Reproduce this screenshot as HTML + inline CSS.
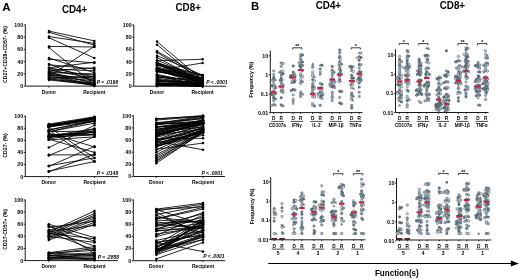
<!DOCTYPE html>
<html><head><meta charset="utf-8"><style>
html,body{margin:0;padding:0;background:#fff;}
body{width:520px;height:279px;overflow:hidden;}
svg{display:block;filter:blur(0.35px);}
</style></head><body>
<svg width="520" height="279" viewBox="0 0 520 279" font-family="'Liberation Sans', sans-serif" fill="#000">
<rect width="520" height="279" fill="#fff"/>
<text x="2.30" y="10.60" font-size="11.5" font-weight="bold" text-anchor="start" >A</text>
<text x="250.90" y="9.50" font-size="11.3" font-weight="bold" text-anchor="start" >B</text>
<text x="61.90" y="13.30" font-size="10.7" font-weight="bold" text-anchor="start" textLength="25.4" lengthAdjust="spacingAndGlyphs">CD4+</text>
<text x="175.50" y="10.90" font-size="10.7" font-weight="bold" text-anchor="start" textLength="25.4" lengthAdjust="spacingAndGlyphs">CD8+</text>
<text x="315.70" y="9.20" font-size="10.7" font-weight="bold" text-anchor="start" textLength="25.4" lengthAdjust="spacingAndGlyphs">CD4+</text>
<text x="439.70" y="8.90" font-size="10.7" font-weight="bold" text-anchor="start" textLength="25.4" lengthAdjust="spacingAndGlyphs">CD8+</text>
<line x1="25.30" y1="24.50" x2="25.30" y2="86.10" stroke="#000" stroke-width="0.9"/>
<line x1="25.30" y1="86.10" x2="118.00" y2="86.10" stroke="#000" stroke-width="0.9"/>
<line x1="23.70" y1="86.10" x2="25.30" y2="86.10" stroke="#000" stroke-width="0.8"/>
<text x="23.20" y="88.00" font-size="5.3" font-weight="bold" text-anchor="end" >0</text>
<line x1="23.70" y1="73.88" x2="25.30" y2="73.88" stroke="#000" stroke-width="0.8"/>
<text x="23.20" y="75.78" font-size="5.3" font-weight="bold" text-anchor="end" >20</text>
<line x1="23.70" y1="61.66" x2="25.30" y2="61.66" stroke="#000" stroke-width="0.8"/>
<text x="23.20" y="63.56" font-size="5.3" font-weight="bold" text-anchor="end" >40</text>
<line x1="23.70" y1="49.44" x2="25.30" y2="49.44" stroke="#000" stroke-width="0.8"/>
<text x="23.20" y="51.34" font-size="5.3" font-weight="bold" text-anchor="end" >60</text>
<line x1="23.70" y1="37.22" x2="25.30" y2="37.22" stroke="#000" stroke-width="0.8"/>
<text x="23.20" y="39.12" font-size="5.3" font-weight="bold" text-anchor="end" >80</text>
<line x1="23.70" y1="25.00" x2="25.30" y2="25.00" stroke="#000" stroke-width="0.8"/>
<text x="23.20" y="26.90" font-size="5.3" font-weight="bold" text-anchor="end" >100</text>
<line x1="49.00" y1="86.10" x2="49.00" y2="87.60" stroke="#000" stroke-width="0.8"/>
<line x1="94.30" y1="86.10" x2="94.30" y2="87.60" stroke="#000" stroke-width="0.8"/>
<text x="49.00" y="93.50" font-size="4.95" font-weight="bold" text-anchor="middle" >Donor</text>
<text x="94.30" y="93.50" font-size="4.95" font-weight="bold" text-anchor="middle" >Recipient</text>
<text x="0" y="0" font-size="5.2" font-weight="bold" text-anchor="middle" transform="translate(6.6,54.55) rotate(-90)">CD27+CD28+CD57- (%)</text>
<text x="118.20" y="84.00" font-size="5.0" font-weight="bold" font-style="italic" text-anchor="end">P = .0198</text>
<line x1="49.00" y1="31.11" x2="94.30" y2="40.89" stroke="#000" stroke-width="0.85"/>
<line x1="49.00" y1="32.33" x2="94.30" y2="45.16" stroke="#000" stroke-width="0.85"/>
<line x1="49.00" y1="36.61" x2="94.30" y2="43.33" stroke="#000" stroke-width="0.85"/>
<line x1="49.00" y1="37.83" x2="94.30" y2="57.99" stroke="#000" stroke-width="0.85"/>
<line x1="49.00" y1="46.38" x2="94.30" y2="47.00" stroke="#000" stroke-width="0.85"/>
<line x1="49.00" y1="47.61" x2="94.30" y2="84.27" stroke="#000" stroke-width="0.85"/>
<line x1="49.00" y1="57.99" x2="94.30" y2="72.66" stroke="#000" stroke-width="0.85"/>
<line x1="49.00" y1="59.22" x2="94.30" y2="62.88" stroke="#000" stroke-width="0.85"/>
<line x1="49.00" y1="64.10" x2="94.30" y2="81.21" stroke="#000" stroke-width="0.85"/>
<line x1="49.00" y1="64.72" x2="94.30" y2="68.99" stroke="#000" stroke-width="0.85"/>
<line x1="49.00" y1="67.77" x2="94.30" y2="62.27" stroke="#000" stroke-width="0.85"/>
<line x1="49.00" y1="67.77" x2="94.30" y2="76.94" stroke="#000" stroke-width="0.85"/>
<line x1="49.00" y1="68.99" x2="94.30" y2="70.82" stroke="#000" stroke-width="0.85"/>
<line x1="49.00" y1="69.60" x2="94.30" y2="78.77" stroke="#000" stroke-width="0.85"/>
<line x1="49.00" y1="70.82" x2="94.30" y2="67.77" stroke="#000" stroke-width="0.85"/>
<line x1="49.00" y1="71.44" x2="94.30" y2="75.10" stroke="#000" stroke-width="0.85"/>
<line x1="49.00" y1="72.05" x2="94.30" y2="83.66" stroke="#000" stroke-width="0.85"/>
<line x1="49.00" y1="72.66" x2="94.30" y2="73.88" stroke="#000" stroke-width="0.85"/>
<line x1="49.00" y1="73.27" x2="94.30" y2="79.99" stroke="#000" stroke-width="0.85"/>
<line x1="49.00" y1="73.88" x2="94.30" y2="82.43" stroke="#000" stroke-width="0.85"/>
<line x1="49.00" y1="74.49" x2="94.30" y2="84.88" stroke="#000" stroke-width="0.85"/>
<line x1="49.00" y1="75.10" x2="94.30" y2="78.16" stroke="#000" stroke-width="0.85"/>
<line x1="49.00" y1="75.71" x2="94.30" y2="85.49" stroke="#000" stroke-width="0.85"/>
<line x1="49.00" y1="76.32" x2="94.30" y2="46.38" stroke="#000" stroke-width="0.85"/>
<line x1="49.00" y1="76.94" x2="94.30" y2="80.60" stroke="#000" stroke-width="0.85"/>
<line x1="49.00" y1="77.55" x2="94.30" y2="84.27" stroke="#000" stroke-width="0.85"/>
<line x1="49.00" y1="78.16" x2="94.30" y2="76.32" stroke="#000" stroke-width="0.85"/>
<line x1="49.00" y1="78.77" x2="94.30" y2="85.49" stroke="#000" stroke-width="0.85"/>
<line x1="49.00" y1="79.38" x2="94.30" y2="83.04" stroke="#000" stroke-width="0.85"/>
<line x1="49.00" y1="79.99" x2="94.30" y2="84.88" stroke="#000" stroke-width="0.85"/>
<circle cx="49.0" cy="31.11" r="1.25" fill="#000"/>
<circle cx="94.3" cy="40.89" r="1.25" fill="#000"/>
<circle cx="49.0" cy="32.33" r="1.25" fill="#000"/>
<circle cx="94.3" cy="45.16" r="1.25" fill="#000"/>
<circle cx="49.0" cy="36.61" r="1.25" fill="#000"/>
<circle cx="94.3" cy="43.33" r="1.25" fill="#000"/>
<circle cx="49.0" cy="37.83" r="1.25" fill="#000"/>
<circle cx="94.3" cy="57.99" r="1.25" fill="#000"/>
<circle cx="49.0" cy="46.38" r="1.25" fill="#000"/>
<circle cx="94.3" cy="47.00" r="1.25" fill="#000"/>
<circle cx="49.0" cy="47.61" r="1.25" fill="#000"/>
<circle cx="94.3" cy="84.27" r="1.25" fill="#000"/>
<circle cx="49.0" cy="57.99" r="1.25" fill="#000"/>
<circle cx="94.3" cy="72.66" r="1.25" fill="#000"/>
<circle cx="49.0" cy="59.22" r="1.25" fill="#000"/>
<circle cx="94.3" cy="62.88" r="1.25" fill="#000"/>
<circle cx="49.0" cy="64.10" r="1.25" fill="#000"/>
<circle cx="94.3" cy="81.21" r="1.25" fill="#000"/>
<circle cx="49.0" cy="64.72" r="1.25" fill="#000"/>
<circle cx="94.3" cy="68.99" r="1.25" fill="#000"/>
<circle cx="49.0" cy="67.77" r="1.25" fill="#000"/>
<circle cx="94.3" cy="62.27" r="1.25" fill="#000"/>
<circle cx="49.0" cy="67.77" r="1.25" fill="#000"/>
<circle cx="94.3" cy="76.94" r="1.25" fill="#000"/>
<circle cx="49.0" cy="68.99" r="1.25" fill="#000"/>
<circle cx="94.3" cy="70.82" r="1.25" fill="#000"/>
<circle cx="49.0" cy="69.60" r="1.25" fill="#000"/>
<circle cx="94.3" cy="78.77" r="1.25" fill="#000"/>
<circle cx="49.0" cy="70.82" r="1.25" fill="#000"/>
<circle cx="94.3" cy="67.77" r="1.25" fill="#000"/>
<circle cx="49.0" cy="71.44" r="1.25" fill="#000"/>
<circle cx="94.3" cy="75.10" r="1.25" fill="#000"/>
<circle cx="49.0" cy="72.05" r="1.25" fill="#000"/>
<circle cx="94.3" cy="83.66" r="1.25" fill="#000"/>
<circle cx="49.0" cy="72.66" r="1.25" fill="#000"/>
<circle cx="94.3" cy="73.88" r="1.25" fill="#000"/>
<circle cx="49.0" cy="73.27" r="1.25" fill="#000"/>
<circle cx="94.3" cy="79.99" r="1.25" fill="#000"/>
<circle cx="49.0" cy="73.88" r="1.25" fill="#000"/>
<circle cx="94.3" cy="82.43" r="1.25" fill="#000"/>
<circle cx="49.0" cy="74.49" r="1.25" fill="#000"/>
<circle cx="94.3" cy="84.88" r="1.25" fill="#000"/>
<circle cx="49.0" cy="75.10" r="1.25" fill="#000"/>
<circle cx="94.3" cy="78.16" r="1.25" fill="#000"/>
<circle cx="49.0" cy="75.71" r="1.25" fill="#000"/>
<circle cx="94.3" cy="85.49" r="1.25" fill="#000"/>
<circle cx="49.0" cy="76.32" r="1.25" fill="#000"/>
<circle cx="94.3" cy="46.38" r="1.25" fill="#000"/>
<circle cx="49.0" cy="76.94" r="1.25" fill="#000"/>
<circle cx="94.3" cy="80.60" r="1.25" fill="#000"/>
<circle cx="49.0" cy="77.55" r="1.25" fill="#000"/>
<circle cx="94.3" cy="84.27" r="1.25" fill="#000"/>
<circle cx="49.0" cy="78.16" r="1.25" fill="#000"/>
<circle cx="94.3" cy="76.32" r="1.25" fill="#000"/>
<circle cx="49.0" cy="78.77" r="1.25" fill="#000"/>
<circle cx="94.3" cy="85.49" r="1.25" fill="#000"/>
<circle cx="49.0" cy="79.38" r="1.25" fill="#000"/>
<circle cx="94.3" cy="83.04" r="1.25" fill="#000"/>
<circle cx="49.0" cy="79.99" r="1.25" fill="#000"/>
<circle cx="94.3" cy="84.88" r="1.25" fill="#000"/>
<line x1="133.80" y1="24.60" x2="133.80" y2="86.20" stroke="#000" stroke-width="0.9"/>
<line x1="133.80" y1="86.20" x2="226.00" y2="86.20" stroke="#000" stroke-width="0.9"/>
<line x1="132.20" y1="86.20" x2="133.80" y2="86.20" stroke="#000" stroke-width="0.8"/>
<text x="131.70" y="88.10" font-size="5.3" font-weight="bold" text-anchor="end" >0</text>
<line x1="132.20" y1="73.98" x2="133.80" y2="73.98" stroke="#000" stroke-width="0.8"/>
<text x="131.70" y="75.88" font-size="5.3" font-weight="bold" text-anchor="end" >20</text>
<line x1="132.20" y1="61.76" x2="133.80" y2="61.76" stroke="#000" stroke-width="0.8"/>
<text x="131.70" y="63.66" font-size="5.3" font-weight="bold" text-anchor="end" >40</text>
<line x1="132.20" y1="49.54" x2="133.80" y2="49.54" stroke="#000" stroke-width="0.8"/>
<text x="131.70" y="51.44" font-size="5.3" font-weight="bold" text-anchor="end" >60</text>
<line x1="132.20" y1="37.32" x2="133.80" y2="37.32" stroke="#000" stroke-width="0.8"/>
<text x="131.70" y="39.22" font-size="5.3" font-weight="bold" text-anchor="end" >80</text>
<line x1="132.20" y1="25.10" x2="133.80" y2="25.10" stroke="#000" stroke-width="0.8"/>
<text x="131.70" y="27.00" font-size="5.3" font-weight="bold" text-anchor="end" >100</text>
<line x1="157.00" y1="86.20" x2="157.00" y2="87.70" stroke="#000" stroke-width="0.8"/>
<line x1="202.60" y1="86.20" x2="202.60" y2="87.70" stroke="#000" stroke-width="0.8"/>
<text x="157.00" y="93.50" font-size="4.95" font-weight="bold" text-anchor="middle" >Donor</text>
<text x="202.60" y="93.50" font-size="4.95" font-weight="bold" text-anchor="middle" >Recipient</text>
<text x="0" y="0" font-size="5.2" font-weight="bold" text-anchor="middle" transform="translate(6.6,54.65) rotate(-90)"></text>
<text x="227.60" y="83.80" font-size="5.0" font-weight="bold" font-style="italic" text-anchor="end">P &lt; .0001</text>
<line x1="157.00" y1="41.60" x2="202.60" y2="80.09" stroke="#000" stroke-width="0.85"/>
<line x1="157.00" y1="44.65" x2="202.60" y2="83.15" stroke="#000" stroke-width="0.85"/>
<line x1="157.00" y1="51.37" x2="202.60" y2="76.42" stroke="#000" stroke-width="0.85"/>
<line x1="157.00" y1="52.60" x2="202.60" y2="78.87" stroke="#000" stroke-width="0.85"/>
<line x1="157.00" y1="55.65" x2="202.60" y2="75.20" stroke="#000" stroke-width="0.85"/>
<line x1="157.00" y1="57.48" x2="202.60" y2="81.31" stroke="#000" stroke-width="0.85"/>
<line x1="157.00" y1="60.54" x2="202.60" y2="59.32" stroke="#000" stroke-width="0.85"/>
<line x1="157.00" y1="70.31" x2="202.60" y2="62.98" stroke="#000" stroke-width="0.85"/>
<line x1="157.00" y1="78.25" x2="202.60" y2="84.10" stroke="#000" stroke-width="0.85"/>
<line x1="157.00" y1="84.67" x2="202.60" y2="85.64" stroke="#000" stroke-width="0.85"/>
<line x1="157.00" y1="85.00" x2="202.60" y2="86.02" stroke="#000" stroke-width="0.85"/>
<line x1="157.00" y1="75.23" x2="202.60" y2="86.02" stroke="#000" stroke-width="0.85"/>
<line x1="157.00" y1="75.49" x2="202.60" y2="82.45" stroke="#000" stroke-width="0.85"/>
<line x1="157.00" y1="80.92" x2="202.60" y2="82.19" stroke="#000" stroke-width="0.85"/>
<line x1="157.00" y1="71.18" x2="202.60" y2="80.41" stroke="#000" stroke-width="0.85"/>
<line x1="157.00" y1="85.26" x2="202.60" y2="85.95" stroke="#000" stroke-width="0.85"/>
<line x1="157.00" y1="82.93" x2="202.60" y2="85.95" stroke="#000" stroke-width="0.85"/>
<line x1="157.00" y1="64.21" x2="202.60" y2="82.40" stroke="#000" stroke-width="0.85"/>
<line x1="157.00" y1="69.40" x2="202.60" y2="81.76" stroke="#000" stroke-width="0.85"/>
<line x1="157.00" y1="84.89" x2="202.60" y2="86.02" stroke="#000" stroke-width="0.85"/>
<line x1="157.00" y1="68.20" x2="202.60" y2="81.91" stroke="#000" stroke-width="0.85"/>
<line x1="157.00" y1="70.94" x2="202.60" y2="82.45" stroke="#000" stroke-width="0.85"/>
<line x1="157.00" y1="64.86" x2="202.60" y2="78.75" stroke="#000" stroke-width="0.85"/>
<line x1="157.00" y1="71.26" x2="202.60" y2="79.94" stroke="#000" stroke-width="0.85"/>
<line x1="157.00" y1="66.77" x2="202.60" y2="80.34" stroke="#000" stroke-width="0.85"/>
<line x1="157.00" y1="83.58" x2="202.60" y2="84.02" stroke="#000" stroke-width="0.85"/>
<line x1="157.00" y1="82.74" x2="202.60" y2="86.02" stroke="#000" stroke-width="0.85"/>
<line x1="157.00" y1="68.55" x2="202.60" y2="78.37" stroke="#000" stroke-width="0.85"/>
<line x1="157.00" y1="62.45" x2="202.60" y2="80.33" stroke="#000" stroke-width="0.85"/>
<line x1="157.00" y1="70.69" x2="202.60" y2="80.93" stroke="#000" stroke-width="0.85"/>
<line x1="157.00" y1="63.50" x2="202.60" y2="74.90" stroke="#000" stroke-width="0.85"/>
<line x1="157.00" y1="68.67" x2="202.60" y2="83.50" stroke="#000" stroke-width="0.85"/>
<line x1="157.00" y1="69.16" x2="202.60" y2="75.94" stroke="#000" stroke-width="0.85"/>
<line x1="157.00" y1="79.30" x2="202.60" y2="83.43" stroke="#000" stroke-width="0.85"/>
<line x1="157.00" y1="85.78" x2="202.60" y2="86.02" stroke="#000" stroke-width="0.85"/>
<line x1="157.00" y1="83.60" x2="202.60" y2="84.41" stroke="#000" stroke-width="0.85"/>
<line x1="157.00" y1="83.30" x2="202.60" y2="85.52" stroke="#000" stroke-width="0.85"/>
<line x1="157.00" y1="62.57" x2="202.60" y2="83.74" stroke="#000" stroke-width="0.85"/>
<line x1="157.00" y1="71.97" x2="202.60" y2="78.05" stroke="#000" stroke-width="0.85"/>
<line x1="157.00" y1="62.79" x2="202.60" y2="81.80" stroke="#000" stroke-width="0.85"/>
<line x1="157.00" y1="77.30" x2="202.60" y2="79.92" stroke="#000" stroke-width="0.85"/>
<line x1="157.00" y1="82.77" x2="202.60" y2="86.02" stroke="#000" stroke-width="0.85"/>
<line x1="157.00" y1="80.65" x2="202.60" y2="83.77" stroke="#000" stroke-width="0.85"/>
<line x1="157.00" y1="79.88" x2="202.60" y2="85.56" stroke="#000" stroke-width="0.85"/>
<line x1="157.00" y1="77.01" x2="202.60" y2="81.13" stroke="#000" stroke-width="0.85"/>
<line x1="157.00" y1="67.91" x2="202.60" y2="80.00" stroke="#000" stroke-width="0.85"/>
<line x1="157.00" y1="68.32" x2="202.60" y2="82.80" stroke="#000" stroke-width="0.85"/>
<line x1="157.00" y1="65.28" x2="202.60" y2="75.22" stroke="#000" stroke-width="0.85"/>
<line x1="157.00" y1="76.38" x2="202.60" y2="84.79" stroke="#000" stroke-width="0.85"/>
<line x1="157.00" y1="69.54" x2="202.60" y2="85.88" stroke="#000" stroke-width="0.85"/>
<line x1="157.00" y1="81.29" x2="202.60" y2="85.57" stroke="#000" stroke-width="0.85"/>
<line x1="157.00" y1="85.12" x2="202.60" y2="86.02" stroke="#000" stroke-width="0.85"/>
<line x1="157.00" y1="83.98" x2="202.60" y2="86.02" stroke="#000" stroke-width="0.85"/>
<line x1="157.00" y1="62.48" x2="202.60" y2="79.14" stroke="#000" stroke-width="0.85"/>
<line x1="157.00" y1="80.16" x2="202.60" y2="84.84" stroke="#000" stroke-width="0.85"/>
<line x1="157.00" y1="83.46" x2="202.60" y2="82.60" stroke="#000" stroke-width="0.85"/>
<line x1="157.00" y1="74.33" x2="202.60" y2="83.93" stroke="#000" stroke-width="0.85"/>
<line x1="157.00" y1="83.96" x2="202.60" y2="85.99" stroke="#000" stroke-width="0.85"/>
<line x1="157.00" y1="63.83" x2="202.60" y2="84.59" stroke="#000" stroke-width="0.85"/>
<line x1="157.00" y1="60.18" x2="202.60" y2="79.40" stroke="#000" stroke-width="0.85"/>
<circle cx="157.0" cy="41.60" r="1.25" fill="#000"/>
<circle cx="202.6" cy="80.09" r="1.25" fill="#000"/>
<circle cx="157.0" cy="44.65" r="1.25" fill="#000"/>
<circle cx="202.6" cy="83.15" r="1.25" fill="#000"/>
<circle cx="157.0" cy="51.37" r="1.25" fill="#000"/>
<circle cx="202.6" cy="76.42" r="1.25" fill="#000"/>
<circle cx="157.0" cy="52.60" r="1.25" fill="#000"/>
<circle cx="202.6" cy="78.87" r="1.25" fill="#000"/>
<circle cx="157.0" cy="55.65" r="1.25" fill="#000"/>
<circle cx="202.6" cy="75.20" r="1.25" fill="#000"/>
<circle cx="157.0" cy="57.48" r="1.25" fill="#000"/>
<circle cx="202.6" cy="81.31" r="1.25" fill="#000"/>
<circle cx="157.0" cy="60.54" r="1.25" fill="#000"/>
<circle cx="202.6" cy="59.32" r="1.25" fill="#000"/>
<circle cx="157.0" cy="70.31" r="1.25" fill="#000"/>
<circle cx="202.6" cy="62.98" r="1.25" fill="#000"/>
<circle cx="157.0" cy="78.25" r="1.25" fill="#000"/>
<circle cx="202.6" cy="84.10" r="1.25" fill="#000"/>
<circle cx="157.0" cy="84.67" r="1.25" fill="#000"/>
<circle cx="202.6" cy="85.64" r="1.25" fill="#000"/>
<circle cx="157.0" cy="85.00" r="1.25" fill="#000"/>
<circle cx="202.6" cy="86.02" r="1.25" fill="#000"/>
<circle cx="157.0" cy="75.23" r="1.25" fill="#000"/>
<circle cx="202.6" cy="86.02" r="1.25" fill="#000"/>
<circle cx="157.0" cy="75.49" r="1.25" fill="#000"/>
<circle cx="202.6" cy="82.45" r="1.25" fill="#000"/>
<circle cx="157.0" cy="80.92" r="1.25" fill="#000"/>
<circle cx="202.6" cy="82.19" r="1.25" fill="#000"/>
<circle cx="157.0" cy="71.18" r="1.25" fill="#000"/>
<circle cx="202.6" cy="80.41" r="1.25" fill="#000"/>
<circle cx="157.0" cy="85.26" r="1.25" fill="#000"/>
<circle cx="202.6" cy="85.95" r="1.25" fill="#000"/>
<circle cx="157.0" cy="82.93" r="1.25" fill="#000"/>
<circle cx="202.6" cy="85.95" r="1.25" fill="#000"/>
<circle cx="157.0" cy="64.21" r="1.25" fill="#000"/>
<circle cx="202.6" cy="82.40" r="1.25" fill="#000"/>
<circle cx="157.0" cy="69.40" r="1.25" fill="#000"/>
<circle cx="202.6" cy="81.76" r="1.25" fill="#000"/>
<circle cx="157.0" cy="84.89" r="1.25" fill="#000"/>
<circle cx="202.6" cy="86.02" r="1.25" fill="#000"/>
<circle cx="157.0" cy="68.20" r="1.25" fill="#000"/>
<circle cx="202.6" cy="81.91" r="1.25" fill="#000"/>
<circle cx="157.0" cy="70.94" r="1.25" fill="#000"/>
<circle cx="202.6" cy="82.45" r="1.25" fill="#000"/>
<circle cx="157.0" cy="64.86" r="1.25" fill="#000"/>
<circle cx="202.6" cy="78.75" r="1.25" fill="#000"/>
<circle cx="157.0" cy="71.26" r="1.25" fill="#000"/>
<circle cx="202.6" cy="79.94" r="1.25" fill="#000"/>
<circle cx="157.0" cy="66.77" r="1.25" fill="#000"/>
<circle cx="202.6" cy="80.34" r="1.25" fill="#000"/>
<circle cx="157.0" cy="83.58" r="1.25" fill="#000"/>
<circle cx="202.6" cy="84.02" r="1.25" fill="#000"/>
<circle cx="157.0" cy="82.74" r="1.25" fill="#000"/>
<circle cx="202.6" cy="86.02" r="1.25" fill="#000"/>
<circle cx="157.0" cy="68.55" r="1.25" fill="#000"/>
<circle cx="202.6" cy="78.37" r="1.25" fill="#000"/>
<circle cx="157.0" cy="62.45" r="1.25" fill="#000"/>
<circle cx="202.6" cy="80.33" r="1.25" fill="#000"/>
<circle cx="157.0" cy="70.69" r="1.25" fill="#000"/>
<circle cx="202.6" cy="80.93" r="1.25" fill="#000"/>
<circle cx="157.0" cy="63.50" r="1.25" fill="#000"/>
<circle cx="202.6" cy="74.90" r="1.25" fill="#000"/>
<circle cx="157.0" cy="68.67" r="1.25" fill="#000"/>
<circle cx="202.6" cy="83.50" r="1.25" fill="#000"/>
<circle cx="157.0" cy="69.16" r="1.25" fill="#000"/>
<circle cx="202.6" cy="75.94" r="1.25" fill="#000"/>
<circle cx="157.0" cy="79.30" r="1.25" fill="#000"/>
<circle cx="202.6" cy="83.43" r="1.25" fill="#000"/>
<circle cx="157.0" cy="85.78" r="1.25" fill="#000"/>
<circle cx="202.6" cy="86.02" r="1.25" fill="#000"/>
<circle cx="157.0" cy="83.60" r="1.25" fill="#000"/>
<circle cx="202.6" cy="84.41" r="1.25" fill="#000"/>
<circle cx="157.0" cy="83.30" r="1.25" fill="#000"/>
<circle cx="202.6" cy="85.52" r="1.25" fill="#000"/>
<circle cx="157.0" cy="62.57" r="1.25" fill="#000"/>
<circle cx="202.6" cy="83.74" r="1.25" fill="#000"/>
<circle cx="157.0" cy="71.97" r="1.25" fill="#000"/>
<circle cx="202.6" cy="78.05" r="1.25" fill="#000"/>
<circle cx="157.0" cy="62.79" r="1.25" fill="#000"/>
<circle cx="202.6" cy="81.80" r="1.25" fill="#000"/>
<circle cx="157.0" cy="77.30" r="1.25" fill="#000"/>
<circle cx="202.6" cy="79.92" r="1.25" fill="#000"/>
<circle cx="157.0" cy="82.77" r="1.25" fill="#000"/>
<circle cx="202.6" cy="86.02" r="1.25" fill="#000"/>
<circle cx="157.0" cy="80.65" r="1.25" fill="#000"/>
<circle cx="202.6" cy="83.77" r="1.25" fill="#000"/>
<circle cx="157.0" cy="79.88" r="1.25" fill="#000"/>
<circle cx="202.6" cy="85.56" r="1.25" fill="#000"/>
<circle cx="157.0" cy="77.01" r="1.25" fill="#000"/>
<circle cx="202.6" cy="81.13" r="1.25" fill="#000"/>
<circle cx="157.0" cy="67.91" r="1.25" fill="#000"/>
<circle cx="202.6" cy="80.00" r="1.25" fill="#000"/>
<circle cx="157.0" cy="68.32" r="1.25" fill="#000"/>
<circle cx="202.6" cy="82.80" r="1.25" fill="#000"/>
<circle cx="157.0" cy="65.28" r="1.25" fill="#000"/>
<circle cx="202.6" cy="75.22" r="1.25" fill="#000"/>
<circle cx="157.0" cy="76.38" r="1.25" fill="#000"/>
<circle cx="202.6" cy="84.79" r="1.25" fill="#000"/>
<circle cx="157.0" cy="69.54" r="1.25" fill="#000"/>
<circle cx="202.6" cy="85.88" r="1.25" fill="#000"/>
<circle cx="157.0" cy="81.29" r="1.25" fill="#000"/>
<circle cx="202.6" cy="85.57" r="1.25" fill="#000"/>
<circle cx="157.0" cy="85.12" r="1.25" fill="#000"/>
<circle cx="202.6" cy="86.02" r="1.25" fill="#000"/>
<circle cx="157.0" cy="83.98" r="1.25" fill="#000"/>
<circle cx="202.6" cy="86.02" r="1.25" fill="#000"/>
<circle cx="157.0" cy="62.48" r="1.25" fill="#000"/>
<circle cx="202.6" cy="79.14" r="1.25" fill="#000"/>
<circle cx="157.0" cy="80.16" r="1.25" fill="#000"/>
<circle cx="202.6" cy="84.84" r="1.25" fill="#000"/>
<circle cx="157.0" cy="83.46" r="1.25" fill="#000"/>
<circle cx="202.6" cy="82.60" r="1.25" fill="#000"/>
<circle cx="157.0" cy="74.33" r="1.25" fill="#000"/>
<circle cx="202.6" cy="83.93" r="1.25" fill="#000"/>
<circle cx="157.0" cy="83.96" r="1.25" fill="#000"/>
<circle cx="202.6" cy="85.99" r="1.25" fill="#000"/>
<circle cx="157.0" cy="63.83" r="1.25" fill="#000"/>
<circle cx="202.6" cy="84.59" r="1.25" fill="#000"/>
<circle cx="157.0" cy="60.18" r="1.25" fill="#000"/>
<circle cx="202.6" cy="79.40" r="1.25" fill="#000"/>
<line x1="25.30" y1="115.70" x2="25.30" y2="176.60" stroke="#000" stroke-width="0.9"/>
<line x1="25.30" y1="176.60" x2="118.00" y2="176.60" stroke="#000" stroke-width="0.9"/>
<line x1="23.70" y1="176.60" x2="25.30" y2="176.60" stroke="#000" stroke-width="0.8"/>
<text x="23.20" y="178.50" font-size="5.3" font-weight="bold" text-anchor="end" >0</text>
<line x1="23.70" y1="164.52" x2="25.30" y2="164.52" stroke="#000" stroke-width="0.8"/>
<text x="23.20" y="166.42" font-size="5.3" font-weight="bold" text-anchor="end" >20</text>
<line x1="23.70" y1="152.44" x2="25.30" y2="152.44" stroke="#000" stroke-width="0.8"/>
<text x="23.20" y="154.34" font-size="5.3" font-weight="bold" text-anchor="end" >40</text>
<line x1="23.70" y1="140.36" x2="25.30" y2="140.36" stroke="#000" stroke-width="0.8"/>
<text x="23.20" y="142.26" font-size="5.3" font-weight="bold" text-anchor="end" >60</text>
<line x1="23.70" y1="128.28" x2="25.30" y2="128.28" stroke="#000" stroke-width="0.8"/>
<text x="23.20" y="130.18" font-size="5.3" font-weight="bold" text-anchor="end" >80</text>
<line x1="23.70" y1="116.20" x2="25.30" y2="116.20" stroke="#000" stroke-width="0.8"/>
<text x="23.20" y="118.10" font-size="5.3" font-weight="bold" text-anchor="end" >100</text>
<line x1="48.80" y1="176.60" x2="48.80" y2="178.10" stroke="#000" stroke-width="0.8"/>
<line x1="94.50" y1="176.60" x2="94.50" y2="178.10" stroke="#000" stroke-width="0.8"/>
<text x="48.80" y="184.00" font-size="4.95" font-weight="bold" text-anchor="middle" >Donor</text>
<text x="94.50" y="184.00" font-size="4.95" font-weight="bold" text-anchor="middle" >Recipient</text>
<text x="0" y="0" font-size="5.2" font-weight="bold" text-anchor="middle" transform="translate(6.6,145.40) rotate(-90)">CD27- (%)</text>
<text x="118.20" y="174.60" font-size="5.0" font-weight="bold" font-style="italic" text-anchor="end">P = .0148</text>
<line x1="48.80" y1="131.50" x2="94.50" y2="131.21" stroke="#000" stroke-width="0.85"/>
<line x1="48.80" y1="131.75" x2="94.50" y2="121.11" stroke="#000" stroke-width="0.85"/>
<line x1="48.80" y1="126.28" x2="94.50" y2="118.71" stroke="#000" stroke-width="0.85"/>
<line x1="48.80" y1="136.10" x2="94.50" y2="132.11" stroke="#000" stroke-width="0.85"/>
<line x1="48.80" y1="137.64" x2="94.50" y2="129.24" stroke="#000" stroke-width="0.85"/>
<line x1="48.80" y1="131.67" x2="94.50" y2="123.20" stroke="#000" stroke-width="0.85"/>
<line x1="48.80" y1="134.98" x2="94.50" y2="132.56" stroke="#000" stroke-width="0.85"/>
<line x1="48.80" y1="127.13" x2="94.50" y2="117.41" stroke="#000" stroke-width="0.85"/>
<line x1="48.80" y1="126.46" x2="94.50" y2="117.69" stroke="#000" stroke-width="0.85"/>
<line x1="48.80" y1="127.01" x2="94.50" y2="118.97" stroke="#000" stroke-width="0.85"/>
<line x1="48.80" y1="136.66" x2="94.50" y2="131.03" stroke="#000" stroke-width="0.85"/>
<line x1="48.80" y1="134.56" x2="94.50" y2="134.25" stroke="#000" stroke-width="0.85"/>
<line x1="48.80" y1="139.90" x2="94.50" y2="136.87" stroke="#000" stroke-width="0.85"/>
<line x1="48.80" y1="136.13" x2="94.50" y2="128.60" stroke="#000" stroke-width="0.85"/>
<line x1="48.80" y1="124.76" x2="94.50" y2="119.90" stroke="#000" stroke-width="0.85"/>
<line x1="48.80" y1="125.08" x2="94.50" y2="117.41" stroke="#000" stroke-width="0.85"/>
<line x1="48.80" y1="124.79" x2="94.50" y2="120.82" stroke="#000" stroke-width="0.85"/>
<line x1="48.80" y1="136.76" x2="94.50" y2="134.30" stroke="#000" stroke-width="0.85"/>
<line x1="48.80" y1="137.15" x2="94.50" y2="134.93" stroke="#000" stroke-width="0.85"/>
<line x1="48.80" y1="130.18" x2="94.50" y2="120.39" stroke="#000" stroke-width="0.85"/>
<line x1="48.80" y1="126.65" x2="94.50" y2="121.44" stroke="#000" stroke-width="0.85"/>
<line x1="48.80" y1="129.71" x2="94.50" y2="121.02" stroke="#000" stroke-width="0.85"/>
<line x1="48.80" y1="138.98" x2="94.50" y2="131.80" stroke="#000" stroke-width="0.85"/>
<line x1="48.80" y1="125.52" x2="94.50" y2="117.41" stroke="#000" stroke-width="0.85"/>
<line x1="48.80" y1="127.07" x2="94.50" y2="157.88" stroke="#000" stroke-width="0.85"/>
<line x1="48.80" y1="130.09" x2="94.50" y2="161.50" stroke="#000" stroke-width="0.85"/>
<line x1="48.80" y1="133.11" x2="94.50" y2="147.00" stroke="#000" stroke-width="0.85"/>
<line x1="48.80" y1="147.61" x2="94.50" y2="125.26" stroke="#000" stroke-width="0.85"/>
<line x1="48.80" y1="154.86" x2="94.50" y2="154.86" stroke="#000" stroke-width="0.85"/>
<line x1="48.80" y1="155.46" x2="94.50" y2="136.74" stroke="#000" stroke-width="0.85"/>
<line x1="48.80" y1="165.73" x2="94.50" y2="157.88" stroke="#000" stroke-width="0.85"/>
<line x1="48.80" y1="166.33" x2="94.50" y2="146.40" stroke="#000" stroke-width="0.85"/>
<line x1="48.80" y1="171.16" x2="94.50" y2="161.50" stroke="#000" stroke-width="0.85"/>
<line x1="48.80" y1="171.77" x2="94.50" y2="154.25" stroke="#000" stroke-width="0.85"/>
<line x1="48.80" y1="124.05" x2="94.50" y2="116.80" stroke="#000" stroke-width="0.85"/>
<line x1="48.80" y1="125.26" x2="94.50" y2="118.01" stroke="#000" stroke-width="0.85"/>
<line x1="48.80" y1="139.15" x2="94.50" y2="152.44" stroke="#000" stroke-width="0.85"/>
<circle cx="48.8" cy="131.50" r="1.25" fill="#000"/>
<circle cx="94.5" cy="131.21" r="1.25" fill="#000"/>
<circle cx="48.8" cy="131.75" r="1.25" fill="#000"/>
<circle cx="94.5" cy="121.11" r="1.25" fill="#000"/>
<circle cx="48.8" cy="126.28" r="1.25" fill="#000"/>
<circle cx="94.5" cy="118.71" r="1.25" fill="#000"/>
<circle cx="48.8" cy="136.10" r="1.25" fill="#000"/>
<circle cx="94.5" cy="132.11" r="1.25" fill="#000"/>
<circle cx="48.8" cy="137.64" r="1.25" fill="#000"/>
<circle cx="94.5" cy="129.24" r="1.25" fill="#000"/>
<circle cx="48.8" cy="131.67" r="1.25" fill="#000"/>
<circle cx="94.5" cy="123.20" r="1.25" fill="#000"/>
<circle cx="48.8" cy="134.98" r="1.25" fill="#000"/>
<circle cx="94.5" cy="132.56" r="1.25" fill="#000"/>
<circle cx="48.8" cy="127.13" r="1.25" fill="#000"/>
<circle cx="94.5" cy="117.41" r="1.25" fill="#000"/>
<circle cx="48.8" cy="126.46" r="1.25" fill="#000"/>
<circle cx="94.5" cy="117.69" r="1.25" fill="#000"/>
<circle cx="48.8" cy="127.01" r="1.25" fill="#000"/>
<circle cx="94.5" cy="118.97" r="1.25" fill="#000"/>
<circle cx="48.8" cy="136.66" r="1.25" fill="#000"/>
<circle cx="94.5" cy="131.03" r="1.25" fill="#000"/>
<circle cx="48.8" cy="134.56" r="1.25" fill="#000"/>
<circle cx="94.5" cy="134.25" r="1.25" fill="#000"/>
<circle cx="48.8" cy="139.90" r="1.25" fill="#000"/>
<circle cx="94.5" cy="136.87" r="1.25" fill="#000"/>
<circle cx="48.8" cy="136.13" r="1.25" fill="#000"/>
<circle cx="94.5" cy="128.60" r="1.25" fill="#000"/>
<circle cx="48.8" cy="124.76" r="1.25" fill="#000"/>
<circle cx="94.5" cy="119.90" r="1.25" fill="#000"/>
<circle cx="48.8" cy="125.08" r="1.25" fill="#000"/>
<circle cx="94.5" cy="117.41" r="1.25" fill="#000"/>
<circle cx="48.8" cy="124.79" r="1.25" fill="#000"/>
<circle cx="94.5" cy="120.82" r="1.25" fill="#000"/>
<circle cx="48.8" cy="136.76" r="1.25" fill="#000"/>
<circle cx="94.5" cy="134.30" r="1.25" fill="#000"/>
<circle cx="48.8" cy="137.15" r="1.25" fill="#000"/>
<circle cx="94.5" cy="134.93" r="1.25" fill="#000"/>
<circle cx="48.8" cy="130.18" r="1.25" fill="#000"/>
<circle cx="94.5" cy="120.39" r="1.25" fill="#000"/>
<circle cx="48.8" cy="126.65" r="1.25" fill="#000"/>
<circle cx="94.5" cy="121.44" r="1.25" fill="#000"/>
<circle cx="48.8" cy="129.71" r="1.25" fill="#000"/>
<circle cx="94.5" cy="121.02" r="1.25" fill="#000"/>
<circle cx="48.8" cy="138.98" r="1.25" fill="#000"/>
<circle cx="94.5" cy="131.80" r="1.25" fill="#000"/>
<circle cx="48.8" cy="125.52" r="1.25" fill="#000"/>
<circle cx="94.5" cy="117.41" r="1.25" fill="#000"/>
<circle cx="48.8" cy="127.07" r="1.25" fill="#000"/>
<circle cx="94.5" cy="157.88" r="1.25" fill="#000"/>
<circle cx="48.8" cy="130.09" r="1.25" fill="#000"/>
<circle cx="94.5" cy="161.50" r="1.25" fill="#000"/>
<circle cx="48.8" cy="133.11" r="1.25" fill="#000"/>
<circle cx="94.5" cy="147.00" r="1.25" fill="#000"/>
<circle cx="48.8" cy="147.61" r="1.25" fill="#000"/>
<circle cx="94.5" cy="125.26" r="1.25" fill="#000"/>
<circle cx="48.8" cy="154.86" r="1.25" fill="#000"/>
<circle cx="94.5" cy="154.86" r="1.25" fill="#000"/>
<circle cx="48.8" cy="155.46" r="1.25" fill="#000"/>
<circle cx="94.5" cy="136.74" r="1.25" fill="#000"/>
<circle cx="48.8" cy="165.73" r="1.25" fill="#000"/>
<circle cx="94.5" cy="157.88" r="1.25" fill="#000"/>
<circle cx="48.8" cy="166.33" r="1.25" fill="#000"/>
<circle cx="94.5" cy="146.40" r="1.25" fill="#000"/>
<circle cx="48.8" cy="171.16" r="1.25" fill="#000"/>
<circle cx="94.5" cy="161.50" r="1.25" fill="#000"/>
<circle cx="48.8" cy="171.77" r="1.25" fill="#000"/>
<circle cx="94.5" cy="154.25" r="1.25" fill="#000"/>
<circle cx="48.8" cy="124.05" r="1.25" fill="#000"/>
<circle cx="94.5" cy="116.80" r="1.25" fill="#000"/>
<circle cx="48.8" cy="125.26" r="1.25" fill="#000"/>
<circle cx="94.5" cy="118.01" r="1.25" fill="#000"/>
<circle cx="48.8" cy="139.15" r="1.25" fill="#000"/>
<circle cx="94.5" cy="152.44" r="1.25" fill="#000"/>
<line x1="133.30" y1="115.30" x2="133.30" y2="176.50" stroke="#000" stroke-width="0.9"/>
<line x1="133.30" y1="176.50" x2="225.00" y2="176.50" stroke="#000" stroke-width="0.9"/>
<line x1="131.70" y1="176.50" x2="133.30" y2="176.50" stroke="#000" stroke-width="0.8"/>
<text x="131.20" y="178.40" font-size="5.3" font-weight="bold" text-anchor="end" >0</text>
<line x1="131.70" y1="164.36" x2="133.30" y2="164.36" stroke="#000" stroke-width="0.8"/>
<text x="131.20" y="166.26" font-size="5.3" font-weight="bold" text-anchor="end" >20</text>
<line x1="131.70" y1="152.22" x2="133.30" y2="152.22" stroke="#000" stroke-width="0.8"/>
<text x="131.20" y="154.12" font-size="5.3" font-weight="bold" text-anchor="end" >40</text>
<line x1="131.70" y1="140.08" x2="133.30" y2="140.08" stroke="#000" stroke-width="0.8"/>
<text x="131.20" y="141.98" font-size="5.3" font-weight="bold" text-anchor="end" >60</text>
<line x1="131.70" y1="127.94" x2="133.30" y2="127.94" stroke="#000" stroke-width="0.8"/>
<text x="131.20" y="129.84" font-size="5.3" font-weight="bold" text-anchor="end" >80</text>
<line x1="131.70" y1="115.80" x2="133.30" y2="115.80" stroke="#000" stroke-width="0.8"/>
<text x="131.20" y="117.70" font-size="5.3" font-weight="bold" text-anchor="end" >100</text>
<line x1="156.30" y1="176.50" x2="156.30" y2="178.00" stroke="#000" stroke-width="0.8"/>
<line x1="203.00" y1="176.50" x2="203.00" y2="178.00" stroke="#000" stroke-width="0.8"/>
<text x="156.30" y="184.00" font-size="4.95" font-weight="bold" text-anchor="middle" >Donor</text>
<text x="203.00" y="184.00" font-size="4.95" font-weight="bold" text-anchor="middle" >Recipient</text>
<text x="0" y="0" font-size="5.2" font-weight="bold" text-anchor="middle" transform="translate(6.6,145.15) rotate(-90)"></text>
<text x="222.90" y="175.00" font-size="5.0" font-weight="bold" font-style="italic" text-anchor="end">P &lt;  .0001</text>
<line x1="156.30" y1="140.86" x2="203.00" y2="128.38" stroke="#000" stroke-width="0.85"/>
<line x1="156.30" y1="124.89" x2="203.00" y2="118.07" stroke="#000" stroke-width="0.85"/>
<line x1="156.30" y1="129.43" x2="203.00" y2="120.15" stroke="#000" stroke-width="0.85"/>
<line x1="156.30" y1="146.64" x2="203.00" y2="131.85" stroke="#000" stroke-width="0.85"/>
<line x1="156.30" y1="131.38" x2="203.00" y2="119.85" stroke="#000" stroke-width="0.85"/>
<line x1="156.30" y1="140.19" x2="203.00" y2="130.68" stroke="#000" stroke-width="0.85"/>
<line x1="156.30" y1="123.29" x2="203.00" y2="122.72" stroke="#000" stroke-width="0.85"/>
<line x1="156.30" y1="144.91" x2="203.00" y2="127.53" stroke="#000" stroke-width="0.85"/>
<line x1="156.30" y1="123.89" x2="203.00" y2="117.27" stroke="#000" stroke-width="0.85"/>
<line x1="156.30" y1="146.86" x2="203.00" y2="129.74" stroke="#000" stroke-width="0.85"/>
<line x1="156.30" y1="129.94" x2="203.00" y2="122.54" stroke="#000" stroke-width="0.85"/>
<line x1="156.30" y1="123.41" x2="203.00" y2="123.95" stroke="#000" stroke-width="0.85"/>
<line x1="156.30" y1="146.62" x2="203.00" y2="129.68" stroke="#000" stroke-width="0.85"/>
<line x1="156.30" y1="134.85" x2="203.00" y2="121.62" stroke="#000" stroke-width="0.85"/>
<line x1="156.30" y1="132.29" x2="203.00" y2="120.92" stroke="#000" stroke-width="0.85"/>
<line x1="156.30" y1="142.86" x2="203.00" y2="131.61" stroke="#000" stroke-width="0.85"/>
<line x1="156.30" y1="127.08" x2="203.00" y2="123.34" stroke="#000" stroke-width="0.85"/>
<line x1="156.30" y1="126.75" x2="203.00" y2="120.68" stroke="#000" stroke-width="0.85"/>
<line x1="156.30" y1="127.30" x2="203.00" y2="122.37" stroke="#000" stroke-width="0.85"/>
<line x1="156.30" y1="123.42" x2="203.00" y2="116.34" stroke="#000" stroke-width="0.85"/>
<line x1="156.30" y1="130.03" x2="203.00" y2="123.35" stroke="#000" stroke-width="0.85"/>
<line x1="156.30" y1="136.40" x2="203.00" y2="122.62" stroke="#000" stroke-width="0.85"/>
<line x1="156.30" y1="131.92" x2="203.00" y2="120.35" stroke="#000" stroke-width="0.85"/>
<line x1="156.30" y1="134.17" x2="203.00" y2="124.71" stroke="#000" stroke-width="0.85"/>
<line x1="156.30" y1="134.77" x2="203.00" y2="129.36" stroke="#000" stroke-width="0.85"/>
<line x1="156.30" y1="132.47" x2="203.00" y2="126.86" stroke="#000" stroke-width="0.85"/>
<line x1="156.30" y1="119.03" x2="203.00" y2="115.80" stroke="#000" stroke-width="0.85"/>
<line x1="156.30" y1="124.70" x2="203.00" y2="120.66" stroke="#000" stroke-width="0.85"/>
<line x1="156.30" y1="140.20" x2="203.00" y2="127.40" stroke="#000" stroke-width="0.85"/>
<line x1="156.30" y1="129.24" x2="203.00" y2="122.46" stroke="#000" stroke-width="0.85"/>
<line x1="156.30" y1="135.64" x2="203.00" y2="123.27" stroke="#000" stroke-width="0.85"/>
<line x1="156.30" y1="122.62" x2="203.00" y2="118.93" stroke="#000" stroke-width="0.85"/>
<line x1="156.30" y1="126.98" x2="203.00" y2="123.43" stroke="#000" stroke-width="0.85"/>
<line x1="156.30" y1="141.44" x2="203.00" y2="128.41" stroke="#000" stroke-width="0.85"/>
<line x1="156.30" y1="135.81" x2="203.00" y2="123.56" stroke="#000" stroke-width="0.85"/>
<line x1="156.30" y1="145.11" x2="203.00" y2="130.71" stroke="#000" stroke-width="0.85"/>
<line x1="156.30" y1="137.19" x2="203.00" y2="126.38" stroke="#000" stroke-width="0.85"/>
<line x1="156.30" y1="134.46" x2="203.00" y2="123.48" stroke="#000" stroke-width="0.85"/>
<line x1="156.30" y1="132.81" x2="203.00" y2="124.04" stroke="#000" stroke-width="0.85"/>
<line x1="156.30" y1="133.52" x2="203.00" y2="120.92" stroke="#000" stroke-width="0.85"/>
<line x1="156.30" y1="139.51" x2="203.00" y2="124.35" stroke="#000" stroke-width="0.85"/>
<line x1="156.30" y1="145.88" x2="203.00" y2="132.64" stroke="#000" stroke-width="0.85"/>
<line x1="156.30" y1="135.75" x2="203.00" y2="121.97" stroke="#000" stroke-width="0.85"/>
<line x1="156.30" y1="143.22" x2="203.00" y2="132.41" stroke="#000" stroke-width="0.85"/>
<line x1="156.30" y1="149.79" x2="203.00" y2="129.15" stroke="#000" stroke-width="0.85"/>
<line x1="156.30" y1="152.22" x2="203.00" y2="130.37" stroke="#000" stroke-width="0.85"/>
<line x1="156.30" y1="154.65" x2="203.00" y2="131.58" stroke="#000" stroke-width="0.85"/>
<line x1="156.30" y1="156.47" x2="203.00" y2="132.19" stroke="#000" stroke-width="0.85"/>
<line x1="156.30" y1="158.29" x2="203.00" y2="132.80" stroke="#000" stroke-width="0.85"/>
<line x1="156.30" y1="160.11" x2="203.00" y2="130.97" stroke="#000" stroke-width="0.85"/>
<line x1="156.30" y1="161.32" x2="203.00" y2="132.80" stroke="#000" stroke-width="0.85"/>
<line x1="156.30" y1="163.15" x2="203.00" y2="132.19" stroke="#000" stroke-width="0.85"/>
<line x1="156.30" y1="141.29" x2="203.00" y2="149.79" stroke="#000" stroke-width="0.85"/>
<line x1="156.30" y1="149.19" x2="203.00" y2="143.12" stroke="#000" stroke-width="0.85"/>
<line x1="156.30" y1="138.87" x2="203.00" y2="138.26" stroke="#000" stroke-width="0.85"/>
<line x1="156.30" y1="118.84" x2="203.00" y2="115.80" stroke="#000" stroke-width="0.85"/>
<line x1="156.30" y1="120.05" x2="203.00" y2="116.41" stroke="#000" stroke-width="0.85"/>
<line x1="156.30" y1="146.15" x2="203.00" y2="135.22" stroke="#000" stroke-width="0.85"/>
<circle cx="156.3" cy="140.86" r="1.25" fill="#000"/>
<circle cx="203.0" cy="128.38" r="1.25" fill="#000"/>
<circle cx="156.3" cy="124.89" r="1.25" fill="#000"/>
<circle cx="203.0" cy="118.07" r="1.25" fill="#000"/>
<circle cx="156.3" cy="129.43" r="1.25" fill="#000"/>
<circle cx="203.0" cy="120.15" r="1.25" fill="#000"/>
<circle cx="156.3" cy="146.64" r="1.25" fill="#000"/>
<circle cx="203.0" cy="131.85" r="1.25" fill="#000"/>
<circle cx="156.3" cy="131.38" r="1.25" fill="#000"/>
<circle cx="203.0" cy="119.85" r="1.25" fill="#000"/>
<circle cx="156.3" cy="140.19" r="1.25" fill="#000"/>
<circle cx="203.0" cy="130.68" r="1.25" fill="#000"/>
<circle cx="156.3" cy="123.29" r="1.25" fill="#000"/>
<circle cx="203.0" cy="122.72" r="1.25" fill="#000"/>
<circle cx="156.3" cy="144.91" r="1.25" fill="#000"/>
<circle cx="203.0" cy="127.53" r="1.25" fill="#000"/>
<circle cx="156.3" cy="123.89" r="1.25" fill="#000"/>
<circle cx="203.0" cy="117.27" r="1.25" fill="#000"/>
<circle cx="156.3" cy="146.86" r="1.25" fill="#000"/>
<circle cx="203.0" cy="129.74" r="1.25" fill="#000"/>
<circle cx="156.3" cy="129.94" r="1.25" fill="#000"/>
<circle cx="203.0" cy="122.54" r="1.25" fill="#000"/>
<circle cx="156.3" cy="123.41" r="1.25" fill="#000"/>
<circle cx="203.0" cy="123.95" r="1.25" fill="#000"/>
<circle cx="156.3" cy="146.62" r="1.25" fill="#000"/>
<circle cx="203.0" cy="129.68" r="1.25" fill="#000"/>
<circle cx="156.3" cy="134.85" r="1.25" fill="#000"/>
<circle cx="203.0" cy="121.62" r="1.25" fill="#000"/>
<circle cx="156.3" cy="132.29" r="1.25" fill="#000"/>
<circle cx="203.0" cy="120.92" r="1.25" fill="#000"/>
<circle cx="156.3" cy="142.86" r="1.25" fill="#000"/>
<circle cx="203.0" cy="131.61" r="1.25" fill="#000"/>
<circle cx="156.3" cy="127.08" r="1.25" fill="#000"/>
<circle cx="203.0" cy="123.34" r="1.25" fill="#000"/>
<circle cx="156.3" cy="126.75" r="1.25" fill="#000"/>
<circle cx="203.0" cy="120.68" r="1.25" fill="#000"/>
<circle cx="156.3" cy="127.30" r="1.25" fill="#000"/>
<circle cx="203.0" cy="122.37" r="1.25" fill="#000"/>
<circle cx="156.3" cy="123.42" r="1.25" fill="#000"/>
<circle cx="203.0" cy="116.34" r="1.25" fill="#000"/>
<circle cx="156.3" cy="130.03" r="1.25" fill="#000"/>
<circle cx="203.0" cy="123.35" r="1.25" fill="#000"/>
<circle cx="156.3" cy="136.40" r="1.25" fill="#000"/>
<circle cx="203.0" cy="122.62" r="1.25" fill="#000"/>
<circle cx="156.3" cy="131.92" r="1.25" fill="#000"/>
<circle cx="203.0" cy="120.35" r="1.25" fill="#000"/>
<circle cx="156.3" cy="134.17" r="1.25" fill="#000"/>
<circle cx="203.0" cy="124.71" r="1.25" fill="#000"/>
<circle cx="156.3" cy="134.77" r="1.25" fill="#000"/>
<circle cx="203.0" cy="129.36" r="1.25" fill="#000"/>
<circle cx="156.3" cy="132.47" r="1.25" fill="#000"/>
<circle cx="203.0" cy="126.86" r="1.25" fill="#000"/>
<circle cx="156.3" cy="119.03" r="1.25" fill="#000"/>
<circle cx="203.0" cy="115.80" r="1.25" fill="#000"/>
<circle cx="156.3" cy="124.70" r="1.25" fill="#000"/>
<circle cx="203.0" cy="120.66" r="1.25" fill="#000"/>
<circle cx="156.3" cy="140.20" r="1.25" fill="#000"/>
<circle cx="203.0" cy="127.40" r="1.25" fill="#000"/>
<circle cx="156.3" cy="129.24" r="1.25" fill="#000"/>
<circle cx="203.0" cy="122.46" r="1.25" fill="#000"/>
<circle cx="156.3" cy="135.64" r="1.25" fill="#000"/>
<circle cx="203.0" cy="123.27" r="1.25" fill="#000"/>
<circle cx="156.3" cy="122.62" r="1.25" fill="#000"/>
<circle cx="203.0" cy="118.93" r="1.25" fill="#000"/>
<circle cx="156.3" cy="126.98" r="1.25" fill="#000"/>
<circle cx="203.0" cy="123.43" r="1.25" fill="#000"/>
<circle cx="156.3" cy="141.44" r="1.25" fill="#000"/>
<circle cx="203.0" cy="128.41" r="1.25" fill="#000"/>
<circle cx="156.3" cy="135.81" r="1.25" fill="#000"/>
<circle cx="203.0" cy="123.56" r="1.25" fill="#000"/>
<circle cx="156.3" cy="145.11" r="1.25" fill="#000"/>
<circle cx="203.0" cy="130.71" r="1.25" fill="#000"/>
<circle cx="156.3" cy="137.19" r="1.25" fill="#000"/>
<circle cx="203.0" cy="126.38" r="1.25" fill="#000"/>
<circle cx="156.3" cy="134.46" r="1.25" fill="#000"/>
<circle cx="203.0" cy="123.48" r="1.25" fill="#000"/>
<circle cx="156.3" cy="132.81" r="1.25" fill="#000"/>
<circle cx="203.0" cy="124.04" r="1.25" fill="#000"/>
<circle cx="156.3" cy="133.52" r="1.25" fill="#000"/>
<circle cx="203.0" cy="120.92" r="1.25" fill="#000"/>
<circle cx="156.3" cy="139.51" r="1.25" fill="#000"/>
<circle cx="203.0" cy="124.35" r="1.25" fill="#000"/>
<circle cx="156.3" cy="145.88" r="1.25" fill="#000"/>
<circle cx="203.0" cy="132.64" r="1.25" fill="#000"/>
<circle cx="156.3" cy="135.75" r="1.25" fill="#000"/>
<circle cx="203.0" cy="121.97" r="1.25" fill="#000"/>
<circle cx="156.3" cy="143.22" r="1.25" fill="#000"/>
<circle cx="203.0" cy="132.41" r="1.25" fill="#000"/>
<circle cx="156.3" cy="149.79" r="1.25" fill="#000"/>
<circle cx="203.0" cy="129.15" r="1.25" fill="#000"/>
<circle cx="156.3" cy="152.22" r="1.25" fill="#000"/>
<circle cx="203.0" cy="130.37" r="1.25" fill="#000"/>
<circle cx="156.3" cy="154.65" r="1.25" fill="#000"/>
<circle cx="203.0" cy="131.58" r="1.25" fill="#000"/>
<circle cx="156.3" cy="156.47" r="1.25" fill="#000"/>
<circle cx="203.0" cy="132.19" r="1.25" fill="#000"/>
<circle cx="156.3" cy="158.29" r="1.25" fill="#000"/>
<circle cx="203.0" cy="132.80" r="1.25" fill="#000"/>
<circle cx="156.3" cy="160.11" r="1.25" fill="#000"/>
<circle cx="203.0" cy="130.97" r="1.25" fill="#000"/>
<circle cx="156.3" cy="161.32" r="1.25" fill="#000"/>
<circle cx="203.0" cy="132.80" r="1.25" fill="#000"/>
<circle cx="156.3" cy="163.15" r="1.25" fill="#000"/>
<circle cx="203.0" cy="132.19" r="1.25" fill="#000"/>
<circle cx="156.3" cy="141.29" r="1.25" fill="#000"/>
<circle cx="203.0" cy="149.79" r="1.25" fill="#000"/>
<circle cx="156.3" cy="149.19" r="1.25" fill="#000"/>
<circle cx="203.0" cy="143.12" r="1.25" fill="#000"/>
<circle cx="156.3" cy="138.87" r="1.25" fill="#000"/>
<circle cx="203.0" cy="138.26" r="1.25" fill="#000"/>
<circle cx="156.3" cy="118.84" r="1.25" fill="#000"/>
<circle cx="203.0" cy="115.80" r="1.25" fill="#000"/>
<circle cx="156.3" cy="120.05" r="1.25" fill="#000"/>
<circle cx="203.0" cy="116.41" r="1.25" fill="#000"/>
<circle cx="156.3" cy="146.15" r="1.25" fill="#000"/>
<circle cx="203.0" cy="135.22" r="1.25" fill="#000"/>
<line x1="25.20" y1="199.50" x2="25.20" y2="260.60" stroke="#000" stroke-width="0.9"/>
<line x1="25.20" y1="260.60" x2="118.00" y2="260.60" stroke="#000" stroke-width="0.9"/>
<line x1="23.60" y1="260.60" x2="25.20" y2="260.60" stroke="#000" stroke-width="0.8"/>
<text x="23.10" y="262.50" font-size="5.3" font-weight="bold" text-anchor="end" >0</text>
<line x1="23.60" y1="248.48" x2="25.20" y2="248.48" stroke="#000" stroke-width="0.8"/>
<text x="23.10" y="250.38" font-size="5.3" font-weight="bold" text-anchor="end" >20</text>
<line x1="23.60" y1="236.36" x2="25.20" y2="236.36" stroke="#000" stroke-width="0.8"/>
<text x="23.10" y="238.26" font-size="5.3" font-weight="bold" text-anchor="end" >40</text>
<line x1="23.60" y1="224.24" x2="25.20" y2="224.24" stroke="#000" stroke-width="0.8"/>
<text x="23.10" y="226.14" font-size="5.3" font-weight="bold" text-anchor="end" >60</text>
<line x1="23.60" y1="212.12" x2="25.20" y2="212.12" stroke="#000" stroke-width="0.8"/>
<text x="23.10" y="214.02" font-size="5.3" font-weight="bold" text-anchor="end" >80</text>
<line x1="23.60" y1="200.00" x2="25.20" y2="200.00" stroke="#000" stroke-width="0.8"/>
<text x="23.10" y="201.90" font-size="5.3" font-weight="bold" text-anchor="end" >100</text>
<line x1="48.80" y1="260.60" x2="48.80" y2="262.10" stroke="#000" stroke-width="0.8"/>
<line x1="94.50" y1="260.60" x2="94.50" y2="262.10" stroke="#000" stroke-width="0.8"/>
<text x="48.80" y="268.20" font-size="4.95" font-weight="bold" text-anchor="middle" >Donor</text>
<text x="94.50" y="268.20" font-size="4.95" font-weight="bold" text-anchor="middle" >Recipient</text>
<text x="0" y="0" font-size="5.2" font-weight="bold" text-anchor="middle" transform="translate(6.6,229.30) rotate(-90)">CD27-CD57+ (%)</text>
<text x="119.00" y="258.70" font-size="5.0" font-weight="bold" font-style="italic" text-anchor="end">P = .2858</text>
<line x1="48.80" y1="224.24" x2="94.50" y2="237.57" stroke="#000" stroke-width="0.85"/>
<line x1="48.80" y1="226.06" x2="94.50" y2="241.21" stroke="#000" stroke-width="0.85"/>
<line x1="48.80" y1="230.30" x2="94.50" y2="246.06" stroke="#000" stroke-width="0.85"/>
<line x1="48.80" y1="232.12" x2="94.50" y2="250.30" stroke="#000" stroke-width="0.85"/>
<line x1="48.80" y1="233.33" x2="94.50" y2="238.78" stroke="#000" stroke-width="0.85"/>
<line x1="48.80" y1="236.36" x2="94.50" y2="242.42" stroke="#000" stroke-width="0.85"/>
<line x1="48.80" y1="225.45" x2="94.50" y2="253.33" stroke="#000" stroke-width="0.85"/>
<line x1="48.80" y1="232.12" x2="94.50" y2="210.91" stroke="#000" stroke-width="0.85"/>
<line x1="48.80" y1="233.94" x2="94.50" y2="213.33" stroke="#000" stroke-width="0.85"/>
<line x1="48.80" y1="235.15" x2="94.50" y2="215.15" stroke="#000" stroke-width="0.85"/>
<line x1="48.80" y1="236.36" x2="94.50" y2="218.18" stroke="#000" stroke-width="0.85"/>
<line x1="48.80" y1="237.57" x2="94.50" y2="220.00" stroke="#000" stroke-width="0.85"/>
<line x1="48.80" y1="238.78" x2="94.50" y2="222.42" stroke="#000" stroke-width="0.85"/>
<line x1="48.80" y1="240.00" x2="94.50" y2="224.24" stroke="#000" stroke-width="0.85"/>
<line x1="48.80" y1="230.30" x2="94.50" y2="216.97" stroke="#000" stroke-width="0.85"/>
<line x1="48.80" y1="227.27" x2="94.50" y2="221.21" stroke="#000" stroke-width="0.85"/>
<line x1="48.80" y1="231.51" x2="94.50" y2="225.45" stroke="#000" stroke-width="0.85"/>
<line x1="48.80" y1="252.72" x2="94.50" y2="246.66" stroke="#000" stroke-width="0.85"/>
<line x1="48.80" y1="253.33" x2="94.50" y2="250.30" stroke="#000" stroke-width="0.85"/>
<line x1="48.80" y1="255.15" x2="94.50" y2="252.72" stroke="#000" stroke-width="0.85"/>
<line x1="48.80" y1="255.75" x2="94.50" y2="254.54" stroke="#000" stroke-width="0.85"/>
<line x1="48.80" y1="256.96" x2="94.50" y2="255.75" stroke="#000" stroke-width="0.85"/>
<line x1="48.80" y1="257.57" x2="94.50" y2="256.96" stroke="#000" stroke-width="0.85"/>
<line x1="48.80" y1="258.18" x2="94.50" y2="258.18" stroke="#000" stroke-width="0.85"/>
<line x1="48.80" y1="258.78" x2="94.50" y2="253.33" stroke="#000" stroke-width="0.85"/>
<line x1="48.80" y1="259.39" x2="94.50" y2="258.78" stroke="#000" stroke-width="0.85"/>
<line x1="48.80" y1="252.72" x2="94.50" y2="255.75" stroke="#000" stroke-width="0.85"/>
<line x1="48.80" y1="255.15" x2="94.50" y2="259.39" stroke="#000" stroke-width="0.85"/>
<line x1="48.80" y1="257.57" x2="94.50" y2="259.99" stroke="#000" stroke-width="0.85"/>
<line x1="48.80" y1="253.93" x2="94.50" y2="248.48" stroke="#000" stroke-width="0.85"/>
<circle cx="48.8" cy="224.24" r="1.25" fill="#000"/>
<circle cx="94.5" cy="237.57" r="1.25" fill="#000"/>
<circle cx="48.8" cy="226.06" r="1.25" fill="#000"/>
<circle cx="94.5" cy="241.21" r="1.25" fill="#000"/>
<circle cx="48.8" cy="230.30" r="1.25" fill="#000"/>
<circle cx="94.5" cy="246.06" r="1.25" fill="#000"/>
<circle cx="48.8" cy="232.12" r="1.25" fill="#000"/>
<circle cx="94.5" cy="250.30" r="1.25" fill="#000"/>
<circle cx="48.8" cy="233.33" r="1.25" fill="#000"/>
<circle cx="94.5" cy="238.78" r="1.25" fill="#000"/>
<circle cx="48.8" cy="236.36" r="1.25" fill="#000"/>
<circle cx="94.5" cy="242.42" r="1.25" fill="#000"/>
<circle cx="48.8" cy="225.45" r="1.25" fill="#000"/>
<circle cx="94.5" cy="253.33" r="1.25" fill="#000"/>
<circle cx="48.8" cy="232.12" r="1.25" fill="#000"/>
<circle cx="94.5" cy="210.91" r="1.25" fill="#000"/>
<circle cx="48.8" cy="233.94" r="1.25" fill="#000"/>
<circle cx="94.5" cy="213.33" r="1.25" fill="#000"/>
<circle cx="48.8" cy="235.15" r="1.25" fill="#000"/>
<circle cx="94.5" cy="215.15" r="1.25" fill="#000"/>
<circle cx="48.8" cy="236.36" r="1.25" fill="#000"/>
<circle cx="94.5" cy="218.18" r="1.25" fill="#000"/>
<circle cx="48.8" cy="237.57" r="1.25" fill="#000"/>
<circle cx="94.5" cy="220.00" r="1.25" fill="#000"/>
<circle cx="48.8" cy="238.78" r="1.25" fill="#000"/>
<circle cx="94.5" cy="222.42" r="1.25" fill="#000"/>
<circle cx="48.8" cy="240.00" r="1.25" fill="#000"/>
<circle cx="94.5" cy="224.24" r="1.25" fill="#000"/>
<circle cx="48.8" cy="230.30" r="1.25" fill="#000"/>
<circle cx="94.5" cy="216.97" r="1.25" fill="#000"/>
<circle cx="48.8" cy="227.27" r="1.25" fill="#000"/>
<circle cx="94.5" cy="221.21" r="1.25" fill="#000"/>
<circle cx="48.8" cy="231.51" r="1.25" fill="#000"/>
<circle cx="94.5" cy="225.45" r="1.25" fill="#000"/>
<circle cx="48.8" cy="252.72" r="1.25" fill="#000"/>
<circle cx="94.5" cy="246.66" r="1.25" fill="#000"/>
<circle cx="48.8" cy="253.33" r="1.25" fill="#000"/>
<circle cx="94.5" cy="250.30" r="1.25" fill="#000"/>
<circle cx="48.8" cy="255.15" r="1.25" fill="#000"/>
<circle cx="94.5" cy="252.72" r="1.25" fill="#000"/>
<circle cx="48.8" cy="255.75" r="1.25" fill="#000"/>
<circle cx="94.5" cy="254.54" r="1.25" fill="#000"/>
<circle cx="48.8" cy="256.96" r="1.25" fill="#000"/>
<circle cx="94.5" cy="255.75" r="1.25" fill="#000"/>
<circle cx="48.8" cy="257.57" r="1.25" fill="#000"/>
<circle cx="94.5" cy="256.96" r="1.25" fill="#000"/>
<circle cx="48.8" cy="258.18" r="1.25" fill="#000"/>
<circle cx="94.5" cy="258.18" r="1.25" fill="#000"/>
<circle cx="48.8" cy="258.78" r="1.25" fill="#000"/>
<circle cx="94.5" cy="253.33" r="1.25" fill="#000"/>
<circle cx="48.8" cy="259.39" r="1.25" fill="#000"/>
<circle cx="94.5" cy="258.78" r="1.25" fill="#000"/>
<circle cx="48.8" cy="252.72" r="1.25" fill="#000"/>
<circle cx="94.5" cy="255.75" r="1.25" fill="#000"/>
<circle cx="48.8" cy="255.15" r="1.25" fill="#000"/>
<circle cx="94.5" cy="259.39" r="1.25" fill="#000"/>
<circle cx="48.8" cy="257.57" r="1.25" fill="#000"/>
<circle cx="94.5" cy="259.99" r="1.25" fill="#000"/>
<circle cx="48.8" cy="253.93" r="1.25" fill="#000"/>
<circle cx="94.5" cy="248.48" r="1.25" fill="#000"/>
<line x1="133.30" y1="199.50" x2="133.30" y2="260.70" stroke="#000" stroke-width="0.9"/>
<line x1="133.30" y1="260.70" x2="225.00" y2="260.70" stroke="#000" stroke-width="0.9"/>
<line x1="131.70" y1="260.70" x2="133.30" y2="260.70" stroke="#000" stroke-width="0.8"/>
<text x="131.20" y="262.60" font-size="5.3" font-weight="bold" text-anchor="end" >0</text>
<line x1="131.70" y1="248.56" x2="133.30" y2="248.56" stroke="#000" stroke-width="0.8"/>
<text x="131.20" y="250.46" font-size="5.3" font-weight="bold" text-anchor="end" >20</text>
<line x1="131.70" y1="236.42" x2="133.30" y2="236.42" stroke="#000" stroke-width="0.8"/>
<text x="131.20" y="238.32" font-size="5.3" font-weight="bold" text-anchor="end" >40</text>
<line x1="131.70" y1="224.28" x2="133.30" y2="224.28" stroke="#000" stroke-width="0.8"/>
<text x="131.20" y="226.18" font-size="5.3" font-weight="bold" text-anchor="end" >60</text>
<line x1="131.70" y1="212.14" x2="133.30" y2="212.14" stroke="#000" stroke-width="0.8"/>
<text x="131.20" y="214.04" font-size="5.3" font-weight="bold" text-anchor="end" >80</text>
<line x1="131.70" y1="200.00" x2="133.30" y2="200.00" stroke="#000" stroke-width="0.8"/>
<text x="131.20" y="201.90" font-size="5.3" font-weight="bold" text-anchor="end" >100</text>
<line x1="156.30" y1="260.70" x2="156.30" y2="262.20" stroke="#000" stroke-width="0.8"/>
<line x1="203.00" y1="260.70" x2="203.00" y2="262.20" stroke="#000" stroke-width="0.8"/>
<text x="156.30" y="268.20" font-size="4.95" font-weight="bold" text-anchor="middle" >Donor</text>
<text x="203.00" y="268.20" font-size="4.95" font-weight="bold" text-anchor="middle" >Recipient</text>
<text x="0" y="0" font-size="5.2" font-weight="bold" text-anchor="middle" transform="translate(6.6,229.35) rotate(-90)"></text>
<text x="224.50" y="257.60" font-size="5.0" font-weight="bold" font-style="italic" text-anchor="end">P &lt; .0001</text>
<line x1="156.30" y1="249.09" x2="203.00" y2="230.74" stroke="#000" stroke-width="0.85"/>
<line x1="156.30" y1="251.33" x2="203.00" y2="235.98" stroke="#000" stroke-width="0.85"/>
<line x1="156.30" y1="251.30" x2="203.00" y2="226.66" stroke="#000" stroke-width="0.85"/>
<line x1="156.30" y1="218.94" x2="203.00" y2="209.11" stroke="#000" stroke-width="0.85"/>
<line x1="156.30" y1="247.60" x2="203.00" y2="224.21" stroke="#000" stroke-width="0.85"/>
<line x1="156.30" y1="224.57" x2="203.00" y2="227.66" stroke="#000" stroke-width="0.85"/>
<line x1="156.30" y1="214.44" x2="203.00" y2="205.82" stroke="#000" stroke-width="0.85"/>
<line x1="156.30" y1="244.63" x2="203.00" y2="217.92" stroke="#000" stroke-width="0.85"/>
<line x1="156.30" y1="236.50" x2="203.00" y2="224.85" stroke="#000" stroke-width="0.85"/>
<line x1="156.30" y1="209.57" x2="203.00" y2="206.85" stroke="#000" stroke-width="0.85"/>
<line x1="156.30" y1="247.28" x2="203.00" y2="230.26" stroke="#000" stroke-width="0.85"/>
<line x1="156.30" y1="231.16" x2="203.00" y2="225.98" stroke="#000" stroke-width="0.85"/>
<line x1="156.30" y1="245.72" x2="203.00" y2="232.10" stroke="#000" stroke-width="0.85"/>
<line x1="156.30" y1="221.75" x2="203.00" y2="229.25" stroke="#000" stroke-width="0.85"/>
<line x1="156.30" y1="229.41" x2="203.00" y2="223.09" stroke="#000" stroke-width="0.85"/>
<line x1="156.30" y1="253.81" x2="203.00" y2="234.98" stroke="#000" stroke-width="0.85"/>
<line x1="156.30" y1="226.23" x2="203.00" y2="220.30" stroke="#000" stroke-width="0.85"/>
<line x1="156.30" y1="251.70" x2="203.00" y2="219.97" stroke="#000" stroke-width="0.85"/>
<line x1="156.30" y1="218.74" x2="203.00" y2="207.41" stroke="#000" stroke-width="0.85"/>
<line x1="156.30" y1="249.86" x2="203.00" y2="234.87" stroke="#000" stroke-width="0.85"/>
<line x1="156.30" y1="252.83" x2="203.00" y2="224.88" stroke="#000" stroke-width="0.85"/>
<line x1="156.30" y1="242.32" x2="203.00" y2="234.88" stroke="#000" stroke-width="0.85"/>
<line x1="156.30" y1="235.41" x2="203.00" y2="215.22" stroke="#000" stroke-width="0.85"/>
<line x1="156.30" y1="217.35" x2="203.00" y2="222.34" stroke="#000" stroke-width="0.85"/>
<line x1="156.30" y1="247.83" x2="203.00" y2="219.89" stroke="#000" stroke-width="0.85"/>
<line x1="156.30" y1="228.65" x2="203.00" y2="217.16" stroke="#000" stroke-width="0.85"/>
<line x1="156.30" y1="250.56" x2="203.00" y2="239.65" stroke="#000" stroke-width="0.85"/>
<line x1="156.30" y1="223.30" x2="203.00" y2="221.04" stroke="#000" stroke-width="0.85"/>
<line x1="156.30" y1="251.33" x2="203.00" y2="220.84" stroke="#000" stroke-width="0.85"/>
<line x1="156.30" y1="225.75" x2="203.00" y2="213.83" stroke="#000" stroke-width="0.85"/>
<line x1="156.30" y1="250.82" x2="203.00" y2="222.42" stroke="#000" stroke-width="0.85"/>
<line x1="156.30" y1="251.60" x2="203.00" y2="222.58" stroke="#000" stroke-width="0.85"/>
<line x1="156.30" y1="233.97" x2="203.00" y2="227.07" stroke="#000" stroke-width="0.85"/>
<line x1="156.30" y1="229.45" x2="203.00" y2="212.56" stroke="#000" stroke-width="0.85"/>
<line x1="156.30" y1="242.44" x2="203.00" y2="234.93" stroke="#000" stroke-width="0.85"/>
<line x1="156.30" y1="230.64" x2="203.00" y2="227.96" stroke="#000" stroke-width="0.85"/>
<line x1="156.30" y1="249.65" x2="203.00" y2="237.04" stroke="#000" stroke-width="0.85"/>
<line x1="156.30" y1="252.34" x2="203.00" y2="237.22" stroke="#000" stroke-width="0.85"/>
<line x1="156.30" y1="240.43" x2="203.00" y2="230.33" stroke="#000" stroke-width="0.85"/>
<line x1="156.30" y1="220.05" x2="203.00" y2="222.71" stroke="#000" stroke-width="0.85"/>
<line x1="156.30" y1="242.49" x2="203.00" y2="251.59" stroke="#000" stroke-width="0.85"/>
<line x1="156.30" y1="258.88" x2="203.00" y2="242.49" stroke="#000" stroke-width="0.85"/>
<line x1="156.30" y1="209.10" x2="203.00" y2="203.03" stroke="#000" stroke-width="0.85"/>
<line x1="156.30" y1="210.93" x2="203.00" y2="204.25" stroke="#000" stroke-width="0.85"/>
<line x1="156.30" y1="209.71" x2="203.00" y2="224.28" stroke="#000" stroke-width="0.85"/>
<line x1="156.30" y1="254.63" x2="203.00" y2="239.45" stroke="#000" stroke-width="0.85"/>
<line x1="156.30" y1="212.14" x2="203.00" y2="236.42" stroke="#000" stroke-width="0.85"/>
<line x1="156.30" y1="215.18" x2="203.00" y2="233.38" stroke="#000" stroke-width="0.85"/>
<circle cx="156.3" cy="249.09" r="1.25" fill="#000"/>
<circle cx="203.0" cy="230.74" r="1.25" fill="#000"/>
<circle cx="156.3" cy="251.33" r="1.25" fill="#000"/>
<circle cx="203.0" cy="235.98" r="1.25" fill="#000"/>
<circle cx="156.3" cy="251.30" r="1.25" fill="#000"/>
<circle cx="203.0" cy="226.66" r="1.25" fill="#000"/>
<circle cx="156.3" cy="218.94" r="1.25" fill="#000"/>
<circle cx="203.0" cy="209.11" r="1.25" fill="#000"/>
<circle cx="156.3" cy="247.60" r="1.25" fill="#000"/>
<circle cx="203.0" cy="224.21" r="1.25" fill="#000"/>
<circle cx="156.3" cy="224.57" r="1.25" fill="#000"/>
<circle cx="203.0" cy="227.66" r="1.25" fill="#000"/>
<circle cx="156.3" cy="214.44" r="1.25" fill="#000"/>
<circle cx="203.0" cy="205.82" r="1.25" fill="#000"/>
<circle cx="156.3" cy="244.63" r="1.25" fill="#000"/>
<circle cx="203.0" cy="217.92" r="1.25" fill="#000"/>
<circle cx="156.3" cy="236.50" r="1.25" fill="#000"/>
<circle cx="203.0" cy="224.85" r="1.25" fill="#000"/>
<circle cx="156.3" cy="209.57" r="1.25" fill="#000"/>
<circle cx="203.0" cy="206.85" r="1.25" fill="#000"/>
<circle cx="156.3" cy="247.28" r="1.25" fill="#000"/>
<circle cx="203.0" cy="230.26" r="1.25" fill="#000"/>
<circle cx="156.3" cy="231.16" r="1.25" fill="#000"/>
<circle cx="203.0" cy="225.98" r="1.25" fill="#000"/>
<circle cx="156.3" cy="245.72" r="1.25" fill="#000"/>
<circle cx="203.0" cy="232.10" r="1.25" fill="#000"/>
<circle cx="156.3" cy="221.75" r="1.25" fill="#000"/>
<circle cx="203.0" cy="229.25" r="1.25" fill="#000"/>
<circle cx="156.3" cy="229.41" r="1.25" fill="#000"/>
<circle cx="203.0" cy="223.09" r="1.25" fill="#000"/>
<circle cx="156.3" cy="253.81" r="1.25" fill="#000"/>
<circle cx="203.0" cy="234.98" r="1.25" fill="#000"/>
<circle cx="156.3" cy="226.23" r="1.25" fill="#000"/>
<circle cx="203.0" cy="220.30" r="1.25" fill="#000"/>
<circle cx="156.3" cy="251.70" r="1.25" fill="#000"/>
<circle cx="203.0" cy="219.97" r="1.25" fill="#000"/>
<circle cx="156.3" cy="218.74" r="1.25" fill="#000"/>
<circle cx="203.0" cy="207.41" r="1.25" fill="#000"/>
<circle cx="156.3" cy="249.86" r="1.25" fill="#000"/>
<circle cx="203.0" cy="234.87" r="1.25" fill="#000"/>
<circle cx="156.3" cy="252.83" r="1.25" fill="#000"/>
<circle cx="203.0" cy="224.88" r="1.25" fill="#000"/>
<circle cx="156.3" cy="242.32" r="1.25" fill="#000"/>
<circle cx="203.0" cy="234.88" r="1.25" fill="#000"/>
<circle cx="156.3" cy="235.41" r="1.25" fill="#000"/>
<circle cx="203.0" cy="215.22" r="1.25" fill="#000"/>
<circle cx="156.3" cy="217.35" r="1.25" fill="#000"/>
<circle cx="203.0" cy="222.34" r="1.25" fill="#000"/>
<circle cx="156.3" cy="247.83" r="1.25" fill="#000"/>
<circle cx="203.0" cy="219.89" r="1.25" fill="#000"/>
<circle cx="156.3" cy="228.65" r="1.25" fill="#000"/>
<circle cx="203.0" cy="217.16" r="1.25" fill="#000"/>
<circle cx="156.3" cy="250.56" r="1.25" fill="#000"/>
<circle cx="203.0" cy="239.65" r="1.25" fill="#000"/>
<circle cx="156.3" cy="223.30" r="1.25" fill="#000"/>
<circle cx="203.0" cy="221.04" r="1.25" fill="#000"/>
<circle cx="156.3" cy="251.33" r="1.25" fill="#000"/>
<circle cx="203.0" cy="220.84" r="1.25" fill="#000"/>
<circle cx="156.3" cy="225.75" r="1.25" fill="#000"/>
<circle cx="203.0" cy="213.83" r="1.25" fill="#000"/>
<circle cx="156.3" cy="250.82" r="1.25" fill="#000"/>
<circle cx="203.0" cy="222.42" r="1.25" fill="#000"/>
<circle cx="156.3" cy="251.60" r="1.25" fill="#000"/>
<circle cx="203.0" cy="222.58" r="1.25" fill="#000"/>
<circle cx="156.3" cy="233.97" r="1.25" fill="#000"/>
<circle cx="203.0" cy="227.07" r="1.25" fill="#000"/>
<circle cx="156.3" cy="229.45" r="1.25" fill="#000"/>
<circle cx="203.0" cy="212.56" r="1.25" fill="#000"/>
<circle cx="156.3" cy="242.44" r="1.25" fill="#000"/>
<circle cx="203.0" cy="234.93" r="1.25" fill="#000"/>
<circle cx="156.3" cy="230.64" r="1.25" fill="#000"/>
<circle cx="203.0" cy="227.96" r="1.25" fill="#000"/>
<circle cx="156.3" cy="249.65" r="1.25" fill="#000"/>
<circle cx="203.0" cy="237.04" r="1.25" fill="#000"/>
<circle cx="156.3" cy="252.34" r="1.25" fill="#000"/>
<circle cx="203.0" cy="237.22" r="1.25" fill="#000"/>
<circle cx="156.3" cy="240.43" r="1.25" fill="#000"/>
<circle cx="203.0" cy="230.33" r="1.25" fill="#000"/>
<circle cx="156.3" cy="220.05" r="1.25" fill="#000"/>
<circle cx="203.0" cy="222.71" r="1.25" fill="#000"/>
<circle cx="156.3" cy="242.49" r="1.25" fill="#000"/>
<circle cx="203.0" cy="251.59" r="1.25" fill="#000"/>
<circle cx="156.3" cy="258.88" r="1.25" fill="#000"/>
<circle cx="203.0" cy="242.49" r="1.25" fill="#000"/>
<circle cx="156.3" cy="209.10" r="1.25" fill="#000"/>
<circle cx="203.0" cy="203.03" r="1.25" fill="#000"/>
<circle cx="156.3" cy="210.93" r="1.25" fill="#000"/>
<circle cx="203.0" cy="204.25" r="1.25" fill="#000"/>
<circle cx="156.3" cy="209.71" r="1.25" fill="#000"/>
<circle cx="203.0" cy="224.28" r="1.25" fill="#000"/>
<circle cx="156.3" cy="254.63" r="1.25" fill="#000"/>
<circle cx="203.0" cy="239.45" r="1.25" fill="#000"/>
<circle cx="156.3" cy="212.14" r="1.25" fill="#000"/>
<circle cx="203.0" cy="236.42" r="1.25" fill="#000"/>
<circle cx="156.3" cy="215.18" r="1.25" fill="#000"/>
<circle cx="203.0" cy="233.38" r="1.25" fill="#000"/>
<line x1="270.30" y1="50.50" x2="270.30" y2="112.60" stroke="#000" stroke-width="0.9"/>
<line x1="270.30" y1="112.60" x2="362.60" y2="112.60" stroke="#000" stroke-width="0.9"/>
<line x1="268.70" y1="55.80" x2="270.30" y2="55.80" stroke="#000" stroke-width="0.8"/>
<text x="268.20" y="57.70" font-size="5.3" font-weight="bold" text-anchor="end" >10</text>
<line x1="268.70" y1="74.80" x2="270.30" y2="74.80" stroke="#000" stroke-width="0.8"/>
<text x="268.20" y="76.70" font-size="5.3" font-weight="bold" text-anchor="end" >1</text>
<line x1="268.70" y1="93.80" x2="270.30" y2="93.80" stroke="#000" stroke-width="0.8"/>
<text x="268.20" y="95.70" font-size="5.3" font-weight="bold" text-anchor="end" >0.1</text>
<line x1="268.70" y1="112.80" x2="270.30" y2="112.80" stroke="#000" stroke-width="0.8"/>
<text x="268.20" y="114.70" font-size="5.3" font-weight="bold" text-anchor="end" >0.01</text>
<text x="0" y="0" font-size="5.2" font-weight="bold" text-anchor="middle" transform="translate(253.30,79.55) rotate(-90)">Frequency (%)</text>
<line x1="273.70" y1="112.60" x2="273.70" y2="113.90" stroke="#000" stroke-width="0.8"/>
<line x1="281.20" y1="112.60" x2="281.20" y2="113.90" stroke="#000" stroke-width="0.8"/>
<text x="273.70" y="119.60" font-size="4.7" font-weight="bold" text-anchor="middle" >D</text>
<text x="281.20" y="119.60" font-size="4.7" font-weight="bold" text-anchor="middle" >R</text>
<line x1="271.20" y1="121.40" x2="283.70" y2="121.40" stroke="#000" stroke-width="0.7"/>
<text x="277.45" y="127.30" font-size="4.6" font-weight="bold" text-anchor="middle" >CD107a</text>
<circle cx="273.70" cy="70.90" r="1.2" fill="#b4c6d4" stroke="#4c5862" stroke-width="0.55"/>
<circle cx="273.70" cy="74.56" r="1.2" fill="#a4b8c8" stroke="#4c5862" stroke-width="0.55"/>
<circle cx="273.70" cy="77.42" r="1.2" fill="#587a7a" stroke="#4c5862" stroke-width="0.55"/>
<circle cx="273.70" cy="79.42" r="1.2" fill="#4f7f7e" stroke="#4c5862" stroke-width="0.55"/>
<path d="M274.30,80.69L275.50,78.49L276.70,80.69Z" fill="#7a8288" stroke="#505a60" stroke-width="0.3"/>
<rect x="271.80" y="79.60" width="2" height="2" fill="#a4b8c8" stroke="#5a6670" stroke-width="0.4"/>
<path d="M272.50,82.99L273.70,80.79L274.90,82.99Z" fill="#7a8288" stroke="#505a60" stroke-width="0.3"/>
<circle cx="273.70" cy="84.82" r="1.2" fill="#b4c6d4" stroke="#4c5862" stroke-width="0.55"/>
<path d="M274.30,86.77L275.50,84.57L276.70,86.77Z" fill="#7a8288" stroke="#505a60" stroke-width="0.3"/>
<circle cx="271.90" cy="85.81" r="1.2" fill="#587a7a" stroke="#4c5862" stroke-width="0.55"/>
<circle cx="273.70" cy="87.52" r="1.2" fill="#c8d6e0" stroke="#4c5862" stroke-width="0.55"/>
<circle cx="275.50" cy="88.07" r="1.2" fill="#808c96" stroke="#4c5862" stroke-width="0.55"/>
<circle cx="273.70" cy="90.99" r="1.2" fill="#7c94a8" stroke="#4c5862" stroke-width="0.55"/>
<rect x="272.70" y="92.53" width="2" height="2" fill="#9fb2c2" stroke="#5a6670" stroke-width="0.4"/>
<circle cx="275.50" cy="93.60" r="1.2" fill="#808c96" stroke="#4c5862" stroke-width="0.55"/>
<circle cx="271.90" cy="94.41" r="1.2" fill="#b4c6d4" stroke="#4c5862" stroke-width="0.55"/>
<circle cx="271.10" cy="94.53" r="1.2" fill="#587a7a" stroke="#4c5862" stroke-width="0.55"/>
<rect x="272.70" y="95.27" width="2" height="2" fill="#587a7a" stroke="#5a6670" stroke-width="0.4"/>
<circle cx="273.70" cy="98.32" r="1.2" fill="#587a7a" stroke="#4c5862" stroke-width="0.55"/>
<circle cx="275.50" cy="98.83" r="1.2" fill="#808c96" stroke="#4c5862" stroke-width="0.55"/>
<circle cx="273.70" cy="100.79" r="1.2" fill="#b4c6d4" stroke="#4c5862" stroke-width="0.55"/>
<circle cx="273.70" cy="104.70" r="1.2" fill="#808c96" stroke="#4c5862" stroke-width="0.55"/>
<path d="M274.30,105.77L275.50,103.57L276.70,105.77Z" fill="#7a8288" stroke="#505a60" stroke-width="0.3"/>
<rect x="270.90" y="104.30" width="2" height="2" fill="#b4c6d4" stroke="#5a6670" stroke-width="0.4"/>
<rect x="270.90" y="91.40" width="5.6" height="2" fill="#c4223c"/>
<circle cx="281.20" cy="63.00" r="1.2" fill="#a4b8c8" stroke="#4c5862" stroke-width="0.55"/>
<circle cx="283.00" cy="63.54" r="1.2" fill="#b4c6d4" stroke="#4c5862" stroke-width="0.55"/>
<circle cx="281.20" cy="66.33" r="1.2" fill="#a4b8c8" stroke="#4c5862" stroke-width="0.55"/>
<circle cx="281.20" cy="71.44" r="1.2" fill="#9fb2c2" stroke="#4c5862" stroke-width="0.55"/>
<circle cx="283.00" cy="71.57" r="1.2" fill="#dfe6ec" stroke="#4c5862" stroke-width="0.55"/>
<path d="M278.20,73.23L279.40,71.03L280.60,73.23Z" fill="#7a8288" stroke="#505a60" stroke-width="0.3"/>
<rect x="280.20" y="72.66" width="2" height="2" fill="#a4b8c8" stroke="#5a6670" stroke-width="0.4"/>
<circle cx="283.00" cy="73.84" r="1.2" fill="#587a7a" stroke="#4c5862" stroke-width="0.55"/>
<rect x="280.20" y="74.51" width="2" height="2" fill="#7c94a8" stroke="#5a6670" stroke-width="0.4"/>
<circle cx="281.20" cy="78.47" r="1.2" fill="#587a7a" stroke="#4c5862" stroke-width="0.55"/>
<circle cx="282.10" cy="79.70" r="1.2" fill="#a4b8c8" stroke="#4c5862" stroke-width="0.55"/>
<circle cx="280.30" cy="80.18" r="1.2" fill="#4f7f7e" stroke="#4c5862" stroke-width="0.55"/>
<circle cx="281.20" cy="81.91" r="1.2" fill="#9fb2c2" stroke="#4c5862" stroke-width="0.55"/>
<path d="M280.00,84.63L281.20,82.43L282.40,84.63Z" fill="#7a8288" stroke="#505a60" stroke-width="0.3"/>
<circle cx="283.00" cy="84.69" r="1.2" fill="#9fb2c2" stroke="#4c5862" stroke-width="0.55"/>
<circle cx="281.20" cy="85.76" r="1.2" fill="#dfe6ec" stroke="#4c5862" stroke-width="0.55"/>
<circle cx="283.00" cy="86.25" r="1.2" fill="#c8d6e0" stroke="#4c5862" stroke-width="0.55"/>
<circle cx="281.20" cy="88.51" r="1.2" fill="#dfe6ec" stroke="#4c5862" stroke-width="0.55"/>
<path d="M281.80,90.53L283.00,88.33L284.20,90.53Z" fill="#7a8288" stroke="#505a60" stroke-width="0.3"/>
<circle cx="281.20" cy="91.29" r="1.2" fill="#7c94a8" stroke="#4c5862" stroke-width="0.55"/>
<circle cx="283.00" cy="92.27" r="1.2" fill="#a4b8c8" stroke="#4c5862" stroke-width="0.55"/>
<circle cx="281.20" cy="97.73" r="1.2" fill="#4f7f7e" stroke="#4c5862" stroke-width="0.55"/>
<circle cx="281.20" cy="104.96" r="1.2" fill="#6d7c88" stroke="#4c5862" stroke-width="0.55"/>
<circle cx="283.00" cy="106.00" r="1.2" fill="#a4b8c8" stroke="#4c5862" stroke-width="0.55"/>
<rect x="278.40" y="85.60" width="5.6" height="2" fill="#c4223c"/>
<line x1="293.20" y1="112.60" x2="293.20" y2="113.90" stroke="#000" stroke-width="0.8"/>
<line x1="300.70" y1="112.60" x2="300.70" y2="113.90" stroke="#000" stroke-width="0.8"/>
<text x="293.20" y="119.60" font-size="4.7" font-weight="bold" text-anchor="middle" >D</text>
<text x="300.70" y="119.60" font-size="4.7" font-weight="bold" text-anchor="middle" >R</text>
<line x1="290.70" y1="121.40" x2="303.20" y2="121.40" stroke="#000" stroke-width="0.7"/>
<text x="296.95" y="127.30" font-size="4.6" font-weight="bold" text-anchor="middle" >IFNγ</text>
<circle cx="293.20" cy="66.00" r="1.2" fill="#4f7f7e" stroke="#4c5862" stroke-width="0.55"/>
<circle cx="293.20" cy="72.13" r="1.2" fill="#7c94a8" stroke="#4c5862" stroke-width="0.55"/>
<circle cx="294.10" cy="73.48" r="1.2" fill="#9fb2c2" stroke="#4c5862" stroke-width="0.55"/>
<rect x="292.20" y="73.91" width="2" height="2" fill="#587a7a" stroke="#5a6670" stroke-width="0.4"/>
<rect x="294.00" y="74.30" width="2" height="2" fill="#a4b8c8" stroke="#5a6670" stroke-width="0.4"/>
<path d="M290.20,76.58L291.40,74.38L292.60,76.58Z" fill="#7a8288" stroke="#505a60" stroke-width="0.3"/>
<circle cx="290.60" cy="75.70" r="1.2" fill="#4f7f7e" stroke="#4c5862" stroke-width="0.55"/>
<circle cx="293.20" cy="76.65" r="1.2" fill="#808c96" stroke="#4c5862" stroke-width="0.55"/>
<circle cx="295.00" cy="77.00" r="1.2" fill="#b4c6d4" stroke="#4c5862" stroke-width="0.55"/>
<circle cx="291.40" cy="77.09" r="1.2" fill="#dfe6ec" stroke="#4c5862" stroke-width="0.55"/>
<circle cx="290.60" cy="77.13" r="1.2" fill="#587a7a" stroke="#4c5862" stroke-width="0.55"/>
<circle cx="290.60" cy="77.22" r="1.2" fill="#6d7c88" stroke="#4c5862" stroke-width="0.55"/>
<circle cx="293.20" cy="80.07" r="1.2" fill="#b4c6d4" stroke="#4c5862" stroke-width="0.55"/>
<circle cx="295.00" cy="80.71" r="1.2" fill="#808c96" stroke="#4c5862" stroke-width="0.55"/>
<circle cx="292.30" cy="81.38" r="1.2" fill="#c8d6e0" stroke="#4c5862" stroke-width="0.55"/>
<circle cx="294.10" cy="82.22" r="1.2" fill="#587a7a" stroke="#4c5862" stroke-width="0.55"/>
<path d="M290.20,83.82L291.40,81.62L292.60,83.82Z" fill="#7a8288" stroke="#505a60" stroke-width="0.3"/>
<circle cx="293.20" cy="89.53" r="1.2" fill="#4f7f7e" stroke="#4c5862" stroke-width="0.55"/>
<circle cx="295.00" cy="90.04" r="1.2" fill="#9fb2c2" stroke="#4c5862" stroke-width="0.55"/>
<circle cx="291.40" cy="90.48" r="1.2" fill="#6d7c88" stroke="#4c5862" stroke-width="0.55"/>
<rect x="292.20" y="93.90" width="2" height="2" fill="#b4c6d4" stroke="#5a6670" stroke-width="0.4"/>
<circle cx="293.20" cy="98.98" r="1.2" fill="#dfe6ec" stroke="#4c5862" stroke-width="0.55"/>
<circle cx="293.20" cy="101.09" r="1.2" fill="#9fb2c2" stroke="#4c5862" stroke-width="0.55"/>
<path d="M292.00,104.30L293.20,102.10L294.40,104.30Z" fill="#7a8288" stroke="#505a60" stroke-width="0.3"/>
<rect x="290.40" y="76.50" width="5.6" height="2" fill="#c4223c"/>
<circle cx="300.70" cy="54.50" r="1.2" fill="#dfe6ec" stroke="#4c5862" stroke-width="0.55"/>
<circle cx="302.50" cy="54.94" r="1.2" fill="#4f7f7e" stroke="#4c5862" stroke-width="0.55"/>
<circle cx="300.70" cy="56.17" r="1.2" fill="#7c94a8" stroke="#4c5862" stroke-width="0.55"/>
<circle cx="300.70" cy="59.23" r="1.2" fill="#7c94a8" stroke="#4c5862" stroke-width="0.55"/>
<path d="M299.50,62.29L300.70,60.09L301.90,62.29Z" fill="#7a8288" stroke="#505a60" stroke-width="0.3"/>
<circle cx="302.50" cy="61.94" r="1.2" fill="#6d7c88" stroke="#4c5862" stroke-width="0.55"/>
<path d="M297.70,63.22L298.90,61.02L300.10,63.22Z" fill="#7a8288" stroke="#505a60" stroke-width="0.3"/>
<circle cx="300.70" cy="64.31" r="1.2" fill="#9fb2c2" stroke="#4c5862" stroke-width="0.55"/>
<circle cx="302.50" cy="65.38" r="1.2" fill="#6d7c88" stroke="#4c5862" stroke-width="0.55"/>
<circle cx="299.80" cy="65.53" r="1.2" fill="#4f7f7e" stroke="#4c5862" stroke-width="0.55"/>
<circle cx="300.70" cy="67.47" r="1.2" fill="#4f7f7e" stroke="#4c5862" stroke-width="0.55"/>
<path d="M299.50,70.85L300.70,68.65L301.90,70.85Z" fill="#7a8288" stroke="#505a60" stroke-width="0.3"/>
<circle cx="302.50" cy="70.44" r="1.2" fill="#808c96" stroke="#4c5862" stroke-width="0.55"/>
<circle cx="300.70" cy="73.80" r="1.2" fill="#c8d6e0" stroke="#4c5862" stroke-width="0.55"/>
<circle cx="300.70" cy="75.79" r="1.2" fill="#9fb2c2" stroke="#4c5862" stroke-width="0.55"/>
<circle cx="302.50" cy="76.44" r="1.2" fill="#b4c6d4" stroke="#4c5862" stroke-width="0.55"/>
<circle cx="300.70" cy="79.40" r="1.2" fill="#c8d6e0" stroke="#4c5862" stroke-width="0.55"/>
<circle cx="300.70" cy="81.74" r="1.2" fill="#b4c6d4" stroke="#4c5862" stroke-width="0.55"/>
<rect x="301.50" y="80.82" width="2" height="2" fill="#808c96" stroke="#5a6670" stroke-width="0.4"/>
<circle cx="300.70" cy="83.34" r="1.2" fill="#b4c6d4" stroke="#4c5862" stroke-width="0.55"/>
<circle cx="300.70" cy="91.80" r="1.2" fill="#c8d6e0" stroke="#4c5862" stroke-width="0.55"/>
<circle cx="300.70" cy="93.85" r="1.2" fill="#7c94a8" stroke="#4c5862" stroke-width="0.55"/>
<circle cx="302.50" cy="94.23" r="1.2" fill="#a4b8c8" stroke="#4c5862" stroke-width="0.55"/>
<rect x="299.70" y="95.70" width="2" height="2" fill="#7c94a8" stroke="#5a6670" stroke-width="0.4"/>
<rect x="297.90" y="69.00" width="5.6" height="2" fill="#c4223c"/>
<line x1="312.70" y1="112.60" x2="312.70" y2="113.90" stroke="#000" stroke-width="0.8"/>
<line x1="320.20" y1="112.60" x2="320.20" y2="113.90" stroke="#000" stroke-width="0.8"/>
<text x="312.70" y="119.60" font-size="4.7" font-weight="bold" text-anchor="middle" >D</text>
<text x="320.20" y="119.60" font-size="4.7" font-weight="bold" text-anchor="middle" >R</text>
<line x1="310.20" y1="121.40" x2="322.70" y2="121.40" stroke="#000" stroke-width="0.7"/>
<text x="316.45" y="127.30" font-size="4.6" font-weight="bold" text-anchor="middle" >IL-2</text>
<path d="M311.50,64.70L312.70,62.50L313.90,64.70Z" fill="#7a8288" stroke="#505a60" stroke-width="0.3"/>
<path d="M311.50,66.54L312.70,64.34L313.90,66.54Z" fill="#7a8288" stroke="#505a60" stroke-width="0.3"/>
<circle cx="312.70" cy="67.41" r="1.2" fill="#9fb2c2" stroke="#4c5862" stroke-width="0.55"/>
<circle cx="312.70" cy="71.98" r="1.2" fill="#dfe6ec" stroke="#4c5862" stroke-width="0.55"/>
<circle cx="312.70" cy="74.19" r="1.2" fill="#dfe6ec" stroke="#4c5862" stroke-width="0.55"/>
<circle cx="312.70" cy="76.28" r="1.2" fill="#c8d6e0" stroke="#4c5862" stroke-width="0.55"/>
<path d="M313.30,77.76L314.50,75.56L315.70,77.76Z" fill="#7a8288" stroke="#505a60" stroke-width="0.3"/>
<circle cx="312.70" cy="79.78" r="1.2" fill="#6d7c88" stroke="#4c5862" stroke-width="0.55"/>
<circle cx="314.50" cy="80.82" r="1.2" fill="#c8d6e0" stroke="#4c5862" stroke-width="0.55"/>
<circle cx="312.70" cy="83.77" r="1.2" fill="#7c94a8" stroke="#4c5862" stroke-width="0.55"/>
<circle cx="312.70" cy="85.96" r="1.2" fill="#9fb2c2" stroke="#4c5862" stroke-width="0.55"/>
<path d="M313.30,87.77L314.50,85.57L315.70,87.77Z" fill="#7a8288" stroke="#505a60" stroke-width="0.3"/>
<circle cx="312.70" cy="87.44" r="1.2" fill="#4f7f7e" stroke="#4c5862" stroke-width="0.55"/>
<circle cx="314.50" cy="88.30" r="1.2" fill="#c8d6e0" stroke="#4c5862" stroke-width="0.55"/>
<circle cx="312.70" cy="88.89" r="1.2" fill="#a4b8c8" stroke="#4c5862" stroke-width="0.55"/>
<circle cx="312.70" cy="90.62" r="1.2" fill="#9fb2c2" stroke="#4c5862" stroke-width="0.55"/>
<rect x="311.70" y="91.87" width="2" height="2" fill="#7c94a8" stroke="#5a6670" stroke-width="0.4"/>
<circle cx="312.70" cy="94.91" r="1.2" fill="#dfe6ec" stroke="#4c5862" stroke-width="0.55"/>
<circle cx="314.50" cy="95.62" r="1.2" fill="#a4b8c8" stroke="#4c5862" stroke-width="0.55"/>
<circle cx="312.70" cy="96.55" r="1.2" fill="#a4b8c8" stroke="#4c5862" stroke-width="0.55"/>
<circle cx="314.50" cy="97.20" r="1.2" fill="#dfe6ec" stroke="#4c5862" stroke-width="0.55"/>
<rect x="311.70" y="102.74" width="2" height="2" fill="#9fb2c2" stroke="#5a6670" stroke-width="0.4"/>
<circle cx="312.70" cy="105.36" r="1.2" fill="#c8d6e0" stroke="#4c5862" stroke-width="0.55"/>
<circle cx="314.50" cy="106.00" r="1.2" fill="#808c96" stroke="#4c5862" stroke-width="0.55"/>
<rect x="309.90" y="92.80" width="5.6" height="2" fill="#c4223c"/>
<path d="M319.00,66.00L320.20,63.80L321.40,66.00Z" fill="#7a8288" stroke="#505a60" stroke-width="0.3"/>
<circle cx="322.00" cy="65.26" r="1.2" fill="#4f7f7e" stroke="#4c5862" stroke-width="0.55"/>
<circle cx="320.20" cy="69.05" r="1.2" fill="#7c94a8" stroke="#4c5862" stroke-width="0.55"/>
<rect x="319.20" y="71.59" width="2" height="2" fill="#7c94a8" stroke="#5a6670" stroke-width="0.4"/>
<path d="M319.00,75.31L320.20,73.11L321.40,75.31Z" fill="#7a8288" stroke="#505a60" stroke-width="0.3"/>
<circle cx="320.20" cy="83.44" r="1.2" fill="#b4c6d4" stroke="#4c5862" stroke-width="0.55"/>
<circle cx="322.00" cy="84.29" r="1.2" fill="#587a7a" stroke="#4c5862" stroke-width="0.55"/>
<path d="M319.00,88.24L320.20,86.04L321.40,88.24Z" fill="#7a8288" stroke="#505a60" stroke-width="0.3"/>
<circle cx="322.00" cy="87.93" r="1.2" fill="#dfe6ec" stroke="#4c5862" stroke-width="0.55"/>
<circle cx="318.40" cy="88.20" r="1.2" fill="#c8d6e0" stroke="#4c5862" stroke-width="0.55"/>
<circle cx="320.20" cy="88.83" r="1.2" fill="#a4b8c8" stroke="#4c5862" stroke-width="0.55"/>
<circle cx="322.00" cy="89.90" r="1.2" fill="#dfe6ec" stroke="#4c5862" stroke-width="0.55"/>
<circle cx="320.20" cy="90.58" r="1.2" fill="#dfe6ec" stroke="#4c5862" stroke-width="0.55"/>
<circle cx="320.20" cy="92.67" r="1.2" fill="#6d7c88" stroke="#4c5862" stroke-width="0.55"/>
<circle cx="322.00" cy="92.88" r="1.2" fill="#b4c6d4" stroke="#4c5862" stroke-width="0.55"/>
<circle cx="318.40" cy="93.60" r="1.2" fill="#808c96" stroke="#4c5862" stroke-width="0.55"/>
<circle cx="321.10" cy="94.04" r="1.2" fill="#dfe6ec" stroke="#4c5862" stroke-width="0.55"/>
<circle cx="322.80" cy="94.73" r="1.2" fill="#7c94a8" stroke="#4c5862" stroke-width="0.55"/>
<circle cx="319.30" cy="94.81" r="1.2" fill="#dfe6ec" stroke="#4c5862" stroke-width="0.55"/>
<circle cx="321.10" cy="95.94" r="1.2" fill="#4f7f7e" stroke="#4c5862" stroke-width="0.55"/>
<circle cx="318.40" cy="96.23" r="1.2" fill="#dfe6ec" stroke="#4c5862" stroke-width="0.55"/>
<path d="M319.00,98.56L320.20,96.36L321.40,98.56Z" fill="#7a8288" stroke="#505a60" stroke-width="0.3"/>
<circle cx="322.00" cy="98.37" r="1.2" fill="#a4b8c8" stroke="#4c5862" stroke-width="0.55"/>
<circle cx="320.20" cy="105.30" r="1.2" fill="#7c94a8" stroke="#4c5862" stroke-width="0.55"/>
<rect x="317.40" y="87.00" width="5.6" height="2" fill="#c4223c"/>
<line x1="332.20" y1="112.60" x2="332.20" y2="113.90" stroke="#000" stroke-width="0.8"/>
<line x1="339.70" y1="112.60" x2="339.70" y2="113.90" stroke="#000" stroke-width="0.8"/>
<text x="332.20" y="119.60" font-size="4.7" font-weight="bold" text-anchor="middle" >D</text>
<text x="339.70" y="119.60" font-size="4.7" font-weight="bold" text-anchor="middle" >R</text>
<line x1="329.70" y1="121.40" x2="342.20" y2="121.40" stroke="#000" stroke-width="0.7"/>
<text x="335.95" y="127.30" font-size="4.6" font-weight="bold" text-anchor="middle" >MIP-1β</text>
<circle cx="332.20" cy="66.50" r="1.2" fill="#6d7c88" stroke="#4c5862" stroke-width="0.55"/>
<circle cx="332.20" cy="70.19" r="1.2" fill="#6d7c88" stroke="#4c5862" stroke-width="0.55"/>
<circle cx="332.20" cy="71.93" r="1.2" fill="#dfe6ec" stroke="#4c5862" stroke-width="0.55"/>
<circle cx="334.00" cy="72.32" r="1.2" fill="#7c94a8" stroke="#4c5862" stroke-width="0.55"/>
<rect x="331.20" y="73.03" width="2" height="2" fill="#9fb2c2" stroke="#5a6670" stroke-width="0.4"/>
<circle cx="332.20" cy="76.16" r="1.2" fill="#b4c6d4" stroke="#4c5862" stroke-width="0.55"/>
<circle cx="332.20" cy="79.07" r="1.2" fill="#9fb2c2" stroke="#4c5862" stroke-width="0.55"/>
<circle cx="333.10" cy="80.39" r="1.2" fill="#9fb2c2" stroke="#4c5862" stroke-width="0.55"/>
<circle cx="331.30" cy="81.01" r="1.2" fill="#9fb2c2" stroke="#4c5862" stroke-width="0.55"/>
<circle cx="334.80" cy="81.48" r="1.2" fill="#9fb2c2" stroke="#4c5862" stroke-width="0.55"/>
<rect x="331.20" y="82.24" width="2" height="2" fill="#a4b8c8" stroke="#5a6670" stroke-width="0.4"/>
<circle cx="334.00" cy="83.46" r="1.2" fill="#dfe6ec" stroke="#4c5862" stroke-width="0.55"/>
<circle cx="330.40" cy="83.56" r="1.2" fill="#9fb2c2" stroke="#4c5862" stroke-width="0.55"/>
<path d="M328.40,85.38L329.60,83.18L330.80,85.38Z" fill="#7a8288" stroke="#505a60" stroke-width="0.3"/>
<path d="M331.00,86.15L332.20,83.95L333.40,86.15Z" fill="#7a8288" stroke="#505a60" stroke-width="0.3"/>
<circle cx="334.00" cy="86.14" r="1.2" fill="#7c94a8" stroke="#4c5862" stroke-width="0.55"/>
<path d="M329.20,87.18L330.40,84.98L331.60,87.18Z" fill="#7a8288" stroke="#505a60" stroke-width="0.3"/>
<circle cx="332.20" cy="86.96" r="1.2" fill="#587a7a" stroke="#4c5862" stroke-width="0.55"/>
<path d="M333.60,88.53L334.80,86.33L336.00,88.53Z" fill="#7a8288" stroke="#505a60" stroke-width="0.3"/>
<circle cx="332.20" cy="92.18" r="1.2" fill="#a4b8c8" stroke="#4c5862" stroke-width="0.55"/>
<rect x="331.20" y="93.61" width="2" height="2" fill="#a4b8c8" stroke="#5a6670" stroke-width="0.4"/>
<circle cx="332.20" cy="96.92" r="1.2" fill="#9fb2c2" stroke="#4c5862" stroke-width="0.55"/>
<circle cx="332.20" cy="98.72" r="1.2" fill="#c8d6e0" stroke="#4c5862" stroke-width="0.55"/>
<path d="M331.00,101.40L332.20,99.20L333.40,101.40Z" fill="#7a8288" stroke="#505a60" stroke-width="0.3"/>
<rect x="329.40" y="78.50" width="5.6" height="2" fill="#c4223c"/>
<circle cx="339.70" cy="50.00" r="1.2" fill="#808c96" stroke="#4c5862" stroke-width="0.55"/>
<circle cx="339.70" cy="52.60" r="1.2" fill="#7c94a8" stroke="#4c5862" stroke-width="0.55"/>
<circle cx="339.70" cy="56.19" r="1.2" fill="#b4c6d4" stroke="#4c5862" stroke-width="0.55"/>
<circle cx="339.70" cy="57.72" r="1.2" fill="#6d7c88" stroke="#4c5862" stroke-width="0.55"/>
<circle cx="340.60" cy="59.08" r="1.2" fill="#dfe6ec" stroke="#4c5862" stroke-width="0.55"/>
<circle cx="339.70" cy="61.73" r="1.2" fill="#7c94a8" stroke="#4c5862" stroke-width="0.55"/>
<circle cx="339.70" cy="63.65" r="1.2" fill="#c8d6e0" stroke="#4c5862" stroke-width="0.55"/>
<circle cx="341.50" cy="64.24" r="1.2" fill="#808c96" stroke="#4c5862" stroke-width="0.55"/>
<path d="M337.60,65.79L338.80,63.59L340.00,65.79Z" fill="#7a8288" stroke="#505a60" stroke-width="0.3"/>
<circle cx="339.70" cy="67.58" r="1.2" fill="#808c96" stroke="#4c5862" stroke-width="0.55"/>
<circle cx="339.70" cy="69.36" r="1.2" fill="#a4b8c8" stroke="#4c5862" stroke-width="0.55"/>
<circle cx="340.60" cy="70.66" r="1.2" fill="#587a7a" stroke="#4c5862" stroke-width="0.55"/>
<circle cx="339.70" cy="73.22" r="1.2" fill="#808c96" stroke="#4c5862" stroke-width="0.55"/>
<circle cx="341.50" cy="73.85" r="1.2" fill="#c8d6e0" stroke="#4c5862" stroke-width="0.55"/>
<circle cx="339.70" cy="75.79" r="1.2" fill="#808c96" stroke="#4c5862" stroke-width="0.55"/>
<rect x="338.70" y="76.57" width="2" height="2" fill="#c8d6e0" stroke="#5a6670" stroke-width="0.4"/>
<circle cx="339.70" cy="79.87" r="1.2" fill="#4f7f7e" stroke="#4c5862" stroke-width="0.55"/>
<path d="M339.40,82.06L340.60,79.86L341.80,82.06Z" fill="#7a8288" stroke="#505a60" stroke-width="0.3"/>
<circle cx="338.80" cy="81.76" r="1.2" fill="#c8d6e0" stroke="#4c5862" stroke-width="0.55"/>
<circle cx="339.70" cy="91.22" r="1.2" fill="#6d7c88" stroke="#4c5862" stroke-width="0.55"/>
<circle cx="341.50" cy="91.44" r="1.2" fill="#6d7c88" stroke="#4c5862" stroke-width="0.55"/>
<circle cx="339.70" cy="97.48" r="1.2" fill="#b4c6d4" stroke="#4c5862" stroke-width="0.55"/>
<circle cx="339.70" cy="102.94" r="1.2" fill="#587a7a" stroke="#4c5862" stroke-width="0.55"/>
<circle cx="341.50" cy="103.80" r="1.2" fill="#808c96" stroke="#4c5862" stroke-width="0.55"/>
<rect x="336.90" y="73.60" width="5.6" height="2" fill="#c4223c"/>
<line x1="351.70" y1="112.60" x2="351.70" y2="113.90" stroke="#000" stroke-width="0.8"/>
<line x1="359.20" y1="112.60" x2="359.20" y2="113.90" stroke="#000" stroke-width="0.8"/>
<text x="351.70" y="119.60" font-size="4.7" font-weight="bold" text-anchor="middle" >D</text>
<text x="359.20" y="119.60" font-size="4.7" font-weight="bold" text-anchor="middle" >R</text>
<line x1="349.20" y1="121.40" x2="361.70" y2="121.40" stroke="#000" stroke-width="0.7"/>
<text x="355.45" y="127.30" font-size="4.6" font-weight="bold" text-anchor="middle" >TNFα</text>
<path d="M350.50,67.00L351.70,64.80L352.90,67.00Z" fill="#7a8288" stroke="#505a60" stroke-width="0.3"/>
<path d="M352.30,67.27L353.50,65.07L354.70,67.27Z" fill="#7a8288" stroke="#505a60" stroke-width="0.3"/>
<circle cx="349.90" cy="66.52" r="1.2" fill="#6d7c88" stroke="#4c5862" stroke-width="0.55"/>
<circle cx="351.70" cy="67.85" r="1.2" fill="#4f7f7e" stroke="#4c5862" stroke-width="0.55"/>
<rect x="350.70" y="69.77" width="2" height="2" fill="#7c94a8" stroke="#5a6670" stroke-width="0.4"/>
<circle cx="353.50" cy="71.58" r="1.2" fill="#dfe6ec" stroke="#4c5862" stroke-width="0.55"/>
<circle cx="351.70" cy="75.29" r="1.2" fill="#4f7f7e" stroke="#4c5862" stroke-width="0.55"/>
<circle cx="351.70" cy="77.69" r="1.2" fill="#587a7a" stroke="#4c5862" stroke-width="0.55"/>
<circle cx="353.50" cy="78.13" r="1.2" fill="#587a7a" stroke="#4c5862" stroke-width="0.55"/>
<circle cx="351.70" cy="80.47" r="1.2" fill="#b4c6d4" stroke="#4c5862" stroke-width="0.55"/>
<circle cx="353.50" cy="81.29" r="1.2" fill="#4f7f7e" stroke="#4c5862" stroke-width="0.55"/>
<circle cx="351.70" cy="83.61" r="1.2" fill="#6d7c88" stroke="#4c5862" stroke-width="0.55"/>
<circle cx="352.60" cy="84.83" r="1.2" fill="#dfe6ec" stroke="#4c5862" stroke-width="0.55"/>
<circle cx="350.80" cy="84.98" r="1.2" fill="#a4b8c8" stroke="#4c5862" stroke-width="0.55"/>
<rect x="350.70" y="86.98" width="2" height="2" fill="#c8d6e0" stroke="#5a6670" stroke-width="0.4"/>
<path d="M352.30,89.34L353.50,87.14L354.70,89.34Z" fill="#7a8288" stroke="#505a60" stroke-width="0.3"/>
<circle cx="351.70" cy="93.14" r="1.2" fill="#808c96" stroke="#4c5862" stroke-width="0.55"/>
<circle cx="351.70" cy="95.19" r="1.2" fill="#7c94a8" stroke="#4c5862" stroke-width="0.55"/>
<path d="M352.30,96.89L353.50,94.69L354.70,96.89Z" fill="#7a8288" stroke="#505a60" stroke-width="0.3"/>
<circle cx="351.70" cy="97.30" r="1.2" fill="#c8d6e0" stroke="#4c5862" stroke-width="0.55"/>
<circle cx="351.70" cy="98.88" r="1.2" fill="#b4c6d4" stroke="#4c5862" stroke-width="0.55"/>
<path d="M351.40,101.16L352.60,98.96L353.80,101.16Z" fill="#7a8288" stroke="#505a60" stroke-width="0.3"/>
<circle cx="351.70" cy="105.52" r="1.2" fill="#808c96" stroke="#4c5862" stroke-width="0.55"/>
<circle cx="351.70" cy="108.00" r="1.2" fill="#4f7f7e" stroke="#4c5862" stroke-width="0.55"/>
<rect x="348.90" y="80.00" width="5.6" height="2" fill="#c4223c"/>
<path d="M358.00,53.80L359.20,51.60L360.40,53.80Z" fill="#7a8288" stroke="#505a60" stroke-width="0.3"/>
<circle cx="361.00" cy="52.99" r="1.2" fill="#c8d6e0" stroke="#4c5862" stroke-width="0.55"/>
<circle cx="359.20" cy="56.79" r="1.2" fill="#808c96" stroke="#4c5862" stroke-width="0.55"/>
<circle cx="361.00" cy="57.50" r="1.2" fill="#587a7a" stroke="#4c5862" stroke-width="0.55"/>
<circle cx="357.40" cy="57.73" r="1.2" fill="#c8d6e0" stroke="#4c5862" stroke-width="0.55"/>
<circle cx="359.20" cy="60.28" r="1.2" fill="#4f7f7e" stroke="#4c5862" stroke-width="0.55"/>
<circle cx="359.20" cy="64.57" r="1.2" fill="#4f7f7e" stroke="#4c5862" stroke-width="0.55"/>
<circle cx="361.00" cy="64.78" r="1.2" fill="#a4b8c8" stroke="#4c5862" stroke-width="0.55"/>
<circle cx="359.20" cy="68.02" r="1.2" fill="#a4b8c8" stroke="#4c5862" stroke-width="0.55"/>
<circle cx="359.20" cy="71.70" r="1.2" fill="#587a7a" stroke="#4c5862" stroke-width="0.55"/>
<circle cx="361.00" cy="71.92" r="1.2" fill="#7c94a8" stroke="#4c5862" stroke-width="0.55"/>
<circle cx="359.20" cy="74.62" r="1.2" fill="#dfe6ec" stroke="#4c5862" stroke-width="0.55"/>
<circle cx="361.00" cy="74.91" r="1.2" fill="#a4b8c8" stroke="#4c5862" stroke-width="0.55"/>
<circle cx="359.20" cy="76.41" r="1.2" fill="#b4c6d4" stroke="#4c5862" stroke-width="0.55"/>
<circle cx="360.10" cy="77.76" r="1.2" fill="#6d7c88" stroke="#4c5862" stroke-width="0.55"/>
<circle cx="358.30" cy="78.61" r="1.2" fill="#587a7a" stroke="#4c5862" stroke-width="0.55"/>
<circle cx="361.00" cy="79.14" r="1.2" fill="#dfe6ec" stroke="#4c5862" stroke-width="0.55"/>
<circle cx="359.20" cy="79.94" r="1.2" fill="#4f7f7e" stroke="#4c5862" stroke-width="0.55"/>
<circle cx="357.40" cy="80.52" r="1.2" fill="#c8d6e0" stroke="#4c5862" stroke-width="0.55"/>
<circle cx="361.00" cy="80.64" r="1.2" fill="#808c96" stroke="#4c5862" stroke-width="0.55"/>
<circle cx="359.20" cy="83.17" r="1.2" fill="#7c94a8" stroke="#4c5862" stroke-width="0.55"/>
<rect x="358.20" y="86.11" width="2" height="2" fill="#587a7a" stroke="#5a6670" stroke-width="0.4"/>
<circle cx="359.20" cy="92.19" r="1.2" fill="#9fb2c2" stroke="#4c5862" stroke-width="0.55"/>
<rect x="358.20" y="95.70" width="2" height="2" fill="#7c94a8" stroke="#5a6670" stroke-width="0.4"/>
<rect x="356.40" y="72.70" width="5.6" height="2" fill="#c4223c"/>
<path d="M292.70,49.40V47.80H301.90V49.40" fill="none" stroke="#000" stroke-width="0.75"/>
<text x="297.35" y="47.90" font-size="5.4" font-weight="bold" text-anchor="middle" >**</text>
<path d="M351.20,49.40V47.80H360.40V49.40" fill="none" stroke="#000" stroke-width="0.75"/>
<text x="355.85" y="47.90" font-size="5.4" font-weight="bold" text-anchor="middle" >*</text>
<line x1="395.50" y1="49.30" x2="395.50" y2="112.50" stroke="#000" stroke-width="0.9"/>
<line x1="395.50" y1="112.50" x2="488.50" y2="112.50" stroke="#000" stroke-width="0.9"/>
<line x1="393.90" y1="55.10" x2="395.50" y2="55.10" stroke="#000" stroke-width="0.8"/>
<text x="393.40" y="57.00" font-size="5.3" font-weight="bold" text-anchor="end" >10</text>
<line x1="393.90" y1="74.30" x2="395.50" y2="74.30" stroke="#000" stroke-width="0.8"/>
<text x="393.40" y="76.20" font-size="5.3" font-weight="bold" text-anchor="end" >1</text>
<line x1="393.90" y1="93.50" x2="395.50" y2="93.50" stroke="#000" stroke-width="0.8"/>
<text x="393.40" y="95.40" font-size="5.3" font-weight="bold" text-anchor="end" >0.1</text>
<line x1="393.90" y1="112.70" x2="395.50" y2="112.70" stroke="#000" stroke-width="0.8"/>
<text x="393.40" y="114.60" font-size="5.3" font-weight="bold" text-anchor="end" >0.01</text>
<line x1="399.60" y1="112.50" x2="399.60" y2="113.80" stroke="#000" stroke-width="0.8"/>
<line x1="407.20" y1="112.50" x2="407.20" y2="113.80" stroke="#000" stroke-width="0.8"/>
<text x="399.60" y="119.60" font-size="4.7" font-weight="bold" text-anchor="middle" >D</text>
<text x="407.20" y="119.60" font-size="4.7" font-weight="bold" text-anchor="middle" >R</text>
<line x1="397.10" y1="121.40" x2="409.70" y2="121.40" stroke="#000" stroke-width="0.7"/>
<text x="403.40" y="127.30" font-size="4.6" font-weight="bold" text-anchor="middle" >CD107a</text>
<circle cx="399.60" cy="56.50" r="1.2" fill="#c8d6e0" stroke="#4c5862" stroke-width="0.55"/>
<circle cx="399.60" cy="59.48" r="1.2" fill="#4f7f7e" stroke="#4c5862" stroke-width="0.55"/>
<circle cx="399.60" cy="61.46" r="1.2" fill="#a4b8c8" stroke="#4c5862" stroke-width="0.55"/>
<circle cx="401.40" cy="61.47" r="1.2" fill="#9fb2c2" stroke="#4c5862" stroke-width="0.55"/>
<circle cx="399.60" cy="64.04" r="1.2" fill="#9fb2c2" stroke="#4c5862" stroke-width="0.55"/>
<circle cx="399.60" cy="65.87" r="1.2" fill="#7c94a8" stroke="#4c5862" stroke-width="0.55"/>
<circle cx="401.40" cy="66.88" r="1.2" fill="#dfe6ec" stroke="#4c5862" stroke-width="0.55"/>
<circle cx="399.60" cy="68.70" r="1.2" fill="#9fb2c2" stroke="#4c5862" stroke-width="0.55"/>
<circle cx="399.60" cy="70.77" r="1.2" fill="#c8d6e0" stroke="#4c5862" stroke-width="0.55"/>
<circle cx="399.60" cy="72.62" r="1.2" fill="#a4b8c8" stroke="#4c5862" stroke-width="0.55"/>
<circle cx="399.60" cy="74.70" r="1.2" fill="#808c96" stroke="#4c5862" stroke-width="0.55"/>
<circle cx="401.40" cy="75.30" r="1.2" fill="#b4c6d4" stroke="#4c5862" stroke-width="0.55"/>
<circle cx="398.70" cy="76.02" r="1.2" fill="#dfe6ec" stroke="#4c5862" stroke-width="0.55"/>
<path d="M398.40,78.47L399.60,76.27L400.80,78.47Z" fill="#7a8288" stroke="#505a60" stroke-width="0.3"/>
<circle cx="401.40" cy="77.72" r="1.2" fill="#dfe6ec" stroke="#4c5862" stroke-width="0.55"/>
<circle cx="397.80" cy="77.85" r="1.2" fill="#7c94a8" stroke="#4c5862" stroke-width="0.55"/>
<circle cx="397.00" cy="77.99" r="1.2" fill="#a4b8c8" stroke="#4c5862" stroke-width="0.55"/>
<circle cx="397.00" cy="78.06" r="1.2" fill="#dfe6ec" stroke="#4c5862" stroke-width="0.55"/>
<circle cx="399.60" cy="79.11" r="1.2" fill="#587a7a" stroke="#4c5862" stroke-width="0.55"/>
<circle cx="399.60" cy="80.92" r="1.2" fill="#dfe6ec" stroke="#4c5862" stroke-width="0.55"/>
<rect x="398.60" y="82.72" width="2" height="2" fill="#c8d6e0" stroke="#5a6670" stroke-width="0.4"/>
<circle cx="401.40" cy="83.73" r="1.2" fill="#a4b8c8" stroke="#4c5862" stroke-width="0.55"/>
<circle cx="397.80" cy="84.39" r="1.2" fill="#4f7f7e" stroke="#4c5862" stroke-width="0.55"/>
<circle cx="399.60" cy="85.60" r="1.2" fill="#587a7a" stroke="#4c5862" stroke-width="0.55"/>
<circle cx="401.40" cy="86.73" r="1.2" fill="#c8d6e0" stroke="#4c5862" stroke-width="0.55"/>
<circle cx="399.60" cy="87.81" r="1.2" fill="#dfe6ec" stroke="#4c5862" stroke-width="0.55"/>
<circle cx="399.60" cy="90.34" r="1.2" fill="#6d7c88" stroke="#4c5862" stroke-width="0.55"/>
<circle cx="401.40" cy="91.30" r="1.2" fill="#c8d6e0" stroke="#4c5862" stroke-width="0.55"/>
<circle cx="399.60" cy="92.10" r="1.2" fill="#9fb2c2" stroke="#4c5862" stroke-width="0.55"/>
<circle cx="397.80" cy="92.38" r="1.2" fill="#4f7f7e" stroke="#4c5862" stroke-width="0.55"/>
<circle cx="401.40" cy="93.06" r="1.2" fill="#dfe6ec" stroke="#4c5862" stroke-width="0.55"/>
<circle cx="397.00" cy="93.08" r="1.2" fill="#dfe6ec" stroke="#4c5862" stroke-width="0.55"/>
<path d="M398.40,95.27L399.60,93.07L400.80,95.27Z" fill="#7a8288" stroke="#505a60" stroke-width="0.3"/>
<circle cx="401.40" cy="95.29" r="1.2" fill="#6d7c88" stroke="#4c5862" stroke-width="0.55"/>
<circle cx="399.60" cy="97.42" r="1.2" fill="#6d7c88" stroke="#4c5862" stroke-width="0.55"/>
<circle cx="401.40" cy="98.10" r="1.2" fill="#9fb2c2" stroke="#4c5862" stroke-width="0.55"/>
<circle cx="398.70" cy="98.60" r="1.2" fill="#a4b8c8" stroke="#4c5862" stroke-width="0.55"/>
<rect x="398.60" y="99.81" width="2" height="2" fill="#7c94a8" stroke="#5a6670" stroke-width="0.4"/>
<circle cx="401.40" cy="101.89" r="1.2" fill="#6d7c88" stroke="#4c5862" stroke-width="0.55"/>
<path d="M398.40,106.30L399.60,104.10L400.80,106.30Z" fill="#7a8288" stroke="#505a60" stroke-width="0.3"/>
<rect x="396.80" y="80.40" width="5.6" height="2" fill="#c4223c"/>
<circle cx="407.20" cy="50.80" r="1.2" fill="#7c94a8" stroke="#4c5862" stroke-width="0.55"/>
<circle cx="408.10" cy="51.95" r="1.2" fill="#9fb2c2" stroke="#4c5862" stroke-width="0.55"/>
<rect x="406.20" y="54.85" width="2" height="2" fill="#7c94a8" stroke="#5a6670" stroke-width="0.4"/>
<rect x="408.00" y="55.05" width="2" height="2" fill="#6d7c88" stroke="#5a6670" stroke-width="0.4"/>
<circle cx="407.20" cy="57.34" r="1.2" fill="#a4b8c8" stroke="#4c5862" stroke-width="0.55"/>
<circle cx="407.20" cy="58.88" r="1.2" fill="#b4c6d4" stroke="#4c5862" stroke-width="0.55"/>
<circle cx="407.20" cy="60.89" r="1.2" fill="#587a7a" stroke="#4c5862" stroke-width="0.55"/>
<circle cx="407.20" cy="63.50" r="1.2" fill="#587a7a" stroke="#4c5862" stroke-width="0.55"/>
<circle cx="409.00" cy="64.11" r="1.2" fill="#dfe6ec" stroke="#4c5862" stroke-width="0.55"/>
<path d="M406.00,66.25L407.20,64.05L408.40,66.25Z" fill="#7a8288" stroke="#505a60" stroke-width="0.3"/>
<circle cx="409.00" cy="66.16" r="1.2" fill="#9fb2c2" stroke="#4c5862" stroke-width="0.55"/>
<circle cx="406.30" cy="66.68" r="1.2" fill="#b4c6d4" stroke="#4c5862" stroke-width="0.55"/>
<circle cx="408.10" cy="67.40" r="1.2" fill="#587a7a" stroke="#4c5862" stroke-width="0.55"/>
<rect x="408.80" y="66.45" width="2" height="2" fill="#808c96" stroke="#5a6670" stroke-width="0.4"/>
<circle cx="405.40" cy="67.86" r="1.2" fill="#808c96" stroke="#4c5862" stroke-width="0.55"/>
<circle cx="404.60" cy="68.05" r="1.2" fill="#a4b8c8" stroke="#4c5862" stroke-width="0.55"/>
<circle cx="407.20" cy="68.71" r="1.2" fill="#9fb2c2" stroke="#4c5862" stroke-width="0.55"/>
<path d="M406.90,70.88L408.10,68.68L409.30,70.88Z" fill="#7a8288" stroke="#505a60" stroke-width="0.3"/>
<circle cx="406.30" cy="70.90" r="1.2" fill="#c8d6e0" stroke="#4c5862" stroke-width="0.55"/>
<circle cx="408.10" cy="71.61" r="1.2" fill="#dfe6ec" stroke="#4c5862" stroke-width="0.55"/>
<circle cx="407.20" cy="74.32" r="1.2" fill="#b4c6d4" stroke="#4c5862" stroke-width="0.55"/>
<circle cx="409.00" cy="75.04" r="1.2" fill="#c8d6e0" stroke="#4c5862" stroke-width="0.55"/>
<circle cx="405.40" cy="75.36" r="1.2" fill="#587a7a" stroke="#4c5862" stroke-width="0.55"/>
<rect x="406.20" y="75.00" width="2" height="2" fill="#6d7c88" stroke="#5a6670" stroke-width="0.4"/>
<circle cx="407.20" cy="77.88" r="1.2" fill="#b4c6d4" stroke="#4c5862" stroke-width="0.55"/>
<circle cx="407.20" cy="79.86" r="1.2" fill="#dfe6ec" stroke="#4c5862" stroke-width="0.55"/>
<circle cx="407.20" cy="81.46" r="1.2" fill="#808c96" stroke="#4c5862" stroke-width="0.55"/>
<circle cx="409.00" cy="81.75" r="1.2" fill="#b4c6d4" stroke="#4c5862" stroke-width="0.55"/>
<path d="M404.20,82.78L405.40,80.58L406.60,82.78Z" fill="#7a8288" stroke="#505a60" stroke-width="0.3"/>
<circle cx="407.20" cy="83.17" r="1.2" fill="#a4b8c8" stroke="#4c5862" stroke-width="0.55"/>
<circle cx="409.00" cy="83.99" r="1.2" fill="#dfe6ec" stroke="#4c5862" stroke-width="0.55"/>
<circle cx="407.20" cy="86.45" r="1.2" fill="#dfe6ec" stroke="#4c5862" stroke-width="0.55"/>
<circle cx="407.20" cy="89.95" r="1.2" fill="#b4c6d4" stroke="#4c5862" stroke-width="0.55"/>
<circle cx="408.10" cy="91.16" r="1.2" fill="#808c96" stroke="#4c5862" stroke-width="0.55"/>
<circle cx="407.20" cy="96.29" r="1.2" fill="#c8d6e0" stroke="#4c5862" stroke-width="0.55"/>
<circle cx="407.20" cy="98.55" r="1.2" fill="#dfe6ec" stroke="#4c5862" stroke-width="0.55"/>
<circle cx="409.00" cy="99.60" r="1.2" fill="#a4b8c8" stroke="#4c5862" stroke-width="0.55"/>
<circle cx="407.20" cy="100.81" r="1.2" fill="#4f7f7e" stroke="#4c5862" stroke-width="0.55"/>
<circle cx="407.20" cy="104.76" r="1.2" fill="#b4c6d4" stroke="#4c5862" stroke-width="0.55"/>
<circle cx="407.20" cy="106.70" r="1.2" fill="#b4c6d4" stroke="#4c5862" stroke-width="0.55"/>
<rect x="404.40" y="78.90" width="5.6" height="2" fill="#c4223c"/>
<line x1="419.20" y1="112.50" x2="419.20" y2="113.80" stroke="#000" stroke-width="0.8"/>
<line x1="426.80" y1="112.50" x2="426.80" y2="113.80" stroke="#000" stroke-width="0.8"/>
<text x="419.20" y="119.60" font-size="4.7" font-weight="bold" text-anchor="middle" >D</text>
<text x="426.80" y="119.60" font-size="4.7" font-weight="bold" text-anchor="middle" >R</text>
<line x1="416.70" y1="121.40" x2="429.30" y2="121.40" stroke="#000" stroke-width="0.7"/>
<text x="423.00" y="127.30" font-size="4.6" font-weight="bold" text-anchor="middle" >IFNγ</text>
<circle cx="419.20" cy="59.40" r="1.2" fill="#6d7c88" stroke="#4c5862" stroke-width="0.55"/>
<circle cx="419.20" cy="61.22" r="1.2" fill="#587a7a" stroke="#4c5862" stroke-width="0.55"/>
<circle cx="419.20" cy="62.83" r="1.2" fill="#9fb2c2" stroke="#4c5862" stroke-width="0.55"/>
<circle cx="421.00" cy="63.38" r="1.2" fill="#a4b8c8" stroke="#4c5862" stroke-width="0.55"/>
<circle cx="419.20" cy="64.95" r="1.2" fill="#9fb2c2" stroke="#4c5862" stroke-width="0.55"/>
<circle cx="421.00" cy="65.63" r="1.2" fill="#4f7f7e" stroke="#4c5862" stroke-width="0.55"/>
<circle cx="419.20" cy="66.54" r="1.2" fill="#4f7f7e" stroke="#4c5862" stroke-width="0.55"/>
<circle cx="421.00" cy="67.46" r="1.2" fill="#b4c6d4" stroke="#4c5862" stroke-width="0.55"/>
<circle cx="419.20" cy="68.76" r="1.2" fill="#9fb2c2" stroke="#4c5862" stroke-width="0.55"/>
<circle cx="419.20" cy="70.32" r="1.2" fill="#6d7c88" stroke="#4c5862" stroke-width="0.55"/>
<circle cx="421.00" cy="70.54" r="1.2" fill="#b4c6d4" stroke="#4c5862" stroke-width="0.55"/>
<circle cx="417.40" cy="71.02" r="1.2" fill="#9fb2c2" stroke="#4c5862" stroke-width="0.55"/>
<circle cx="419.20" cy="71.97" r="1.2" fill="#587a7a" stroke="#4c5862" stroke-width="0.55"/>
<circle cx="421.00" cy="72.98" r="1.2" fill="#a4b8c8" stroke="#4c5862" stroke-width="0.55"/>
<circle cx="419.20" cy="73.68" r="1.2" fill="#808c96" stroke="#4c5862" stroke-width="0.55"/>
<circle cx="417.40" cy="74.41" r="1.2" fill="#6d7c88" stroke="#4c5862" stroke-width="0.55"/>
<circle cx="420.10" cy="75.02" r="1.2" fill="#587a7a" stroke="#4c5862" stroke-width="0.55"/>
<circle cx="419.20" cy="80.04" r="1.2" fill="#587a7a" stroke="#4c5862" stroke-width="0.55"/>
<circle cx="421.00" cy="80.31" r="1.2" fill="#4f7f7e" stroke="#4c5862" stroke-width="0.55"/>
<rect x="419.10" y="80.48" width="2" height="2" fill="#a4b8c8" stroke="#5a6670" stroke-width="0.4"/>
<circle cx="419.20" cy="82.68" r="1.2" fill="#6d7c88" stroke="#4c5862" stroke-width="0.55"/>
<circle cx="420.10" cy="83.99" r="1.2" fill="#808c96" stroke="#4c5862" stroke-width="0.55"/>
<circle cx="419.20" cy="85.25" r="1.2" fill="#587a7a" stroke="#4c5862" stroke-width="0.55"/>
<path d="M419.80,86.28L421.00,84.08L422.20,86.28Z" fill="#7a8288" stroke="#505a60" stroke-width="0.3"/>
<circle cx="420.10" cy="86.48" r="1.2" fill="#9fb2c2" stroke="#4c5862" stroke-width="0.55"/>
<circle cx="419.20" cy="88.87" r="1.2" fill="#a4b8c8" stroke="#4c5862" stroke-width="0.55"/>
<circle cx="421.00" cy="89.64" r="1.2" fill="#9fb2c2" stroke="#4c5862" stroke-width="0.55"/>
<circle cx="418.30" cy="90.08" r="1.2" fill="#c8d6e0" stroke="#4c5862" stroke-width="0.55"/>
<circle cx="416.60" cy="90.08" r="1.2" fill="#b4c6d4" stroke="#4c5862" stroke-width="0.55"/>
<circle cx="416.60" cy="90.24" r="1.2" fill="#587a7a" stroke="#4c5862" stroke-width="0.55"/>
<path d="M415.40,91.64L416.60,89.44L417.80,91.64Z" fill="#7a8288" stroke="#505a60" stroke-width="0.3"/>
<circle cx="420.10" cy="90.78" r="1.2" fill="#808c96" stroke="#4c5862" stroke-width="0.55"/>
<circle cx="419.20" cy="92.44" r="1.2" fill="#808c96" stroke="#4c5862" stroke-width="0.55"/>
<circle cx="421.00" cy="93.14" r="1.2" fill="#6d7c88" stroke="#4c5862" stroke-width="0.55"/>
<circle cx="419.20" cy="94.12" r="1.2" fill="#9fb2c2" stroke="#4c5862" stroke-width="0.55"/>
<circle cx="417.40" cy="94.31" r="1.2" fill="#808c96" stroke="#4c5862" stroke-width="0.55"/>
<circle cx="421.80" cy="94.49" r="1.2" fill="#6d7c88" stroke="#4c5862" stroke-width="0.55"/>
<circle cx="416.60" cy="95.20" r="1.2" fill="#7c94a8" stroke="#4c5862" stroke-width="0.55"/>
<circle cx="419.20" cy="101.43" r="1.2" fill="#c8d6e0" stroke="#4c5862" stroke-width="0.55"/>
<path d="M419.80,103.40L421.00,101.20L422.20,103.40Z" fill="#7a8288" stroke="#505a60" stroke-width="0.3"/>
<rect x="416.40" y="80.40" width="5.6" height="2" fill="#c4223c"/>
<path d="M425.60,48.90L426.80,46.70L428.00,48.90Z" fill="#7a8288" stroke="#505a60" stroke-width="0.3"/>
<path d="M427.40,49.57L428.60,47.37L429.80,49.57Z" fill="#7a8288" stroke="#505a60" stroke-width="0.3"/>
<circle cx="426.80" cy="55.32" r="1.2" fill="#4f7f7e" stroke="#4c5862" stroke-width="0.55"/>
<path d="M427.40,56.48L428.60,54.28L429.80,56.48Z" fill="#7a8288" stroke="#505a60" stroke-width="0.3"/>
<circle cx="425.00" cy="55.58" r="1.2" fill="#4f7f7e" stroke="#4c5862" stroke-width="0.55"/>
<circle cx="426.80" cy="58.26" r="1.2" fill="#dfe6ec" stroke="#4c5862" stroke-width="0.55"/>
<circle cx="427.70" cy="59.67" r="1.2" fill="#4f7f7e" stroke="#4c5862" stroke-width="0.55"/>
<circle cx="426.80" cy="62.05" r="1.2" fill="#a4b8c8" stroke="#4c5862" stroke-width="0.55"/>
<circle cx="428.60" cy="62.77" r="1.2" fill="#dfe6ec" stroke="#4c5862" stroke-width="0.55"/>
<circle cx="426.80" cy="67.69" r="1.2" fill="#b4c6d4" stroke="#4c5862" stroke-width="0.55"/>
<rect x="427.60" y="67.19" width="2" height="2" fill="#6d7c88" stroke="#5a6670" stroke-width="0.4"/>
<circle cx="425.90" cy="69.00" r="1.2" fill="#b4c6d4" stroke="#4c5862" stroke-width="0.55"/>
<circle cx="426.80" cy="71.92" r="1.2" fill="#587a7a" stroke="#4c5862" stroke-width="0.55"/>
<circle cx="427.70" cy="73.26" r="1.2" fill="#c8d6e0" stroke="#4c5862" stroke-width="0.55"/>
<circle cx="425.90" cy="73.93" r="1.2" fill="#587a7a" stroke="#4c5862" stroke-width="0.55"/>
<circle cx="429.40" cy="74.34" r="1.2" fill="#7c94a8" stroke="#4c5862" stroke-width="0.55"/>
<circle cx="427.70" cy="75.02" r="1.2" fill="#dfe6ec" stroke="#4c5862" stroke-width="0.55"/>
<rect x="424.90" y="74.70" width="2" height="2" fill="#808c96" stroke="#5a6670" stroke-width="0.4"/>
<circle cx="426.80" cy="81.92" r="1.2" fill="#c8d6e0" stroke="#4c5862" stroke-width="0.55"/>
<circle cx="428.60" cy="82.26" r="1.2" fill="#4f7f7e" stroke="#4c5862" stroke-width="0.55"/>
<circle cx="426.80" cy="83.46" r="1.2" fill="#4f7f7e" stroke="#4c5862" stroke-width="0.55"/>
<circle cx="428.60" cy="83.84" r="1.2" fill="#a4b8c8" stroke="#4c5862" stroke-width="0.55"/>
<circle cx="425.00" cy="84.51" r="1.2" fill="#9fb2c2" stroke="#4c5862" stroke-width="0.55"/>
<circle cx="426.80" cy="85.48" r="1.2" fill="#c8d6e0" stroke="#4c5862" stroke-width="0.55"/>
<circle cx="428.60" cy="85.58" r="1.2" fill="#808c96" stroke="#4c5862" stroke-width="0.55"/>
<circle cx="424.20" cy="85.59" r="1.2" fill="#4f7f7e" stroke="#4c5862" stroke-width="0.55"/>
<path d="M423.00,87.13L424.20,84.93L425.40,87.13Z" fill="#7a8288" stroke="#505a60" stroke-width="0.3"/>
<circle cx="427.70" cy="86.80" r="1.2" fill="#587a7a" stroke="#4c5862" stroke-width="0.55"/>
<circle cx="426.80" cy="88.14" r="1.2" fill="#b4c6d4" stroke="#4c5862" stroke-width="0.55"/>
<circle cx="426.80" cy="90.15" r="1.2" fill="#7c94a8" stroke="#4c5862" stroke-width="0.55"/>
<path d="M425.60,93.36L426.80,91.16L428.00,93.36Z" fill="#7a8288" stroke="#505a60" stroke-width="0.3"/>
<circle cx="427.70" cy="93.62" r="1.2" fill="#dfe6ec" stroke="#4c5862" stroke-width="0.55"/>
<rect x="424.90" y="92.92" width="2" height="2" fill="#9fb2c2" stroke="#5a6670" stroke-width="0.4"/>
<circle cx="429.40" cy="94.47" r="1.2" fill="#6d7c88" stroke="#4c5862" stroke-width="0.55"/>
<circle cx="426.80" cy="95.49" r="1.2" fill="#808c96" stroke="#4c5862" stroke-width="0.55"/>
<path d="M425.60,99.42L426.80,97.22L428.00,99.42Z" fill="#7a8288" stroke="#505a60" stroke-width="0.3"/>
<circle cx="428.60" cy="98.44" r="1.2" fill="#7c94a8" stroke="#4c5862" stroke-width="0.55"/>
<circle cx="426.80" cy="100.23" r="1.2" fill="#b4c6d4" stroke="#4c5862" stroke-width="0.55"/>
<circle cx="428.60" cy="100.38" r="1.2" fill="#9fb2c2" stroke="#4c5862" stroke-width="0.55"/>
<rect x="424.00" y="100.00" width="2" height="2" fill="#a4b8c8" stroke="#5a6670" stroke-width="0.4"/>
<rect x="424.00" y="77.00" width="5.6" height="2" fill="#c4223c"/>
<line x1="438.80" y1="112.50" x2="438.80" y2="113.80" stroke="#000" stroke-width="0.8"/>
<line x1="446.40" y1="112.50" x2="446.40" y2="113.80" stroke="#000" stroke-width="0.8"/>
<text x="438.80" y="119.60" font-size="4.7" font-weight="bold" text-anchor="middle" >D</text>
<text x="446.40" y="119.60" font-size="4.7" font-weight="bold" text-anchor="middle" >R</text>
<line x1="436.30" y1="121.40" x2="448.90" y2="121.40" stroke="#000" stroke-width="0.7"/>
<text x="442.60" y="127.30" font-size="4.6" font-weight="bold" text-anchor="middle" >IL-2</text>
<path d="M437.60,77.60L438.80,75.40L440.00,77.60Z" fill="#7a8288" stroke="#505a60" stroke-width="0.3"/>
<circle cx="440.60" cy="77.63" r="1.2" fill="#808c96" stroke="#4c5862" stroke-width="0.55"/>
<circle cx="438.80" cy="78.44" r="1.2" fill="#808c96" stroke="#4c5862" stroke-width="0.55"/>
<circle cx="437.00" cy="78.71" r="1.2" fill="#587a7a" stroke="#4c5862" stroke-width="0.55"/>
<circle cx="438.80" cy="80.14" r="1.2" fill="#b4c6d4" stroke="#4c5862" stroke-width="0.55"/>
<rect x="437.80" y="82.31" width="2" height="2" fill="#6d7c88" stroke="#5a6670" stroke-width="0.4"/>
<circle cx="440.60" cy="84.30" r="1.2" fill="#b4c6d4" stroke="#4c5862" stroke-width="0.55"/>
<circle cx="438.80" cy="86.66" r="1.2" fill="#b4c6d4" stroke="#4c5862" stroke-width="0.55"/>
<circle cx="438.80" cy="88.14" r="1.2" fill="#6d7c88" stroke="#4c5862" stroke-width="0.55"/>
<rect x="437.80" y="88.72" width="2" height="2" fill="#c8d6e0" stroke="#5a6670" stroke-width="0.4"/>
<circle cx="440.60" cy="89.95" r="1.2" fill="#808c96" stroke="#4c5862" stroke-width="0.55"/>
<circle cx="437.00" cy="90.18" r="1.2" fill="#587a7a" stroke="#4c5862" stroke-width="0.55"/>
<circle cx="438.80" cy="91.37" r="1.2" fill="#a4b8c8" stroke="#4c5862" stroke-width="0.55"/>
<circle cx="438.80" cy="93.64" r="1.2" fill="#587a7a" stroke="#4c5862" stroke-width="0.55"/>
<rect x="439.60" y="92.90" width="2" height="2" fill="#9fb2c2" stroke="#5a6670" stroke-width="0.4"/>
<circle cx="437.00" cy="94.73" r="1.2" fill="#c8d6e0" stroke="#4c5862" stroke-width="0.55"/>
<circle cx="438.80" cy="95.33" r="1.2" fill="#dfe6ec" stroke="#4c5862" stroke-width="0.55"/>
<circle cx="438.80" cy="97.69" r="1.2" fill="#6d7c88" stroke="#4c5862" stroke-width="0.55"/>
<circle cx="438.80" cy="99.88" r="1.2" fill="#a4b8c8" stroke="#4c5862" stroke-width="0.55"/>
<circle cx="439.70" cy="101.27" r="1.2" fill="#6d7c88" stroke="#4c5862" stroke-width="0.55"/>
<circle cx="438.80" cy="102.93" r="1.2" fill="#808c96" stroke="#4c5862" stroke-width="0.55"/>
<circle cx="440.60" cy="102.99" r="1.2" fill="#4f7f7e" stroke="#4c5862" stroke-width="0.55"/>
<circle cx="439.70" cy="104.14" r="1.2" fill="#4f7f7e" stroke="#4c5862" stroke-width="0.55"/>
<circle cx="437.90" cy="104.27" r="1.2" fill="#7c94a8" stroke="#4c5862" stroke-width="0.55"/>
<circle cx="441.40" cy="104.44" r="1.2" fill="#587a7a" stroke="#4c5862" stroke-width="0.55"/>
<circle cx="436.20" cy="104.58" r="1.2" fill="#9fb2c2" stroke="#4c5862" stroke-width="0.55"/>
<path d="M435.00,105.64L436.20,103.44L437.40,105.64Z" fill="#7a8288" stroke="#505a60" stroke-width="0.3"/>
<circle cx="436.20" cy="104.91" r="1.2" fill="#7c94a8" stroke="#4c5862" stroke-width="0.55"/>
<circle cx="436.20" cy="105.12" r="1.2" fill="#587a7a" stroke="#4c5862" stroke-width="0.55"/>
<circle cx="438.80" cy="105.73" r="1.2" fill="#808c96" stroke="#4c5862" stroke-width="0.55"/>
<rect x="439.60" y="104.88" width="2" height="2" fill="#7c94a8" stroke="#5a6670" stroke-width="0.4"/>
<circle cx="436.20" cy="106.22" r="1.2" fill="#4f7f7e" stroke="#4c5862" stroke-width="0.55"/>
<circle cx="436.20" cy="106.51" r="1.2" fill="#7c94a8" stroke="#4c5862" stroke-width="0.55"/>
<circle cx="436.20" cy="106.54" r="1.2" fill="#6d7c88" stroke="#4c5862" stroke-width="0.55"/>
<circle cx="437.90" cy="106.88" r="1.2" fill="#4f7f7e" stroke="#4c5862" stroke-width="0.55"/>
<rect x="437.80" y="107.74" width="2" height="2" fill="#b4c6d4" stroke="#5a6670" stroke-width="0.4"/>
<circle cx="440.60" cy="108.83" r="1.2" fill="#a4b8c8" stroke="#4c5862" stroke-width="0.55"/>
<circle cx="437.00" cy="108.85" r="1.2" fill="#7c94a8" stroke="#4c5862" stroke-width="0.55"/>
<circle cx="436.20" cy="109.42" r="1.2" fill="#b4c6d4" stroke="#4c5862" stroke-width="0.55"/>
<circle cx="438.80" cy="111.00" r="1.2" fill="#9fb2c2" stroke="#4c5862" stroke-width="0.55"/>
<rect x="436.00" y="98.50" width="5.6" height="2" fill="#c4223c"/>
<circle cx="446.40" cy="50.80" r="1.2" fill="#6d7c88" stroke="#4c5862" stroke-width="0.55"/>
<circle cx="446.40" cy="70.90" r="1.2" fill="#a4b8c8" stroke="#4c5862" stroke-width="0.55"/>
<circle cx="448.20" cy="71.93" r="1.2" fill="#6d7c88" stroke="#4c5862" stroke-width="0.55"/>
<circle cx="446.40" cy="74.60" r="1.2" fill="#587a7a" stroke="#4c5862" stroke-width="0.55"/>
<circle cx="448.20" cy="74.71" r="1.2" fill="#dfe6ec" stroke="#4c5862" stroke-width="0.55"/>
<circle cx="444.60" cy="75.35" r="1.2" fill="#587a7a" stroke="#4c5862" stroke-width="0.55"/>
<circle cx="446.40" cy="76.53" r="1.2" fill="#587a7a" stroke="#4c5862" stroke-width="0.55"/>
<circle cx="446.40" cy="81.67" r="1.2" fill="#4f7f7e" stroke="#4c5862" stroke-width="0.55"/>
<circle cx="448.20" cy="82.00" r="1.2" fill="#b4c6d4" stroke="#4c5862" stroke-width="0.55"/>
<path d="M443.40,83.10L444.60,80.90L445.80,83.10Z" fill="#7a8288" stroke="#505a60" stroke-width="0.3"/>
<circle cx="443.80" cy="82.92" r="1.2" fill="#808c96" stroke="#4c5862" stroke-width="0.55"/>
<circle cx="446.40" cy="87.46" r="1.2" fill="#b4c6d4" stroke="#4c5862" stroke-width="0.55"/>
<circle cx="448.20" cy="87.61" r="1.2" fill="#b4c6d4" stroke="#4c5862" stroke-width="0.55"/>
<circle cx="444.60" cy="88.37" r="1.2" fill="#6d7c88" stroke="#4c5862" stroke-width="0.55"/>
<path d="M445.20,90.07L446.40,87.87L447.60,90.07Z" fill="#7a8288" stroke="#505a60" stroke-width="0.3"/>
<circle cx="446.40" cy="94.28" r="1.2" fill="#6d7c88" stroke="#4c5862" stroke-width="0.55"/>
<circle cx="448.20" cy="95.28" r="1.2" fill="#a4b8c8" stroke="#4c5862" stroke-width="0.55"/>
<rect x="445.40" y="95.25" width="2" height="2" fill="#b4c6d4" stroke="#5a6670" stroke-width="0.4"/>
<circle cx="444.60" cy="96.62" r="1.2" fill="#9fb2c2" stroke="#4c5862" stroke-width="0.55"/>
<circle cx="448.20" cy="96.89" r="1.2" fill="#808c96" stroke="#4c5862" stroke-width="0.55"/>
<circle cx="443.80" cy="97.24" r="1.2" fill="#587a7a" stroke="#4c5862" stroke-width="0.55"/>
<circle cx="446.40" cy="98.63" r="1.2" fill="#c8d6e0" stroke="#4c5862" stroke-width="0.55"/>
<circle cx="448.20" cy="98.68" r="1.2" fill="#dfe6ec" stroke="#4c5862" stroke-width="0.55"/>
<rect x="443.60" y="98.06" width="2" height="2" fill="#c8d6e0" stroke="#5a6670" stroke-width="0.4"/>
<path d="M446.10,101.06L447.30,98.86L448.50,101.06Z" fill="#7a8288" stroke="#505a60" stroke-width="0.3"/>
<path d="M444.30,101.38L445.50,99.18L446.70,101.38Z" fill="#7a8288" stroke="#505a60" stroke-width="0.3"/>
<circle cx="449.00" cy="100.53" r="1.2" fill="#587a7a" stroke="#4c5862" stroke-width="0.55"/>
<circle cx="443.80" cy="101.30" r="1.2" fill="#9fb2c2" stroke="#4c5862" stroke-width="0.55"/>
<circle cx="443.80" cy="101.44" r="1.2" fill="#b4c6d4" stroke="#4c5862" stroke-width="0.55"/>
<circle cx="446.40" cy="103.57" r="1.2" fill="#808c96" stroke="#4c5862" stroke-width="0.55"/>
<circle cx="448.20" cy="104.37" r="1.2" fill="#4f7f7e" stroke="#4c5862" stroke-width="0.55"/>
<path d="M444.30,105.99L445.50,103.79L446.70,105.99Z" fill="#7a8288" stroke="#505a60" stroke-width="0.3"/>
<circle cx="446.40" cy="106.96" r="1.2" fill="#a4b8c8" stroke="#4c5862" stroke-width="0.55"/>
<path d="M447.00,108.27L448.20,106.07L449.40,108.27Z" fill="#7a8288" stroke="#505a60" stroke-width="0.3"/>
<circle cx="444.60" cy="107.33" r="1.2" fill="#4f7f7e" stroke="#4c5862" stroke-width="0.55"/>
<path d="M442.60,108.87L443.80,106.67L445.00,108.87Z" fill="#7a8288" stroke="#505a60" stroke-width="0.3"/>
<circle cx="443.80" cy="108.13" r="1.2" fill="#4f7f7e" stroke="#4c5862" stroke-width="0.55"/>
<circle cx="446.40" cy="108.87" r="1.2" fill="#808c96" stroke="#4c5862" stroke-width="0.55"/>
<circle cx="448.20" cy="109.81" r="1.2" fill="#b4c6d4" stroke="#4c5862" stroke-width="0.55"/>
<circle cx="446.40" cy="110.59" r="1.2" fill="#808c96" stroke="#4c5862" stroke-width="0.55"/>
<path d="M443.40,112.00L444.60,109.80L445.80,112.00Z" fill="#7a8288" stroke="#505a60" stroke-width="0.3"/>
<rect x="443.60" y="102.80" width="5.6" height="2" fill="#c4223c"/>
<line x1="458.40" y1="112.50" x2="458.40" y2="113.80" stroke="#000" stroke-width="0.8"/>
<line x1="466.00" y1="112.50" x2="466.00" y2="113.80" stroke="#000" stroke-width="0.8"/>
<text x="458.40" y="119.60" font-size="4.7" font-weight="bold" text-anchor="middle" >D</text>
<text x="466.00" y="119.60" font-size="4.7" font-weight="bold" text-anchor="middle" >R</text>
<line x1="455.90" y1="121.40" x2="468.50" y2="121.40" stroke="#000" stroke-width="0.7"/>
<text x="462.20" y="127.30" font-size="4.6" font-weight="bold" text-anchor="middle" >MIP-1β</text>
<circle cx="458.40" cy="56.50" r="1.2" fill="#c8d6e0" stroke="#4c5862" stroke-width="0.55"/>
<circle cx="458.40" cy="60.62" r="1.2" fill="#4f7f7e" stroke="#4c5862" stroke-width="0.55"/>
<path d="M459.00,61.84L460.20,59.64L461.40,61.84Z" fill="#7a8288" stroke="#505a60" stroke-width="0.3"/>
<circle cx="456.60" cy="61.61" r="1.2" fill="#7c94a8" stroke="#4c5862" stroke-width="0.55"/>
<rect x="454.80" y="60.96" width="2" height="2" fill="#6d7c88" stroke="#5a6670" stroke-width="0.4"/>
<path d="M457.20,66.76L458.40,64.56L459.60,66.76Z" fill="#7a8288" stroke="#505a60" stroke-width="0.3"/>
<rect x="459.20" y="64.83" width="2" height="2" fill="#6d7c88" stroke="#5a6670" stroke-width="0.4"/>
<circle cx="458.40" cy="67.31" r="1.2" fill="#dfe6ec" stroke="#4c5862" stroke-width="0.55"/>
<circle cx="460.20" cy="67.33" r="1.2" fill="#dfe6ec" stroke="#4c5862" stroke-width="0.55"/>
<circle cx="456.60" cy="68.10" r="1.2" fill="#9fb2c2" stroke="#4c5862" stroke-width="0.55"/>
<circle cx="458.40" cy="69.44" r="1.2" fill="#c8d6e0" stroke="#4c5862" stroke-width="0.55"/>
<path d="M457.20,72.36L458.40,70.16L459.60,72.36Z" fill="#7a8288" stroke="#505a60" stroke-width="0.3"/>
<circle cx="460.20" cy="72.13" r="1.2" fill="#7c94a8" stroke="#4c5862" stroke-width="0.55"/>
<circle cx="458.40" cy="73.14" r="1.2" fill="#b4c6d4" stroke="#4c5862" stroke-width="0.55"/>
<circle cx="460.20" cy="74.04" r="1.2" fill="#9fb2c2" stroke="#4c5862" stroke-width="0.55"/>
<circle cx="458.40" cy="75.58" r="1.2" fill="#dfe6ec" stroke="#4c5862" stroke-width="0.55"/>
<rect x="459.20" y="74.89" width="2" height="2" fill="#a4b8c8" stroke="#5a6670" stroke-width="0.4"/>
<circle cx="456.60" cy="76.26" r="1.2" fill="#a4b8c8" stroke="#4c5862" stroke-width="0.55"/>
<circle cx="455.80" cy="76.45" r="1.2" fill="#808c96" stroke="#4c5862" stroke-width="0.55"/>
<circle cx="455.80" cy="76.60" r="1.2" fill="#b4c6d4" stroke="#4c5862" stroke-width="0.55"/>
<rect x="454.80" y="75.90" width="2" height="2" fill="#808c96" stroke="#5a6670" stroke-width="0.4"/>
<circle cx="458.40" cy="77.67" r="1.2" fill="#4f7f7e" stroke="#4c5862" stroke-width="0.55"/>
<circle cx="460.20" cy="77.91" r="1.2" fill="#c8d6e0" stroke="#4c5862" stroke-width="0.55"/>
<circle cx="455.80" cy="78.06" r="1.2" fill="#b4c6d4" stroke="#4c5862" stroke-width="0.55"/>
<circle cx="455.80" cy="78.73" r="1.2" fill="#c8d6e0" stroke="#4c5862" stroke-width="0.55"/>
<circle cx="457.50" cy="78.96" r="1.2" fill="#4f7f7e" stroke="#4c5862" stroke-width="0.55"/>
<circle cx="459.30" cy="79.52" r="1.2" fill="#587a7a" stroke="#4c5862" stroke-width="0.55"/>
<circle cx="458.40" cy="81.76" r="1.2" fill="#dfe6ec" stroke="#4c5862" stroke-width="0.55"/>
<circle cx="460.20" cy="82.43" r="1.2" fill="#808c96" stroke="#4c5862" stroke-width="0.55"/>
<path d="M455.40,83.65L456.60,81.45L457.80,83.65Z" fill="#7a8288" stroke="#505a60" stroke-width="0.3"/>
<circle cx="455.80" cy="82.98" r="1.2" fill="#6d7c88" stroke="#4c5862" stroke-width="0.55"/>
<circle cx="458.40" cy="83.53" r="1.2" fill="#808c96" stroke="#4c5862" stroke-width="0.55"/>
<circle cx="461.00" cy="83.82" r="1.2" fill="#b4c6d4" stroke="#4c5862" stroke-width="0.55"/>
<path d="M457.20,86.84L458.40,84.64L459.60,86.84Z" fill="#7a8288" stroke="#505a60" stroke-width="0.3"/>
<circle cx="458.40" cy="88.43" r="1.2" fill="#7c94a8" stroke="#4c5862" stroke-width="0.55"/>
<circle cx="458.40" cy="92.32" r="1.2" fill="#7c94a8" stroke="#4c5862" stroke-width="0.55"/>
<circle cx="460.20" cy="92.81" r="1.2" fill="#a4b8c8" stroke="#4c5862" stroke-width="0.55"/>
<circle cx="457.50" cy="93.54" r="1.2" fill="#dfe6ec" stroke="#4c5862" stroke-width="0.55"/>
<circle cx="458.40" cy="97.76" r="1.2" fill="#808c96" stroke="#4c5862" stroke-width="0.55"/>
<circle cx="458.40" cy="101.00" r="1.2" fill="#6d7c88" stroke="#4c5862" stroke-width="0.55"/>
<rect x="455.60" y="79.90" width="5.6" height="2" fill="#c4223c"/>
<circle cx="466.00" cy="47.90" r="1.2" fill="#a4b8c8" stroke="#4c5862" stroke-width="0.55"/>
<circle cx="467.80" cy="48.19" r="1.2" fill="#808c96" stroke="#4c5862" stroke-width="0.55"/>
<circle cx="466.00" cy="50.12" r="1.2" fill="#6d7c88" stroke="#4c5862" stroke-width="0.55"/>
<rect x="465.00" y="52.66" width="2" height="2" fill="#a4b8c8" stroke="#5a6670" stroke-width="0.4"/>
<path d="M466.60,55.34L467.80,53.14L469.00,55.34Z" fill="#7a8288" stroke="#505a60" stroke-width="0.3"/>
<circle cx="464.20" cy="54.40" r="1.2" fill="#dfe6ec" stroke="#4c5862" stroke-width="0.55"/>
<circle cx="466.00" cy="56.42" r="1.2" fill="#6d7c88" stroke="#4c5862" stroke-width="0.55"/>
<circle cx="467.80" cy="56.97" r="1.2" fill="#587a7a" stroke="#4c5862" stroke-width="0.55"/>
<path d="M464.80,58.95L466.00,56.75L467.20,58.95Z" fill="#7a8288" stroke="#505a60" stroke-width="0.3"/>
<circle cx="466.00" cy="59.42" r="1.2" fill="#6d7c88" stroke="#4c5862" stroke-width="0.55"/>
<circle cx="466.90" cy="60.80" r="1.2" fill="#7c94a8" stroke="#4c5862" stroke-width="0.55"/>
<circle cx="465.10" cy="60.83" r="1.2" fill="#7c94a8" stroke="#4c5862" stroke-width="0.55"/>
<rect x="467.60" y="60.56" width="2" height="2" fill="#7c94a8" stroke="#5a6670" stroke-width="0.4"/>
<circle cx="466.00" cy="62.77" r="1.2" fill="#7c94a8" stroke="#4c5862" stroke-width="0.55"/>
<circle cx="466.90" cy="64.09" r="1.2" fill="#6d7c88" stroke="#4c5862" stroke-width="0.55"/>
<path d="M463.90,65.92L465.10,63.72L466.30,65.92Z" fill="#7a8288" stroke="#505a60" stroke-width="0.3"/>
<circle cx="468.60" cy="65.01" r="1.2" fill="#dfe6ec" stroke="#4c5862" stroke-width="0.55"/>
<circle cx="466.00" cy="66.44" r="1.2" fill="#4f7f7e" stroke="#4c5862" stroke-width="0.55"/>
<circle cx="467.80" cy="67.05" r="1.2" fill="#9fb2c2" stroke="#4c5862" stroke-width="0.55"/>
<circle cx="464.20" cy="67.11" r="1.2" fill="#6d7c88" stroke="#4c5862" stroke-width="0.55"/>
<rect x="462.40" y="66.12" width="2" height="2" fill="#a4b8c8" stroke="#5a6670" stroke-width="0.4"/>
<rect x="465.00" y="68.41" width="2" height="2" fill="#4f7f7e" stroke="#5a6670" stroke-width="0.4"/>
<circle cx="466.90" cy="70.58" r="1.2" fill="#9fb2c2" stroke="#4c5862" stroke-width="0.55"/>
<path d="M463.90,72.59L465.10,70.39L466.30,72.59Z" fill="#7a8288" stroke="#505a60" stroke-width="0.3"/>
<circle cx="468.60" cy="71.64" r="1.2" fill="#b4c6d4" stroke="#4c5862" stroke-width="0.55"/>
<rect x="462.40" y="70.79" width="2" height="2" fill="#9fb2c2" stroke="#5a6670" stroke-width="0.4"/>
<path d="M464.80,73.92L466.00,71.72L467.20,73.92Z" fill="#7a8288" stroke="#505a60" stroke-width="0.3"/>
<circle cx="466.00" cy="75.40" r="1.2" fill="#808c96" stroke="#4c5862" stroke-width="0.55"/>
<circle cx="466.00" cy="77.11" r="1.2" fill="#587a7a" stroke="#4c5862" stroke-width="0.55"/>
<path d="M466.60,78.31L467.80,76.11L469.00,78.31Z" fill="#7a8288" stroke="#505a60" stroke-width="0.3"/>
<circle cx="466.90" cy="78.45" r="1.2" fill="#b4c6d4" stroke="#4c5862" stroke-width="0.55"/>
<circle cx="466.00" cy="81.96" r="1.2" fill="#dfe6ec" stroke="#4c5862" stroke-width="0.55"/>
<circle cx="466.00" cy="86.10" r="1.2" fill="#a4b8c8" stroke="#4c5862" stroke-width="0.55"/>
<circle cx="467.80" cy="86.88" r="1.2" fill="#c8d6e0" stroke="#4c5862" stroke-width="0.55"/>
<circle cx="466.00" cy="88.87" r="1.2" fill="#c8d6e0" stroke="#4c5862" stroke-width="0.55"/>
<circle cx="467.80" cy="89.21" r="1.2" fill="#b4c6d4" stroke="#4c5862" stroke-width="0.55"/>
<circle cx="465.10" cy="90.25" r="1.2" fill="#808c96" stroke="#4c5862" stroke-width="0.55"/>
<rect x="465.00" y="92.11" width="2" height="2" fill="#808c96" stroke="#5a6670" stroke-width="0.4"/>
<circle cx="466.00" cy="94.59" r="1.2" fill="#a4b8c8" stroke="#4c5862" stroke-width="0.55"/>
<circle cx="466.00" cy="96.70" r="1.2" fill="#587a7a" stroke="#4c5862" stroke-width="0.55"/>
<rect x="463.20" y="69.90" width="5.6" height="2" fill="#c4223c"/>
<line x1="478.00" y1="112.50" x2="478.00" y2="113.80" stroke="#000" stroke-width="0.8"/>
<line x1="485.60" y1="112.50" x2="485.60" y2="113.80" stroke="#000" stroke-width="0.8"/>
<text x="478.00" y="119.60" font-size="4.7" font-weight="bold" text-anchor="middle" >D</text>
<text x="485.60" y="119.60" font-size="4.7" font-weight="bold" text-anchor="middle" >R</text>
<line x1="475.50" y1="121.40" x2="488.10" y2="121.40" stroke="#000" stroke-width="0.7"/>
<text x="481.80" y="127.30" font-size="4.6" font-weight="bold" text-anchor="middle" >TNFα</text>
<rect x="477.00" y="61.30" width="2" height="2" fill="#7c94a8" stroke="#5a6670" stroke-width="0.4"/>
<circle cx="478.00" cy="64.77" r="1.2" fill="#7c94a8" stroke="#4c5862" stroke-width="0.55"/>
<circle cx="479.80" cy="64.88" r="1.2" fill="#b4c6d4" stroke="#4c5862" stroke-width="0.55"/>
<circle cx="476.20" cy="65.30" r="1.2" fill="#a4b8c8" stroke="#4c5862" stroke-width="0.55"/>
<circle cx="475.40" cy="65.75" r="1.2" fill="#587a7a" stroke="#4c5862" stroke-width="0.55"/>
<circle cx="478.00" cy="67.16" r="1.2" fill="#7c94a8" stroke="#4c5862" stroke-width="0.55"/>
<circle cx="479.80" cy="68.18" r="1.2" fill="#b4c6d4" stroke="#4c5862" stroke-width="0.55"/>
<path d="M476.80,72.46L478.00,70.26L479.20,72.46Z" fill="#7a8288" stroke="#505a60" stroke-width="0.3"/>
<circle cx="479.80" cy="72.04" r="1.2" fill="#587a7a" stroke="#4c5862" stroke-width="0.55"/>
<path d="M476.80,76.17L478.00,73.97L479.20,76.17Z" fill="#7a8288" stroke="#505a60" stroke-width="0.3"/>
<circle cx="478.90" cy="76.39" r="1.2" fill="#4f7f7e" stroke="#4c5862" stroke-width="0.55"/>
<circle cx="478.00" cy="78.25" r="1.2" fill="#4f7f7e" stroke="#4c5862" stroke-width="0.55"/>
<circle cx="479.80" cy="78.80" r="1.2" fill="#b4c6d4" stroke="#4c5862" stroke-width="0.55"/>
<circle cx="476.20" cy="79.34" r="1.2" fill="#808c96" stroke="#4c5862" stroke-width="0.55"/>
<circle cx="478.00" cy="80.20" r="1.2" fill="#b4c6d4" stroke="#4c5862" stroke-width="0.55"/>
<circle cx="479.80" cy="80.62" r="1.2" fill="#a4b8c8" stroke="#4c5862" stroke-width="0.55"/>
<rect x="475.20" y="80.03" width="2" height="2" fill="#c8d6e0" stroke="#5a6670" stroke-width="0.4"/>
<circle cx="475.40" cy="81.54" r="1.2" fill="#6d7c88" stroke="#4c5862" stroke-width="0.55"/>
<circle cx="478.00" cy="81.68" r="1.2" fill="#dfe6ec" stroke="#4c5862" stroke-width="0.55"/>
<circle cx="478.00" cy="85.10" r="1.2" fill="#808c96" stroke="#4c5862" stroke-width="0.55"/>
<circle cx="479.80" cy="85.44" r="1.2" fill="#587a7a" stroke="#4c5862" stroke-width="0.55"/>
<circle cx="476.20" cy="85.97" r="1.2" fill="#6d7c88" stroke="#4c5862" stroke-width="0.55"/>
<path d="M474.20,87.49L475.40,85.29L476.60,87.49Z" fill="#7a8288" stroke="#505a60" stroke-width="0.3"/>
<circle cx="475.40" cy="86.51" r="1.2" fill="#c8d6e0" stroke="#4c5862" stroke-width="0.55"/>
<circle cx="475.40" cy="86.51" r="1.2" fill="#9fb2c2" stroke="#4c5862" stroke-width="0.55"/>
<path d="M476.80,88.80L478.00,86.60L479.20,88.80Z" fill="#7a8288" stroke="#505a60" stroke-width="0.3"/>
<circle cx="479.80" cy="88.30" r="1.2" fill="#808c96" stroke="#4c5862" stroke-width="0.55"/>
<circle cx="476.20" cy="88.49" r="1.2" fill="#808c96" stroke="#4c5862" stroke-width="0.55"/>
<circle cx="475.40" cy="88.95" r="1.2" fill="#9fb2c2" stroke="#4c5862" stroke-width="0.55"/>
<circle cx="475.40" cy="89.01" r="1.2" fill="#9fb2c2" stroke="#4c5862" stroke-width="0.55"/>
<circle cx="478.00" cy="91.18" r="1.2" fill="#808c96" stroke="#4c5862" stroke-width="0.55"/>
<circle cx="479.80" cy="91.20" r="1.2" fill="#7c94a8" stroke="#4c5862" stroke-width="0.55"/>
<circle cx="476.20" cy="91.33" r="1.2" fill="#4f7f7e" stroke="#4c5862" stroke-width="0.55"/>
<circle cx="478.00" cy="93.33" r="1.2" fill="#c8d6e0" stroke="#4c5862" stroke-width="0.55"/>
<circle cx="478.00" cy="94.85" r="1.2" fill="#b4c6d4" stroke="#4c5862" stroke-width="0.55"/>
<circle cx="479.80" cy="95.09" r="1.2" fill="#7c94a8" stroke="#4c5862" stroke-width="0.55"/>
<circle cx="476.20" cy="95.81" r="1.2" fill="#7c94a8" stroke="#4c5862" stroke-width="0.55"/>
<circle cx="478.00" cy="97.68" r="1.2" fill="#dfe6ec" stroke="#4c5862" stroke-width="0.55"/>
<path d="M476.80,105.79L478.00,103.59L479.20,105.79Z" fill="#7a8288" stroke="#505a60" stroke-width="0.3"/>
<circle cx="479.80" cy="105.30" r="1.2" fill="#808c96" stroke="#4c5862" stroke-width="0.55"/>
<rect x="475.20" y="85.60" width="5.6" height="2" fill="#c4223c"/>
<rect x="484.60" y="49.80" width="2" height="2" fill="#a4b8c8" stroke="#5a6670" stroke-width="0.4"/>
<circle cx="485.60" cy="54.38" r="1.2" fill="#b4c6d4" stroke="#4c5862" stroke-width="0.55"/>
<path d="M486.20,56.44L487.40,54.24L488.60,56.44Z" fill="#7a8288" stroke="#505a60" stroke-width="0.3"/>
<circle cx="485.60" cy="57.80" r="1.2" fill="#a4b8c8" stroke="#4c5862" stroke-width="0.55"/>
<circle cx="487.40" cy="58.14" r="1.2" fill="#808c96" stroke="#4c5862" stroke-width="0.55"/>
<path d="M484.40,63.71L485.60,61.51L486.80,63.71Z" fill="#7a8288" stroke="#505a60" stroke-width="0.3"/>
<circle cx="487.40" cy="63.08" r="1.2" fill="#6d7c88" stroke="#4c5862" stroke-width="0.55"/>
<circle cx="485.60" cy="64.56" r="1.2" fill="#b4c6d4" stroke="#4c5862" stroke-width="0.55"/>
<circle cx="487.40" cy="64.89" r="1.2" fill="#b4c6d4" stroke="#4c5862" stroke-width="0.55"/>
<circle cx="483.80" cy="65.35" r="1.2" fill="#7c94a8" stroke="#4c5862" stroke-width="0.55"/>
<circle cx="485.60" cy="67.43" r="1.2" fill="#b4c6d4" stroke="#4c5862" stroke-width="0.55"/>
<circle cx="485.60" cy="69.34" r="1.2" fill="#dfe6ec" stroke="#4c5862" stroke-width="0.55"/>
<rect x="484.60" y="69.97" width="2" height="2" fill="#7c94a8" stroke="#5a6670" stroke-width="0.4"/>
<circle cx="487.40" cy="71.03" r="1.2" fill="#dfe6ec" stroke="#4c5862" stroke-width="0.55"/>
<circle cx="483.80" cy="71.79" r="1.2" fill="#a4b8c8" stroke="#4c5862" stroke-width="0.55"/>
<circle cx="485.60" cy="76.95" r="1.2" fill="#7c94a8" stroke="#4c5862" stroke-width="0.55"/>
<circle cx="485.60" cy="79.23" r="1.2" fill="#808c96" stroke="#4c5862" stroke-width="0.55"/>
<circle cx="487.40" cy="79.26" r="1.2" fill="#9fb2c2" stroke="#4c5862" stroke-width="0.55"/>
<circle cx="483.80" cy="79.38" r="1.2" fill="#b4c6d4" stroke="#4c5862" stroke-width="0.55"/>
<circle cx="485.60" cy="80.98" r="1.2" fill="#808c96" stroke="#4c5862" stroke-width="0.55"/>
<path d="M486.20,82.31L487.40,80.11L488.60,82.31Z" fill="#7a8288" stroke="#505a60" stroke-width="0.3"/>
<circle cx="484.70" cy="82.40" r="1.2" fill="#808c96" stroke="#4c5862" stroke-width="0.55"/>
<rect x="485.50" y="81.89" width="2" height="2" fill="#7c94a8" stroke="#5a6670" stroke-width="0.4"/>
<rect x="487.20" y="82.26" width="2" height="2" fill="#b4c6d4" stroke="#5a6670" stroke-width="0.4"/>
<circle cx="483.00" cy="83.50" r="1.2" fill="#c8d6e0" stroke="#4c5862" stroke-width="0.55"/>
<circle cx="483.00" cy="83.51" r="1.2" fill="#a4b8c8" stroke="#4c5862" stroke-width="0.55"/>
<circle cx="483.00" cy="83.80" r="1.2" fill="#7c94a8" stroke="#4c5862" stroke-width="0.55"/>
<circle cx="485.60" cy="85.65" r="1.2" fill="#587a7a" stroke="#4c5862" stroke-width="0.55"/>
<rect x="486.40" y="84.92" width="2" height="2" fill="#587a7a" stroke="#5a6670" stroke-width="0.4"/>
<circle cx="485.60" cy="87.65" r="1.2" fill="#808c96" stroke="#4c5862" stroke-width="0.55"/>
<circle cx="487.40" cy="88.40" r="1.2" fill="#4f7f7e" stroke="#4c5862" stroke-width="0.55"/>
<circle cx="483.80" cy="88.77" r="1.2" fill="#6d7c88" stroke="#4c5862" stroke-width="0.55"/>
<circle cx="483.00" cy="88.81" r="1.2" fill="#9fb2c2" stroke="#4c5862" stroke-width="0.55"/>
<circle cx="483.00" cy="88.91" r="1.2" fill="#6d7c88" stroke="#4c5862" stroke-width="0.55"/>
<circle cx="485.60" cy="89.42" r="1.2" fill="#587a7a" stroke="#4c5862" stroke-width="0.55"/>
<circle cx="487.40" cy="90.28" r="1.2" fill="#9fb2c2" stroke="#4c5862" stroke-width="0.55"/>
<circle cx="485.60" cy="91.64" r="1.2" fill="#7c94a8" stroke="#4c5862" stroke-width="0.55"/>
<rect x="485.50" y="92.00" width="2" height="2" fill="#6d7c88" stroke="#5a6670" stroke-width="0.4"/>
<circle cx="485.60" cy="95.36" r="1.2" fill="#b4c6d4" stroke="#4c5862" stroke-width="0.55"/>
<circle cx="485.60" cy="99.50" r="1.2" fill="#a4b8c8" stroke="#4c5862" stroke-width="0.55"/>
<rect x="482.80" y="76.50" width="5.6" height="2" fill="#c4223c"/>
<path d="M399.10,45.20V43.60H408.40V45.20" fill="none" stroke="#000" stroke-width="0.75"/>
<text x="403.80" y="43.70" font-size="5.4" font-weight="bold" text-anchor="middle" >*</text>
<path d="M418.70,45.20V43.60H428.00V45.20" fill="none" stroke="#000" stroke-width="0.75"/>
<text x="423.40" y="43.70" font-size="5.4" font-weight="bold" text-anchor="middle" >*</text>
<path d="M457.90,45.20V43.60H467.20V45.20" fill="none" stroke="#000" stroke-width="0.75"/>
<text x="462.60" y="43.70" font-size="5.4" font-weight="bold" text-anchor="middle" >**</text>
<path d="M477.50,45.20V43.60H486.80V45.20" fill="none" stroke="#000" stroke-width="0.75"/>
<text x="482.20" y="43.70" font-size="5.4" font-weight="bold" text-anchor="middle" >*</text>
<line x1="270.70" y1="177.00" x2="270.70" y2="239.80" stroke="#000" stroke-width="0.9"/>
<line x1="270.70" y1="239.80" x2="365.40" y2="239.80" stroke="#000" stroke-width="0.9"/>
<line x1="269.10" y1="182.00" x2="270.70" y2="182.00" stroke="#000" stroke-width="0.8"/>
<text x="268.60" y="183.90" font-size="5.3" font-weight="bold" text-anchor="end" >10</text>
<line x1="269.10" y1="201.20" x2="270.70" y2="201.20" stroke="#000" stroke-width="0.8"/>
<text x="268.60" y="203.10" font-size="5.3" font-weight="bold" text-anchor="end" >1</text>
<line x1="269.10" y1="220.40" x2="270.70" y2="220.40" stroke="#000" stroke-width="0.8"/>
<text x="268.60" y="222.30" font-size="5.3" font-weight="bold" text-anchor="end" >0.1</text>
<line x1="269.10" y1="239.60" x2="270.70" y2="239.60" stroke="#000" stroke-width="0.8"/>
<text x="268.60" y="241.50" font-size="5.3" font-weight="bold" text-anchor="end" >0.01</text>
<text x="0" y="0" font-size="5.2" font-weight="bold" text-anchor="middle" transform="translate(253.70,206.40) rotate(-90)">Frequency (%)</text>
<line x1="274.20" y1="239.80" x2="274.20" y2="241.10" stroke="#000" stroke-width="0.8"/>
<line x1="282.00" y1="239.80" x2="282.00" y2="241.10" stroke="#000" stroke-width="0.8"/>
<text x="274.20" y="247.60" font-size="4.7" font-weight="bold" text-anchor="middle" >D</text>
<text x="282.00" y="247.60" font-size="4.7" font-weight="bold" text-anchor="middle" >R</text>
<line x1="271.70" y1="249.10" x2="284.50" y2="249.10" stroke="#000" stroke-width="0.7"/>
<text x="278.10" y="255.20" font-size="5.0" font-weight="bold" text-anchor="middle" >5</text>
<circle cx="274.20" cy="208.60" r="1.2" fill="#7c94a8" stroke="#4c5862" stroke-width="0.55"/>
<circle cx="274.20" cy="210.84" r="1.2" fill="#dfe6ec" stroke="#4c5862" stroke-width="0.55"/>
<circle cx="274.20" cy="212.64" r="1.2" fill="#7c94a8" stroke="#4c5862" stroke-width="0.55"/>
<path d="M274.80,214.13L276.00,211.93L277.20,214.13Z" fill="#7a8288" stroke="#505a60" stroke-width="0.3"/>
<path d="M273.00,215.28L274.20,213.08L275.40,215.28Z" fill="#7a8288" stroke="#505a60" stroke-width="0.3"/>
<circle cx="276.00" cy="214.64" r="1.2" fill="#dfe6ec" stroke="#4c5862" stroke-width="0.55"/>
<path d="M273.00,218.70L274.20,216.50L275.40,218.70Z" fill="#7a8288" stroke="#505a60" stroke-width="0.3"/>
<circle cx="274.20" cy="221.02" r="1.2" fill="#808c96" stroke="#4c5862" stroke-width="0.55"/>
<circle cx="274.20" cy="233.50" r="1.2" fill="#dfe6ec" stroke="#4c5862" stroke-width="0.55"/>
<path d="M274.80,234.50L276.00,232.30L277.20,234.50Z" fill="#7a8288" stroke="#505a60" stroke-width="0.3"/>
<rect x="271.40" y="238.00" width="5.6" height="2" fill="#6a1a26"/>
<circle cx="282.00" cy="203.70" r="1.2" fill="#c8d6e0" stroke="#4c5862" stroke-width="0.55"/>
<circle cx="282.00" cy="207.77" r="1.2" fill="#6d7c88" stroke="#4c5862" stroke-width="0.55"/>
<rect x="281.00" y="210.14" width="2" height="2" fill="#a4b8c8" stroke="#5a6670" stroke-width="0.4"/>
<rect x="281.00" y="215.78" width="2" height="2" fill="#b4c6d4" stroke="#5a6670" stroke-width="0.4"/>
<rect x="281.00" y="224.62" width="2" height="2" fill="#6d7c88" stroke="#5a6670" stroke-width="0.4"/>
<path d="M282.60,227.62L283.80,225.42L285.00,227.62Z" fill="#7a8288" stroke="#505a60" stroke-width="0.3"/>
<circle cx="282.00" cy="227.27" r="1.2" fill="#c8d6e0" stroke="#4c5862" stroke-width="0.55"/>
<path d="M280.80,233.21L282.00,231.01L283.20,233.21Z" fill="#7a8288" stroke="#505a60" stroke-width="0.3"/>
<circle cx="282.90" cy="233.50" r="1.2" fill="#7c94a8" stroke="#4c5862" stroke-width="0.55"/>
<rect x="279.20" y="238.00" width="5.6" height="2" fill="#6a1a26"/>
<line x1="294.10" y1="239.80" x2="294.10" y2="241.10" stroke="#000" stroke-width="0.8"/>
<line x1="301.90" y1="239.80" x2="301.90" y2="241.10" stroke="#000" stroke-width="0.8"/>
<text x="294.10" y="247.60" font-size="4.7" font-weight="bold" text-anchor="middle" >D</text>
<text x="301.90" y="247.60" font-size="4.7" font-weight="bold" text-anchor="middle" >R</text>
<line x1="291.60" y1="249.10" x2="304.40" y2="249.10" stroke="#000" stroke-width="0.7"/>
<text x="298.00" y="255.20" font-size="5.0" font-weight="bold" text-anchor="middle" >4</text>
<circle cx="294.10" cy="200.00" r="1.2" fill="#587a7a" stroke="#4c5862" stroke-width="0.55"/>
<circle cx="295.90" cy="200.52" r="1.2" fill="#dfe6ec" stroke="#4c5862" stroke-width="0.55"/>
<circle cx="294.10" cy="202.18" r="1.2" fill="#6d7c88" stroke="#4c5862" stroke-width="0.55"/>
<circle cx="294.10" cy="206.18" r="1.2" fill="#7c94a8" stroke="#4c5862" stroke-width="0.55"/>
<circle cx="295.90" cy="206.64" r="1.2" fill="#dfe6ec" stroke="#4c5862" stroke-width="0.55"/>
<circle cx="293.20" cy="207.57" r="1.2" fill="#dfe6ec" stroke="#4c5862" stroke-width="0.55"/>
<circle cx="295.00" cy="208.19" r="1.2" fill="#dfe6ec" stroke="#4c5862" stroke-width="0.55"/>
<circle cx="292.30" cy="208.77" r="1.2" fill="#b4c6d4" stroke="#4c5862" stroke-width="0.55"/>
<circle cx="296.70" cy="209.00" r="1.2" fill="#587a7a" stroke="#4c5862" stroke-width="0.55"/>
<circle cx="294.10" cy="213.04" r="1.2" fill="#6d7c88" stroke="#4c5862" stroke-width="0.55"/>
<circle cx="295.90" cy="213.92" r="1.2" fill="#dfe6ec" stroke="#4c5862" stroke-width="0.55"/>
<circle cx="294.10" cy="215.83" r="1.2" fill="#4f7f7e" stroke="#4c5862" stroke-width="0.55"/>
<circle cx="294.10" cy="217.91" r="1.2" fill="#a4b8c8" stroke="#4c5862" stroke-width="0.55"/>
<circle cx="295.90" cy="218.44" r="1.2" fill="#b4c6d4" stroke="#4c5862" stroke-width="0.55"/>
<circle cx="292.30" cy="218.85" r="1.2" fill="#b4c6d4" stroke="#4c5862" stroke-width="0.55"/>
<circle cx="294.10" cy="222.17" r="1.2" fill="#587a7a" stroke="#4c5862" stroke-width="0.55"/>
<circle cx="295.90" cy="222.28" r="1.2" fill="#9fb2c2" stroke="#4c5862" stroke-width="0.55"/>
<circle cx="295.00" cy="223.54" r="1.2" fill="#7c94a8" stroke="#4c5862" stroke-width="0.55"/>
<path d="M292.00,225.62L293.20,223.42L294.40,225.62Z" fill="#7a8288" stroke="#505a60" stroke-width="0.3"/>
<circle cx="294.10" cy="228.84" r="1.2" fill="#9fb2c2" stroke="#4c5862" stroke-width="0.55"/>
<circle cx="294.10" cy="232.35" r="1.2" fill="#808c96" stroke="#4c5862" stroke-width="0.55"/>
<circle cx="295.00" cy="233.50" r="1.2" fill="#dfe6ec" stroke="#4c5862" stroke-width="0.55"/>
<circle cx="293.20" cy="233.53" r="1.2" fill="#dfe6ec" stroke="#4c5862" stroke-width="0.55"/>
<rect x="291.30" y="213.30" width="5.6" height="2" fill="#c4223c"/>
<circle cx="301.90" cy="193.00" r="1.2" fill="#9fb2c2" stroke="#4c5862" stroke-width="0.55"/>
<circle cx="301.90" cy="195.19" r="1.2" fill="#9fb2c2" stroke="#4c5862" stroke-width="0.55"/>
<circle cx="303.70" cy="195.69" r="1.2" fill="#c8d6e0" stroke="#4c5862" stroke-width="0.55"/>
<path d="M298.90,197.31L300.10,195.11L301.30,197.31Z" fill="#7a8288" stroke="#505a60" stroke-width="0.3"/>
<circle cx="301.90" cy="198.02" r="1.2" fill="#c8d6e0" stroke="#4c5862" stroke-width="0.55"/>
<circle cx="303.70" cy="198.98" r="1.2" fill="#587a7a" stroke="#4c5862" stroke-width="0.55"/>
<circle cx="301.90" cy="199.59" r="1.2" fill="#808c96" stroke="#4c5862" stroke-width="0.55"/>
<circle cx="300.10" cy="200.25" r="1.2" fill="#7c94a8" stroke="#4c5862" stroke-width="0.55"/>
<path d="M300.70,202.71L301.90,200.51L303.10,202.71Z" fill="#7a8288" stroke="#505a60" stroke-width="0.3"/>
<path d="M300.70,204.87L301.90,202.67L303.10,204.87Z" fill="#7a8288" stroke="#505a60" stroke-width="0.3"/>
<path d="M302.50,205.19L303.70,202.99L304.90,205.19Z" fill="#7a8288" stroke="#505a60" stroke-width="0.3"/>
<circle cx="301.90" cy="205.42" r="1.2" fill="#c8d6e0" stroke="#4c5862" stroke-width="0.55"/>
<circle cx="301.90" cy="207.86" r="1.2" fill="#587a7a" stroke="#4c5862" stroke-width="0.55"/>
<circle cx="301.90" cy="211.92" r="1.2" fill="#7c94a8" stroke="#4c5862" stroke-width="0.55"/>
<circle cx="301.90" cy="214.32" r="1.2" fill="#6d7c88" stroke="#4c5862" stroke-width="0.55"/>
<circle cx="301.90" cy="218.13" r="1.2" fill="#a4b8c8" stroke="#4c5862" stroke-width="0.55"/>
<circle cx="301.90" cy="221.82" r="1.2" fill="#9fb2c2" stroke="#4c5862" stroke-width="0.55"/>
<rect x="300.90" y="223.23" width="2" height="2" fill="#4f7f7e" stroke="#5a6670" stroke-width="0.4"/>
<circle cx="301.90" cy="226.71" r="1.2" fill="#6d7c88" stroke="#4c5862" stroke-width="0.55"/>
<circle cx="302.80" cy="227.92" r="1.2" fill="#7c94a8" stroke="#4c5862" stroke-width="0.55"/>
<circle cx="301.00" cy="227.99" r="1.2" fill="#9fb2c2" stroke="#4c5862" stroke-width="0.55"/>
<circle cx="301.90" cy="230.15" r="1.2" fill="#b4c6d4" stroke="#4c5862" stroke-width="0.55"/>
<circle cx="301.90" cy="233.50" r="1.2" fill="#6d7c88" stroke="#4c5862" stroke-width="0.55"/>
<rect x="299.10" y="207.00" width="5.6" height="2" fill="#c4223c"/>
<line x1="314.00" y1="239.80" x2="314.00" y2="241.10" stroke="#000" stroke-width="0.8"/>
<line x1="321.80" y1="239.80" x2="321.80" y2="241.10" stroke="#000" stroke-width="0.8"/>
<text x="314.00" y="247.60" font-size="4.7" font-weight="bold" text-anchor="middle" >D</text>
<text x="321.80" y="247.60" font-size="4.7" font-weight="bold" text-anchor="middle" >R</text>
<line x1="311.50" y1="249.10" x2="324.30" y2="249.10" stroke="#000" stroke-width="0.7"/>
<text x="317.90" y="255.20" font-size="5.0" font-weight="bold" text-anchor="middle" >3</text>
<circle cx="314.00" cy="201.70" r="1.2" fill="#9fb2c2" stroke="#4c5862" stroke-width="0.55"/>
<circle cx="315.80" cy="201.99" r="1.2" fill="#587a7a" stroke="#4c5862" stroke-width="0.55"/>
<circle cx="314.00" cy="206.04" r="1.2" fill="#dfe6ec" stroke="#4c5862" stroke-width="0.55"/>
<circle cx="315.80" cy="207.11" r="1.2" fill="#c8d6e0" stroke="#4c5862" stroke-width="0.55"/>
<circle cx="314.00" cy="207.77" r="1.2" fill="#b4c6d4" stroke="#4c5862" stroke-width="0.55"/>
<circle cx="315.80" cy="208.86" r="1.2" fill="#c8d6e0" stroke="#4c5862" stroke-width="0.55"/>
<circle cx="312.20" cy="208.89" r="1.2" fill="#4f7f7e" stroke="#4c5862" stroke-width="0.55"/>
<rect x="313.00" y="208.58" width="2" height="2" fill="#b4c6d4" stroke="#5a6670" stroke-width="0.4"/>
<circle cx="311.40" cy="209.66" r="1.2" fill="#587a7a" stroke="#4c5862" stroke-width="0.55"/>
<path d="M312.80,213.05L314.00,210.85L315.20,213.05Z" fill="#7a8288" stroke="#505a60" stroke-width="0.3"/>
<circle cx="314.00" cy="213.58" r="1.2" fill="#dfe6ec" stroke="#4c5862" stroke-width="0.55"/>
<circle cx="315.80" cy="213.84" r="1.2" fill="#6d7c88" stroke="#4c5862" stroke-width="0.55"/>
<circle cx="312.20" cy="213.91" r="1.2" fill="#587a7a" stroke="#4c5862" stroke-width="0.55"/>
<circle cx="311.40" cy="214.01" r="1.2" fill="#b4c6d4" stroke="#4c5862" stroke-width="0.55"/>
<circle cx="314.00" cy="215.09" r="1.2" fill="#4f7f7e" stroke="#4c5862" stroke-width="0.55"/>
<circle cx="314.00" cy="216.72" r="1.2" fill="#dfe6ec" stroke="#4c5862" stroke-width="0.55"/>
<circle cx="314.00" cy="219.23" r="1.2" fill="#6d7c88" stroke="#4c5862" stroke-width="0.55"/>
<path d="M314.60,220.51L315.80,218.31L317.00,220.51Z" fill="#7a8288" stroke="#505a60" stroke-width="0.3"/>
<circle cx="312.20" cy="219.96" r="1.2" fill="#587a7a" stroke="#4c5862" stroke-width="0.55"/>
<circle cx="314.00" cy="226.00" r="1.2" fill="#9fb2c2" stroke="#4c5862" stroke-width="0.55"/>
<rect x="313.00" y="229.41" width="2" height="2" fill="#808c96" stroke="#5a6670" stroke-width="0.4"/>
<circle cx="314.90" cy="231.72" r="1.2" fill="#7c94a8" stroke="#4c5862" stroke-width="0.55"/>
<circle cx="314.00" cy="233.50" r="1.2" fill="#587a7a" stroke="#4c5862" stroke-width="0.55"/>
<rect x="311.20" y="210.80" width="5.6" height="2" fill="#c4223c"/>
<circle cx="321.80" cy="185.70" r="1.2" fill="#c8d6e0" stroke="#4c5862" stroke-width="0.55"/>
<path d="M320.60,192.60L321.80,190.40L323.00,192.60Z" fill="#7a8288" stroke="#505a60" stroke-width="0.3"/>
<circle cx="323.60" cy="191.85" r="1.2" fill="#9fb2c2" stroke="#4c5862" stroke-width="0.55"/>
<circle cx="321.80" cy="194.63" r="1.2" fill="#4f7f7e" stroke="#4c5862" stroke-width="0.55"/>
<circle cx="323.60" cy="195.27" r="1.2" fill="#7c94a8" stroke="#4c5862" stroke-width="0.55"/>
<circle cx="321.80" cy="201.12" r="1.2" fill="#c8d6e0" stroke="#4c5862" stroke-width="0.55"/>
<circle cx="323.60" cy="201.69" r="1.2" fill="#6d7c88" stroke="#4c5862" stroke-width="0.55"/>
<rect x="320.80" y="203.51" width="2" height="2" fill="#4f7f7e" stroke="#5a6670" stroke-width="0.4"/>
<circle cx="323.60" cy="204.64" r="1.2" fill="#4f7f7e" stroke="#4c5862" stroke-width="0.55"/>
<circle cx="320.00" cy="205.08" r="1.2" fill="#b4c6d4" stroke="#4c5862" stroke-width="0.55"/>
<circle cx="319.20" cy="205.26" r="1.2" fill="#c8d6e0" stroke="#4c5862" stroke-width="0.55"/>
<circle cx="321.80" cy="208.90" r="1.2" fill="#4f7f7e" stroke="#4c5862" stroke-width="0.55"/>
<rect x="322.60" y="208.11" width="2" height="2" fill="#a4b8c8" stroke="#5a6670" stroke-width="0.4"/>
<circle cx="320.00" cy="209.48" r="1.2" fill="#c8d6e0" stroke="#4c5862" stroke-width="0.55"/>
<circle cx="321.80" cy="210.52" r="1.2" fill="#dfe6ec" stroke="#4c5862" stroke-width="0.55"/>
<path d="M320.60,216.68L321.80,214.48L323.00,216.68Z" fill="#7a8288" stroke="#505a60" stroke-width="0.3"/>
<rect x="321.70" y="216.03" width="2" height="2" fill="#7c94a8" stroke="#5a6670" stroke-width="0.4"/>
<circle cx="320.90" cy="217.78" r="1.2" fill="#4f7f7e" stroke="#4c5862" stroke-width="0.55"/>
<circle cx="321.80" cy="220.51" r="1.2" fill="#587a7a" stroke="#4c5862" stroke-width="0.55"/>
<circle cx="323.60" cy="220.68" r="1.2" fill="#6d7c88" stroke="#4c5862" stroke-width="0.55"/>
<circle cx="320.90" cy="221.76" r="1.2" fill="#b4c6d4" stroke="#4c5862" stroke-width="0.55"/>
<circle cx="321.80" cy="224.91" r="1.2" fill="#9fb2c2" stroke="#4c5862" stroke-width="0.55"/>
<circle cx="321.80" cy="233.50" r="1.2" fill="#a4b8c8" stroke="#4c5862" stroke-width="0.55"/>
<rect x="319.00" y="206.50" width="5.6" height="2" fill="#c4223c"/>
<line x1="333.90" y1="239.80" x2="333.90" y2="241.10" stroke="#000" stroke-width="0.8"/>
<line x1="341.70" y1="239.80" x2="341.70" y2="241.10" stroke="#000" stroke-width="0.8"/>
<text x="333.90" y="247.60" font-size="4.7" font-weight="bold" text-anchor="middle" >D</text>
<text x="341.70" y="247.60" font-size="4.7" font-weight="bold" text-anchor="middle" >R</text>
<line x1="331.40" y1="249.10" x2="344.20" y2="249.10" stroke="#000" stroke-width="0.7"/>
<text x="337.80" y="255.20" font-size="5.0" font-weight="bold" text-anchor="middle" >2</text>
<circle cx="333.90" cy="199.40" r="1.2" fill="#9fb2c2" stroke="#4c5862" stroke-width="0.55"/>
<path d="M332.70,202.58L333.90,200.38L335.10,202.58Z" fill="#7a8288" stroke="#505a60" stroke-width="0.3"/>
<path d="M334.50,203.28L335.70,201.08L336.90,203.28Z" fill="#7a8288" stroke="#505a60" stroke-width="0.3"/>
<circle cx="332.10" cy="202.63" r="1.2" fill="#9fb2c2" stroke="#4c5862" stroke-width="0.55"/>
<path d="M332.70,206.85L333.90,204.65L335.10,206.85Z" fill="#7a8288" stroke="#505a60" stroke-width="0.3"/>
<circle cx="333.90" cy="211.21" r="1.2" fill="#9fb2c2" stroke="#4c5862" stroke-width="0.55"/>
<circle cx="335.70" cy="211.23" r="1.2" fill="#808c96" stroke="#4c5862" stroke-width="0.55"/>
<circle cx="332.10" cy="211.28" r="1.2" fill="#587a7a" stroke="#4c5862" stroke-width="0.55"/>
<circle cx="331.30" cy="212.31" r="1.2" fill="#4f7f7e" stroke="#4c5862" stroke-width="0.55"/>
<circle cx="333.90" cy="214.24" r="1.2" fill="#587a7a" stroke="#4c5862" stroke-width="0.55"/>
<circle cx="335.70" cy="215.16" r="1.2" fill="#c8d6e0" stroke="#4c5862" stroke-width="0.55"/>
<circle cx="332.10" cy="215.25" r="1.2" fill="#587a7a" stroke="#4c5862" stroke-width="0.55"/>
<path d="M332.70,216.95L333.90,214.75L335.10,216.95Z" fill="#7a8288" stroke="#505a60" stroke-width="0.3"/>
<circle cx="333.90" cy="217.67" r="1.2" fill="#b4c6d4" stroke="#4c5862" stroke-width="0.55"/>
<circle cx="335.70" cy="217.81" r="1.2" fill="#808c96" stroke="#4c5862" stroke-width="0.55"/>
<path d="M330.90,218.85L332.10,216.65L333.30,218.85Z" fill="#7a8288" stroke="#505a60" stroke-width="0.3"/>
<rect x="332.90" y="219.03" width="2" height="2" fill="#c8d6e0" stroke="#5a6670" stroke-width="0.4"/>
<circle cx="335.70" cy="220.10" r="1.2" fill="#6d7c88" stroke="#4c5862" stroke-width="0.55"/>
<circle cx="332.10" cy="220.40" r="1.2" fill="#dfe6ec" stroke="#4c5862" stroke-width="0.55"/>
<path d="M332.70,223.48L333.90,221.28L335.10,223.48Z" fill="#7a8288" stroke="#505a60" stroke-width="0.3"/>
<circle cx="333.90" cy="224.23" r="1.2" fill="#808c96" stroke="#4c5862" stroke-width="0.55"/>
<circle cx="333.90" cy="225.87" r="1.2" fill="#a4b8c8" stroke="#4c5862" stroke-width="0.55"/>
<circle cx="333.90" cy="233.50" r="1.2" fill="#4f7f7e" stroke="#4c5862" stroke-width="0.55"/>
<circle cx="335.70" cy="233.50" r="1.2" fill="#808c96" stroke="#4c5862" stroke-width="0.55"/>
<rect x="331.10" y="215.60" width="5.6" height="2" fill="#c4223c"/>
<rect x="340.70" y="183.50" width="2" height="2" fill="#9fb2c2" stroke="#5a6670" stroke-width="0.4"/>
<circle cx="343.50" cy="185.26" r="1.2" fill="#6d7c88" stroke="#4c5862" stroke-width="0.55"/>
<circle cx="341.70" cy="186.36" r="1.2" fill="#9fb2c2" stroke="#4c5862" stroke-width="0.55"/>
<rect x="338.90" y="185.68" width="2" height="2" fill="#808c96" stroke="#5a6670" stroke-width="0.4"/>
<circle cx="343.50" cy="186.98" r="1.2" fill="#dfe6ec" stroke="#4c5862" stroke-width="0.55"/>
<circle cx="339.10" cy="187.59" r="1.2" fill="#587a7a" stroke="#4c5862" stroke-width="0.55"/>
<circle cx="339.10" cy="187.80" r="1.2" fill="#808c96" stroke="#4c5862" stroke-width="0.55"/>
<path d="M340.50,190.06L341.70,187.86L342.90,190.06Z" fill="#7a8288" stroke="#505a60" stroke-width="0.3"/>
<circle cx="341.70" cy="191.80" r="1.2" fill="#6d7c88" stroke="#4c5862" stroke-width="0.55"/>
<circle cx="342.60" cy="193.11" r="1.2" fill="#4f7f7e" stroke="#4c5862" stroke-width="0.55"/>
<circle cx="341.70" cy="194.54" r="1.2" fill="#808c96" stroke="#4c5862" stroke-width="0.55"/>
<circle cx="343.50" cy="195.65" r="1.2" fill="#4f7f7e" stroke="#4c5862" stroke-width="0.55"/>
<circle cx="341.70" cy="201.70" r="1.2" fill="#808c96" stroke="#4c5862" stroke-width="0.55"/>
<circle cx="341.70" cy="204.54" r="1.2" fill="#b4c6d4" stroke="#4c5862" stroke-width="0.55"/>
<circle cx="341.70" cy="207.33" r="1.2" fill="#dfe6ec" stroke="#4c5862" stroke-width="0.55"/>
<circle cx="343.50" cy="208.10" r="1.2" fill="#7c94a8" stroke="#4c5862" stroke-width="0.55"/>
<circle cx="341.70" cy="209.92" r="1.2" fill="#dfe6ec" stroke="#4c5862" stroke-width="0.55"/>
<circle cx="341.70" cy="213.44" r="1.2" fill="#4f7f7e" stroke="#4c5862" stroke-width="0.55"/>
<circle cx="341.70" cy="218.32" r="1.2" fill="#7c94a8" stroke="#4c5862" stroke-width="0.55"/>
<circle cx="341.70" cy="220.69" r="1.2" fill="#dfe6ec" stroke="#4c5862" stroke-width="0.55"/>
<circle cx="343.50" cy="221.19" r="1.2" fill="#b4c6d4" stroke="#4c5862" stroke-width="0.55"/>
<path d="M340.50,225.10L341.70,222.90L342.90,225.10Z" fill="#7a8288" stroke="#505a60" stroke-width="0.3"/>
<circle cx="341.70" cy="233.50" r="1.2" fill="#a4b8c8" stroke="#4c5862" stroke-width="0.55"/>
<rect x="338.90" y="202.70" width="5.6" height="2" fill="#c4223c"/>
<line x1="353.80" y1="239.80" x2="353.80" y2="241.10" stroke="#000" stroke-width="0.8"/>
<line x1="361.60" y1="239.80" x2="361.60" y2="241.10" stroke="#000" stroke-width="0.8"/>
<text x="353.80" y="247.60" font-size="4.7" font-weight="bold" text-anchor="middle" >D</text>
<text x="361.60" y="247.60" font-size="4.7" font-weight="bold" text-anchor="middle" >R</text>
<line x1="351.30" y1="249.10" x2="364.10" y2="249.10" stroke="#000" stroke-width="0.7"/>
<text x="357.70" y="255.20" font-size="5.0" font-weight="bold" text-anchor="middle" >1</text>
<rect x="352.80" y="199.90" width="2" height="2" fill="#dfe6ec" stroke="#5a6670" stroke-width="0.4"/>
<circle cx="353.80" cy="202.49" r="1.2" fill="#6d7c88" stroke="#4c5862" stroke-width="0.55"/>
<circle cx="355.60" cy="203.23" r="1.2" fill="#a4b8c8" stroke="#4c5862" stroke-width="0.55"/>
<circle cx="353.80" cy="204.31" r="1.2" fill="#7c94a8" stroke="#4c5862" stroke-width="0.55"/>
<circle cx="353.80" cy="205.87" r="1.2" fill="#6d7c88" stroke="#4c5862" stroke-width="0.55"/>
<circle cx="353.80" cy="211.05" r="1.2" fill="#dfe6ec" stroke="#4c5862" stroke-width="0.55"/>
<circle cx="355.60" cy="212.08" r="1.2" fill="#b4c6d4" stroke="#4c5862" stroke-width="0.55"/>
<circle cx="353.80" cy="213.72" r="1.2" fill="#9fb2c2" stroke="#4c5862" stroke-width="0.55"/>
<path d="M354.40,214.76L355.60,212.56L356.80,214.76Z" fill="#7a8288" stroke="#505a60" stroke-width="0.3"/>
<circle cx="352.00" cy="214.30" r="1.2" fill="#a4b8c8" stroke="#4c5862" stroke-width="0.55"/>
<circle cx="351.20" cy="214.46" r="1.2" fill="#9fb2c2" stroke="#4c5862" stroke-width="0.55"/>
<circle cx="351.20" cy="214.88" r="1.2" fill="#587a7a" stroke="#4c5862" stroke-width="0.55"/>
<circle cx="353.80" cy="215.90" r="1.2" fill="#808c96" stroke="#4c5862" stroke-width="0.55"/>
<circle cx="355.60" cy="216.21" r="1.2" fill="#b4c6d4" stroke="#4c5862" stroke-width="0.55"/>
<rect x="351.00" y="216.00" width="2" height="2" fill="#9fb2c2" stroke="#5a6670" stroke-width="0.4"/>
<rect x="352.80" y="216.36" width="2" height="2" fill="#6d7c88" stroke="#5a6670" stroke-width="0.4"/>
<circle cx="353.80" cy="221.51" r="1.2" fill="#808c96" stroke="#4c5862" stroke-width="0.55"/>
<path d="M354.40,223.34L355.60,221.14L356.80,223.34Z" fill="#7a8288" stroke="#505a60" stroke-width="0.3"/>
<rect x="352.80" y="222.15" width="2" height="2" fill="#dfe6ec" stroke="#5a6670" stroke-width="0.4"/>
<circle cx="353.80" cy="225.07" r="1.2" fill="#808c96" stroke="#4c5862" stroke-width="0.55"/>
<circle cx="353.80" cy="229.09" r="1.2" fill="#6d7c88" stroke="#4c5862" stroke-width="0.55"/>
<circle cx="355.60" cy="229.92" r="1.2" fill="#4f7f7e" stroke="#4c5862" stroke-width="0.55"/>
<path d="M352.60,234.50L353.80,232.30L355.00,234.50Z" fill="#7a8288" stroke="#505a60" stroke-width="0.3"/>
<circle cx="355.60" cy="233.50" r="1.2" fill="#587a7a" stroke="#4c5862" stroke-width="0.55"/>
<rect x="351.00" y="211.30" width="5.6" height="2" fill="#c4223c"/>
<circle cx="361.60" cy="179.30" r="1.2" fill="#9fb2c2" stroke="#4c5862" stroke-width="0.55"/>
<circle cx="361.60" cy="183.41" r="1.2" fill="#dfe6ec" stroke="#4c5862" stroke-width="0.55"/>
<circle cx="363.40" cy="184.36" r="1.2" fill="#6d7c88" stroke="#4c5862" stroke-width="0.55"/>
<circle cx="361.60" cy="186.42" r="1.2" fill="#dfe6ec" stroke="#4c5862" stroke-width="0.55"/>
<circle cx="361.60" cy="190.87" r="1.2" fill="#6d7c88" stroke="#4c5862" stroke-width="0.55"/>
<circle cx="361.60" cy="192.43" r="1.2" fill="#a4b8c8" stroke="#4c5862" stroke-width="0.55"/>
<path d="M361.30,194.78L362.50,192.58L363.70,194.78Z" fill="#7a8288" stroke="#505a60" stroke-width="0.3"/>
<circle cx="360.70" cy="194.19" r="1.2" fill="#808c96" stroke="#4c5862" stroke-width="0.55"/>
<circle cx="363.40" cy="195.17" r="1.2" fill="#808c96" stroke="#4c5862" stroke-width="0.55"/>
<circle cx="361.60" cy="196.80" r="1.2" fill="#6d7c88" stroke="#4c5862" stroke-width="0.55"/>
<circle cx="363.40" cy="196.89" r="1.2" fill="#a4b8c8" stroke="#4c5862" stroke-width="0.55"/>
<circle cx="362.50" cy="198.19" r="1.2" fill="#a4b8c8" stroke="#4c5862" stroke-width="0.55"/>
<circle cx="361.60" cy="200.40" r="1.2" fill="#dfe6ec" stroke="#4c5862" stroke-width="0.55"/>
<circle cx="361.60" cy="203.98" r="1.2" fill="#a4b8c8" stroke="#4c5862" stroke-width="0.55"/>
<circle cx="363.40" cy="204.87" r="1.2" fill="#c8d6e0" stroke="#4c5862" stroke-width="0.55"/>
<circle cx="361.60" cy="205.87" r="1.2" fill="#a4b8c8" stroke="#4c5862" stroke-width="0.55"/>
<circle cx="361.60" cy="208.89" r="1.2" fill="#dfe6ec" stroke="#4c5862" stroke-width="0.55"/>
<circle cx="363.40" cy="209.65" r="1.2" fill="#7c94a8" stroke="#4c5862" stroke-width="0.55"/>
<circle cx="361.60" cy="210.82" r="1.2" fill="#9fb2c2" stroke="#4c5862" stroke-width="0.55"/>
<circle cx="361.60" cy="213.74" r="1.2" fill="#7c94a8" stroke="#4c5862" stroke-width="0.55"/>
<circle cx="361.60" cy="218.02" r="1.2" fill="#c8d6e0" stroke="#4c5862" stroke-width="0.55"/>
<circle cx="362.50" cy="219.42" r="1.2" fill="#587a7a" stroke="#4c5862" stroke-width="0.55"/>
<rect x="360.60" y="232.50" width="2" height="2" fill="#6d7c88" stroke="#5a6670" stroke-width="0.4"/>
<circle cx="363.40" cy="233.50" r="1.2" fill="#7c94a8" stroke="#4c5862" stroke-width="0.55"/>
<rect x="358.80" y="201.30" width="5.6" height="2" fill="#c4223c"/>
<path d="M333.40,175.30V173.70H342.90V175.30" fill="none" stroke="#000" stroke-width="0.75"/>
<text x="338.20" y="173.80" font-size="5.4" font-weight="bold" text-anchor="middle" >*</text>
<path d="M353.30,175.30V173.70H362.80V175.30" fill="none" stroke="#000" stroke-width="0.75"/>
<text x="358.10" y="173.80" font-size="5.4" font-weight="bold" text-anchor="middle" >**</text>
<line x1="396.50" y1="178.00" x2="396.50" y2="240.00" stroke="#000" stroke-width="0.9"/>
<line x1="396.50" y1="240.00" x2="491.20" y2="240.00" stroke="#000" stroke-width="0.9"/>
<line x1="394.90" y1="183.00" x2="396.50" y2="183.00" stroke="#000" stroke-width="0.8"/>
<text x="394.40" y="184.90" font-size="5.3" font-weight="bold" text-anchor="end" >10</text>
<line x1="394.90" y1="202.30" x2="396.50" y2="202.30" stroke="#000" stroke-width="0.8"/>
<text x="394.40" y="204.20" font-size="5.3" font-weight="bold" text-anchor="end" >1</text>
<line x1="394.90" y1="221.60" x2="396.50" y2="221.60" stroke="#000" stroke-width="0.8"/>
<text x="394.40" y="223.50" font-size="5.3" font-weight="bold" text-anchor="end" >0.1</text>
<line x1="394.90" y1="240.90" x2="396.50" y2="240.90" stroke="#000" stroke-width="0.8"/>
<text x="394.40" y="242.80" font-size="5.3" font-weight="bold" text-anchor="end" >0.01</text>
<line x1="399.60" y1="240.00" x2="399.60" y2="241.30" stroke="#000" stroke-width="0.8"/>
<line x1="407.30" y1="240.00" x2="407.30" y2="241.30" stroke="#000" stroke-width="0.8"/>
<text x="399.60" y="247.60" font-size="4.7" font-weight="bold" text-anchor="middle" >D</text>
<text x="407.30" y="247.60" font-size="4.7" font-weight="bold" text-anchor="middle" >R</text>
<line x1="397.10" y1="249.10" x2="409.80" y2="249.10" stroke="#000" stroke-width="0.7"/>
<text x="403.45" y="255.20" font-size="5.0" font-weight="bold" text-anchor="middle" >5</text>
<path d="M398.40,207.60L399.60,205.40L400.80,207.60Z" fill="#7a8288" stroke="#505a60" stroke-width="0.3"/>
<circle cx="401.40" cy="207.47" r="1.2" fill="#4f7f7e" stroke="#4c5862" stroke-width="0.55"/>
<circle cx="399.60" cy="208.72" r="1.2" fill="#7c94a8" stroke="#4c5862" stroke-width="0.55"/>
<circle cx="399.60" cy="216.85" r="1.2" fill="#587a7a" stroke="#4c5862" stroke-width="0.55"/>
<circle cx="399.60" cy="222.48" r="1.2" fill="#4f7f7e" stroke="#4c5862" stroke-width="0.55"/>
<circle cx="401.40" cy="222.87" r="1.2" fill="#4f7f7e" stroke="#4c5862" stroke-width="0.55"/>
<circle cx="399.60" cy="228.61" r="1.2" fill="#808c96" stroke="#4c5862" stroke-width="0.55"/>
<circle cx="401.40" cy="229.55" r="1.2" fill="#b4c6d4" stroke="#4c5862" stroke-width="0.55"/>
<path d="M398.40,231.15L399.60,228.95L400.80,231.15Z" fill="#7a8288" stroke="#505a60" stroke-width="0.3"/>
<circle cx="397.80" cy="230.91" r="1.2" fill="#587a7a" stroke="#4c5862" stroke-width="0.55"/>
<path d="M398.40,233.52L399.60,231.32L400.80,233.52Z" fill="#7a8288" stroke="#505a60" stroke-width="0.3"/>
<circle cx="401.40" cy="233.28" r="1.2" fill="#6d7c88" stroke="#4c5862" stroke-width="0.55"/>
<path d="M396.60,234.50L397.80,232.30L399.00,234.50Z" fill="#7a8288" stroke="#505a60" stroke-width="0.3"/>
<circle cx="397.00" cy="233.50" r="1.2" fill="#dfe6ec" stroke="#4c5862" stroke-width="0.55"/>
<rect x="396.80" y="238.00" width="5.6" height="2" fill="#6a1a26"/>
<circle cx="407.30" cy="205.00" r="1.2" fill="#c8d6e0" stroke="#4c5862" stroke-width="0.55"/>
<circle cx="407.30" cy="213.71" r="1.2" fill="#dfe6ec" stroke="#4c5862" stroke-width="0.55"/>
<circle cx="407.30" cy="217.96" r="1.2" fill="#9fb2c2" stroke="#4c5862" stroke-width="0.55"/>
<path d="M406.10,220.71L407.30,218.51L408.50,220.71Z" fill="#7a8288" stroke="#505a60" stroke-width="0.3"/>
<circle cx="407.30" cy="222.96" r="1.2" fill="#c8d6e0" stroke="#4c5862" stroke-width="0.55"/>
<circle cx="407.30" cy="225.51" r="1.2" fill="#9fb2c2" stroke="#4c5862" stroke-width="0.55"/>
<circle cx="409.10" cy="226.31" r="1.2" fill="#a4b8c8" stroke="#4c5862" stroke-width="0.55"/>
<circle cx="407.30" cy="229.80" r="1.2" fill="#7c94a8" stroke="#4c5862" stroke-width="0.55"/>
<circle cx="409.10" cy="229.85" r="1.2" fill="#c8d6e0" stroke="#4c5862" stroke-width="0.55"/>
<circle cx="408.20" cy="231.22" r="1.2" fill="#587a7a" stroke="#4c5862" stroke-width="0.55"/>
<circle cx="407.30" cy="232.40" r="1.2" fill="#587a7a" stroke="#4c5862" stroke-width="0.55"/>
<circle cx="409.10" cy="233.38" r="1.2" fill="#7c94a8" stroke="#4c5862" stroke-width="0.55"/>
<rect x="404.50" y="238.00" width="5.6" height="2" fill="#6a1a26"/>
<line x1="419.40" y1="240.00" x2="419.40" y2="241.30" stroke="#000" stroke-width="0.8"/>
<line x1="427.10" y1="240.00" x2="427.10" y2="241.30" stroke="#000" stroke-width="0.8"/>
<text x="419.40" y="247.60" font-size="4.7" font-weight="bold" text-anchor="middle" >D</text>
<text x="427.10" y="247.60" font-size="4.7" font-weight="bold" text-anchor="middle" >R</text>
<line x1="416.90" y1="249.10" x2="429.60" y2="249.10" stroke="#000" stroke-width="0.7"/>
<text x="423.25" y="255.20" font-size="5.0" font-weight="bold" text-anchor="middle" >4</text>
<rect x="418.40" y="188.40" width="2" height="2" fill="#b4c6d4" stroke="#5a6670" stroke-width="0.4"/>
<circle cx="419.40" cy="192.19" r="1.2" fill="#b4c6d4" stroke="#4c5862" stroke-width="0.55"/>
<circle cx="419.40" cy="194.44" r="1.2" fill="#a4b8c8" stroke="#4c5862" stroke-width="0.55"/>
<rect x="420.20" y="194.01" width="2" height="2" fill="#a4b8c8" stroke="#5a6670" stroke-width="0.4"/>
<rect x="418.40" y="196.13" width="2" height="2" fill="#587a7a" stroke="#5a6670" stroke-width="0.4"/>
<circle cx="421.20" cy="197.74" r="1.2" fill="#587a7a" stroke="#4c5862" stroke-width="0.55"/>
<circle cx="417.60" cy="197.82" r="1.2" fill="#587a7a" stroke="#4c5862" stroke-width="0.55"/>
<circle cx="416.80" cy="198.49" r="1.2" fill="#dfe6ec" stroke="#4c5862" stroke-width="0.55"/>
<path d="M415.60,199.53L416.80,197.33L418.00,199.53Z" fill="#7a8288" stroke="#505a60" stroke-width="0.3"/>
<circle cx="419.40" cy="199.56" r="1.2" fill="#b4c6d4" stroke="#4c5862" stroke-width="0.55"/>
<circle cx="421.20" cy="199.69" r="1.2" fill="#a4b8c8" stroke="#4c5862" stroke-width="0.55"/>
<circle cx="419.40" cy="202.64" r="1.2" fill="#808c96" stroke="#4c5862" stroke-width="0.55"/>
<path d="M418.20,205.47L419.40,203.27L420.60,205.47Z" fill="#7a8288" stroke="#505a60" stroke-width="0.3"/>
<circle cx="421.20" cy="205.03" r="1.2" fill="#b4c6d4" stroke="#4c5862" stroke-width="0.55"/>
<circle cx="419.40" cy="206.89" r="1.2" fill="#808c96" stroke="#4c5862" stroke-width="0.55"/>
<circle cx="419.40" cy="209.06" r="1.2" fill="#dfe6ec" stroke="#4c5862" stroke-width="0.55"/>
<circle cx="421.20" cy="209.65" r="1.2" fill="#587a7a" stroke="#4c5862" stroke-width="0.55"/>
<rect x="418.40" y="210.23" width="2" height="2" fill="#b4c6d4" stroke="#5a6670" stroke-width="0.4"/>
<circle cx="421.20" cy="211.78" r="1.2" fill="#587a7a" stroke="#4c5862" stroke-width="0.55"/>
<circle cx="419.40" cy="213.67" r="1.2" fill="#9fb2c2" stroke="#4c5862" stroke-width="0.55"/>
<circle cx="419.40" cy="215.23" r="1.2" fill="#4f7f7e" stroke="#4c5862" stroke-width="0.55"/>
<circle cx="421.20" cy="215.84" r="1.2" fill="#a4b8c8" stroke="#4c5862" stroke-width="0.55"/>
<circle cx="418.50" cy="216.65" r="1.2" fill="#a4b8c8" stroke="#4c5862" stroke-width="0.55"/>
<circle cx="419.40" cy="220.13" r="1.2" fill="#7c94a8" stroke="#4c5862" stroke-width="0.55"/>
<circle cx="421.20" cy="220.34" r="1.2" fill="#a4b8c8" stroke="#4c5862" stroke-width="0.55"/>
<path d="M416.40,221.68L417.60,219.48L418.80,221.68Z" fill="#7a8288" stroke="#505a60" stroke-width="0.3"/>
<circle cx="416.80" cy="220.79" r="1.2" fill="#6d7c88" stroke="#4c5862" stroke-width="0.55"/>
<rect x="415.80" y="219.93" width="2" height="2" fill="#6d7c88" stroke="#5a6670" stroke-width="0.4"/>
<circle cx="419.40" cy="221.65" r="1.2" fill="#808c96" stroke="#4c5862" stroke-width="0.55"/>
<circle cx="421.20" cy="222.33" r="1.2" fill="#7c94a8" stroke="#4c5862" stroke-width="0.55"/>
<path d="M418.20,226.06L419.40,223.86L420.60,226.06Z" fill="#7a8288" stroke="#505a60" stroke-width="0.3"/>
<path d="M420.00,226.88L421.20,224.68L422.40,226.88Z" fill="#7a8288" stroke="#505a60" stroke-width="0.3"/>
<circle cx="419.40" cy="226.76" r="1.2" fill="#808c96" stroke="#4c5862" stroke-width="0.55"/>
<circle cx="419.40" cy="229.10" r="1.2" fill="#dfe6ec" stroke="#4c5862" stroke-width="0.55"/>
<circle cx="421.20" cy="229.88" r="1.2" fill="#dfe6ec" stroke="#4c5862" stroke-width="0.55"/>
<circle cx="417.60" cy="230.22" r="1.2" fill="#808c96" stroke="#4c5862" stroke-width="0.55"/>
<circle cx="419.40" cy="230.71" r="1.2" fill="#a4b8c8" stroke="#4c5862" stroke-width="0.55"/>
<circle cx="419.40" cy="232.94" r="1.2" fill="#b4c6d4" stroke="#4c5862" stroke-width="0.55"/>
<circle cx="421.20" cy="233.50" r="1.2" fill="#b4c6d4" stroke="#4c5862" stroke-width="0.55"/>
<rect x="416.60" y="211.30" width="5.6" height="2" fill="#c4223c"/>
<circle cx="427.10" cy="183.60" r="1.2" fill="#a4b8c8" stroke="#4c5862" stroke-width="0.55"/>
<circle cx="428.90" cy="183.69" r="1.2" fill="#a4b8c8" stroke="#4c5862" stroke-width="0.55"/>
<circle cx="425.30" cy="184.26" r="1.2" fill="#c8d6e0" stroke="#4c5862" stroke-width="0.55"/>
<circle cx="428.00" cy="185.02" r="1.2" fill="#9fb2c2" stroke="#4c5862" stroke-width="0.55"/>
<circle cx="427.10" cy="190.73" r="1.2" fill="#587a7a" stroke="#4c5862" stroke-width="0.55"/>
<circle cx="428.90" cy="191.68" r="1.2" fill="#6d7c88" stroke="#4c5862" stroke-width="0.55"/>
<rect x="425.20" y="190.95" width="2" height="2" fill="#9fb2c2" stroke="#5a6670" stroke-width="0.4"/>
<circle cx="424.50" cy="192.22" r="1.2" fill="#a4b8c8" stroke="#4c5862" stroke-width="0.55"/>
<circle cx="427.10" cy="194.55" r="1.2" fill="#dfe6ec" stroke="#4c5862" stroke-width="0.55"/>
<circle cx="428.90" cy="195.14" r="1.2" fill="#c8d6e0" stroke="#4c5862" stroke-width="0.55"/>
<circle cx="425.30" cy="195.59" r="1.2" fill="#a4b8c8" stroke="#4c5862" stroke-width="0.55"/>
<circle cx="427.10" cy="197.35" r="1.2" fill="#9fb2c2" stroke="#4c5862" stroke-width="0.55"/>
<path d="M427.70,198.87L428.90,196.67L430.10,198.87Z" fill="#7a8288" stroke="#505a60" stroke-width="0.3"/>
<path d="M424.10,198.97L425.30,196.77L426.50,198.97Z" fill="#7a8288" stroke="#505a60" stroke-width="0.3"/>
<circle cx="424.50" cy="198.33" r="1.2" fill="#4f7f7e" stroke="#4c5862" stroke-width="0.55"/>
<circle cx="427.10" cy="198.82" r="1.2" fill="#7c94a8" stroke="#4c5862" stroke-width="0.55"/>
<circle cx="428.90" cy="199.44" r="1.2" fill="#b4c6d4" stroke="#4c5862" stroke-width="0.55"/>
<circle cx="426.20" cy="199.96" r="1.2" fill="#a4b8c8" stroke="#4c5862" stroke-width="0.55"/>
<circle cx="427.10" cy="201.10" r="1.2" fill="#c8d6e0" stroke="#4c5862" stroke-width="0.55"/>
<circle cx="427.10" cy="203.88" r="1.2" fill="#808c96" stroke="#4c5862" stroke-width="0.55"/>
<rect x="427.90" y="203.84" width="2" height="2" fill="#6d7c88" stroke="#5a6670" stroke-width="0.4"/>
<circle cx="425.30" cy="204.94" r="1.2" fill="#c8d6e0" stroke="#4c5862" stroke-width="0.55"/>
<circle cx="424.50" cy="205.26" r="1.2" fill="#b4c6d4" stroke="#4c5862" stroke-width="0.55"/>
<circle cx="427.10" cy="207.05" r="1.2" fill="#a4b8c8" stroke="#4c5862" stroke-width="0.55"/>
<path d="M427.70,208.36L428.90,206.16L430.10,208.36Z" fill="#7a8288" stroke="#505a60" stroke-width="0.3"/>
<path d="M425.90,211.86L427.10,209.66L428.30,211.86Z" fill="#7a8288" stroke="#505a60" stroke-width="0.3"/>
<circle cx="428.90" cy="211.20" r="1.2" fill="#c8d6e0" stroke="#4c5862" stroke-width="0.55"/>
<circle cx="427.10" cy="215.30" r="1.2" fill="#7c94a8" stroke="#4c5862" stroke-width="0.55"/>
<rect x="427.90" y="214.37" width="2" height="2" fill="#c8d6e0" stroke="#5a6670" stroke-width="0.4"/>
<circle cx="425.30" cy="215.79" r="1.2" fill="#6d7c88" stroke="#4c5862" stroke-width="0.55"/>
<circle cx="424.50" cy="216.35" r="1.2" fill="#c8d6e0" stroke="#4c5862" stroke-width="0.55"/>
<circle cx="428.00" cy="216.53" r="1.2" fill="#a4b8c8" stroke="#4c5862" stroke-width="0.55"/>
<circle cx="429.70" cy="216.80" r="1.2" fill="#c8d6e0" stroke="#4c5862" stroke-width="0.55"/>
<circle cx="426.20" cy="216.96" r="1.2" fill="#dfe6ec" stroke="#4c5862" stroke-width="0.55"/>
<circle cx="427.10" cy="221.42" r="1.2" fill="#b4c6d4" stroke="#4c5862" stroke-width="0.55"/>
<circle cx="427.10" cy="225.37" r="1.2" fill="#4f7f7e" stroke="#4c5862" stroke-width="0.55"/>
<circle cx="427.10" cy="228.06" r="1.2" fill="#dfe6ec" stroke="#4c5862" stroke-width="0.55"/>
<circle cx="427.10" cy="230.36" r="1.2" fill="#4f7f7e" stroke="#4c5862" stroke-width="0.55"/>
<circle cx="427.10" cy="233.50" r="1.2" fill="#9fb2c2" stroke="#4c5862" stroke-width="0.55"/>
<path d="M427.70,234.50L428.90,232.30L430.10,234.50Z" fill="#7a8288" stroke="#505a60" stroke-width="0.3"/>
<rect x="424.30" y="201.30" width="5.6" height="2" fill="#c4223c"/>
<line x1="439.20" y1="240.00" x2="439.20" y2="241.30" stroke="#000" stroke-width="0.8"/>
<line x1="446.90" y1="240.00" x2="446.90" y2="241.30" stroke="#000" stroke-width="0.8"/>
<text x="439.20" y="247.60" font-size="4.7" font-weight="bold" text-anchor="middle" >D</text>
<text x="446.90" y="247.60" font-size="4.7" font-weight="bold" text-anchor="middle" >R</text>
<line x1="436.70" y1="249.10" x2="449.40" y2="249.10" stroke="#000" stroke-width="0.7"/>
<text x="443.05" y="255.20" font-size="5.0" font-weight="bold" text-anchor="middle" >3</text>
<circle cx="439.20" cy="188.00" r="1.2" fill="#4f7f7e" stroke="#4c5862" stroke-width="0.55"/>
<circle cx="439.20" cy="191.41" r="1.2" fill="#7c94a8" stroke="#4c5862" stroke-width="0.55"/>
<circle cx="441.00" cy="192.29" r="1.2" fill="#a4b8c8" stroke="#4c5862" stroke-width="0.55"/>
<path d="M438.00,194.04L439.20,191.84L440.40,194.04Z" fill="#7a8288" stroke="#505a60" stroke-width="0.3"/>
<circle cx="439.20" cy="204.92" r="1.2" fill="#9fb2c2" stroke="#4c5862" stroke-width="0.55"/>
<circle cx="441.00" cy="205.39" r="1.2" fill="#9fb2c2" stroke="#4c5862" stroke-width="0.55"/>
<circle cx="438.30" cy="206.32" r="1.2" fill="#9fb2c2" stroke="#4c5862" stroke-width="0.55"/>
<circle cx="439.20" cy="207.97" r="1.2" fill="#4f7f7e" stroke="#4c5862" stroke-width="0.55"/>
<rect x="440.00" y="207.95" width="2" height="2" fill="#4f7f7e" stroke="#5a6670" stroke-width="0.4"/>
<circle cx="439.20" cy="210.99" r="1.2" fill="#9fb2c2" stroke="#4c5862" stroke-width="0.55"/>
<circle cx="441.00" cy="211.76" r="1.2" fill="#9fb2c2" stroke="#4c5862" stroke-width="0.55"/>
<path d="M436.20,213.04L437.40,210.84L438.60,213.04Z" fill="#7a8288" stroke="#505a60" stroke-width="0.3"/>
<circle cx="439.20" cy="212.71" r="1.2" fill="#c8d6e0" stroke="#4c5862" stroke-width="0.55"/>
<circle cx="436.60" cy="212.81" r="1.2" fill="#b4c6d4" stroke="#4c5862" stroke-width="0.55"/>
<circle cx="441.80" cy="212.98" r="1.2" fill="#c8d6e0" stroke="#4c5862" stroke-width="0.55"/>
<rect x="435.60" y="212.32" width="2" height="2" fill="#b4c6d4" stroke="#5a6670" stroke-width="0.4"/>
<circle cx="439.20" cy="214.30" r="1.2" fill="#6d7c88" stroke="#4c5862" stroke-width="0.55"/>
<circle cx="439.20" cy="216.84" r="1.2" fill="#9fb2c2" stroke="#4c5862" stroke-width="0.55"/>
<rect x="440.00" y="216.24" width="2" height="2" fill="#dfe6ec" stroke="#5a6670" stroke-width="0.4"/>
<circle cx="437.40" cy="217.52" r="1.2" fill="#4f7f7e" stroke="#4c5862" stroke-width="0.55"/>
<circle cx="439.20" cy="218.57" r="1.2" fill="#6d7c88" stroke="#4c5862" stroke-width="0.55"/>
<circle cx="441.00" cy="218.81" r="1.2" fill="#c8d6e0" stroke="#4c5862" stroke-width="0.55"/>
<rect x="437.30" y="218.91" width="2" height="2" fill="#587a7a" stroke="#5a6670" stroke-width="0.4"/>
<circle cx="440.10" cy="220.58" r="1.2" fill="#7c94a8" stroke="#4c5862" stroke-width="0.55"/>
<rect x="440.80" y="219.59" width="2" height="2" fill="#b4c6d4" stroke="#5a6670" stroke-width="0.4"/>
<rect x="435.60" y="219.69" width="2" height="2" fill="#dfe6ec" stroke="#5a6670" stroke-width="0.4"/>
<circle cx="436.60" cy="220.81" r="1.2" fill="#808c96" stroke="#4c5862" stroke-width="0.55"/>
<circle cx="439.20" cy="222.16" r="1.2" fill="#dfe6ec" stroke="#4c5862" stroke-width="0.55"/>
<circle cx="441.00" cy="222.64" r="1.2" fill="#808c96" stroke="#4c5862" stroke-width="0.55"/>
<circle cx="437.40" cy="223.28" r="1.2" fill="#c8d6e0" stroke="#4c5862" stroke-width="0.55"/>
<circle cx="439.20" cy="227.27" r="1.2" fill="#6d7c88" stroke="#4c5862" stroke-width="0.55"/>
<path d="M439.80,229.05L441.00,226.85L442.20,229.05Z" fill="#7a8288" stroke="#505a60" stroke-width="0.3"/>
<circle cx="439.20" cy="229.29" r="1.2" fill="#dfe6ec" stroke="#4c5862" stroke-width="0.55"/>
<circle cx="441.00" cy="229.61" r="1.2" fill="#a4b8c8" stroke="#4c5862" stroke-width="0.55"/>
<path d="M436.20,230.93L437.40,228.73L438.60,230.93Z" fill="#7a8288" stroke="#505a60" stroke-width="0.3"/>
<circle cx="439.20" cy="231.31" r="1.2" fill="#c8d6e0" stroke="#4c5862" stroke-width="0.55"/>
<path d="M439.80,233.08L441.00,230.88L442.20,233.08Z" fill="#7a8288" stroke="#505a60" stroke-width="0.3"/>
<circle cx="437.40" cy="232.42" r="1.2" fill="#dfe6ec" stroke="#4c5862" stroke-width="0.55"/>
<rect x="436.40" y="217.00" width="5.6" height="2" fill="#c4223c"/>
<rect x="445.90" y="181.20" width="2" height="2" fill="#6d7c88" stroke="#5a6670" stroke-width="0.4"/>
<circle cx="446.90" cy="190.50" r="1.2" fill="#a4b8c8" stroke="#4c5862" stroke-width="0.55"/>
<path d="M447.50,192.35L448.70,190.15L449.90,192.35Z" fill="#7a8288" stroke="#505a60" stroke-width="0.3"/>
<circle cx="445.10" cy="191.50" r="1.2" fill="#b4c6d4" stroke="#4c5862" stroke-width="0.55"/>
<circle cx="446.90" cy="192.14" r="1.2" fill="#dfe6ec" stroke="#4c5862" stroke-width="0.55"/>
<path d="M443.10,193.33L444.30,191.13L445.50,193.33Z" fill="#7a8288" stroke="#505a60" stroke-width="0.3"/>
<circle cx="444.30" cy="192.45" r="1.2" fill="#b4c6d4" stroke="#4c5862" stroke-width="0.55"/>
<circle cx="447.80" cy="193.30" r="1.2" fill="#a4b8c8" stroke="#4c5862" stroke-width="0.55"/>
<rect x="445.90" y="197.72" width="2" height="2" fill="#b4c6d4" stroke="#5a6670" stroke-width="0.4"/>
<circle cx="448.70" cy="199.54" r="1.2" fill="#c8d6e0" stroke="#4c5862" stroke-width="0.55"/>
<path d="M443.90,200.83L445.10,198.63L446.30,200.83Z" fill="#7a8288" stroke="#505a60" stroke-width="0.3"/>
<path d="M445.70,201.55L446.90,199.35L448.10,201.55Z" fill="#7a8288" stroke="#505a60" stroke-width="0.3"/>
<circle cx="448.70" cy="201.27" r="1.2" fill="#a4b8c8" stroke="#4c5862" stroke-width="0.55"/>
<circle cx="445.10" cy="201.62" r="1.2" fill="#c8d6e0" stroke="#4c5862" stroke-width="0.55"/>
<circle cx="446.90" cy="204.76" r="1.2" fill="#a4b8c8" stroke="#4c5862" stroke-width="0.55"/>
<circle cx="446.90" cy="206.36" r="1.2" fill="#7c94a8" stroke="#4c5862" stroke-width="0.55"/>
<circle cx="448.70" cy="206.92" r="1.2" fill="#9fb2c2" stroke="#4c5862" stroke-width="0.55"/>
<path d="M443.90,208.35L445.10,206.15L446.30,208.35Z" fill="#7a8288" stroke="#505a60" stroke-width="0.3"/>
<circle cx="444.30" cy="207.46" r="1.2" fill="#a4b8c8" stroke="#4c5862" stroke-width="0.55"/>
<path d="M445.70,209.50L446.90,207.30L448.10,209.50Z" fill="#7a8288" stroke="#505a60" stroke-width="0.3"/>
<path d="M446.60,210.75L447.80,208.55L449.00,210.75Z" fill="#7a8288" stroke="#505a60" stroke-width="0.3"/>
<rect x="445.90" y="210.47" width="2" height="2" fill="#6d7c88" stroke="#5a6670" stroke-width="0.4"/>
<circle cx="448.70" cy="211.63" r="1.2" fill="#7c94a8" stroke="#4c5862" stroke-width="0.55"/>
<rect x="444.10" y="211.45" width="2" height="2" fill="#9fb2c2" stroke="#5a6670" stroke-width="0.4"/>
<circle cx="446.90" cy="214.41" r="1.2" fill="#808c96" stroke="#4c5862" stroke-width="0.55"/>
<circle cx="448.70" cy="215.23" r="1.2" fill="#587a7a" stroke="#4c5862" stroke-width="0.55"/>
<circle cx="445.10" cy="215.33" r="1.2" fill="#c8d6e0" stroke="#4c5862" stroke-width="0.55"/>
<circle cx="446.90" cy="215.87" r="1.2" fill="#dfe6ec" stroke="#4c5862" stroke-width="0.55"/>
<circle cx="444.30" cy="216.16" r="1.2" fill="#b4c6d4" stroke="#4c5862" stroke-width="0.55"/>
<circle cx="447.80" cy="217.04" r="1.2" fill="#a4b8c8" stroke="#4c5862" stroke-width="0.55"/>
<path d="M445.70,219.30L446.90,217.10L448.10,219.30Z" fill="#7a8288" stroke="#505a60" stroke-width="0.3"/>
<rect x="447.70" y="217.57" width="2" height="2" fill="#c8d6e0" stroke="#5a6670" stroke-width="0.4"/>
<circle cx="446.90" cy="221.77" r="1.2" fill="#9fb2c2" stroke="#4c5862" stroke-width="0.55"/>
<circle cx="448.70" cy="221.77" r="1.2" fill="#4f7f7e" stroke="#4c5862" stroke-width="0.55"/>
<circle cx="445.10" cy="222.74" r="1.2" fill="#9fb2c2" stroke="#4c5862" stroke-width="0.55"/>
<path d="M445.70,229.58L446.90,227.38L448.10,229.58Z" fill="#7a8288" stroke="#505a60" stroke-width="0.3"/>
<circle cx="448.70" cy="228.64" r="1.2" fill="#808c96" stroke="#4c5862" stroke-width="0.55"/>
<circle cx="446.90" cy="230.83" r="1.2" fill="#9fb2c2" stroke="#4c5862" stroke-width="0.55"/>
<circle cx="446.90" cy="233.50" r="1.2" fill="#6d7c88" stroke="#4c5862" stroke-width="0.55"/>
<rect x="444.10" y="208.50" width="5.6" height="2" fill="#c4223c"/>
<line x1="459.00" y1="240.00" x2="459.00" y2="241.30" stroke="#000" stroke-width="0.8"/>
<line x1="466.70" y1="240.00" x2="466.70" y2="241.30" stroke="#000" stroke-width="0.8"/>
<text x="459.00" y="247.60" font-size="4.7" font-weight="bold" text-anchor="middle" >D</text>
<text x="466.70" y="247.60" font-size="4.7" font-weight="bold" text-anchor="middle" >R</text>
<line x1="456.50" y1="249.10" x2="469.20" y2="249.10" stroke="#000" stroke-width="0.7"/>
<text x="462.85" y="255.20" font-size="5.0" font-weight="bold" text-anchor="middle" >2</text>
<circle cx="459.00" cy="195.00" r="1.2" fill="#c8d6e0" stroke="#4c5862" stroke-width="0.55"/>
<circle cx="459.90" cy="196.36" r="1.2" fill="#a4b8c8" stroke="#4c5862" stroke-width="0.55"/>
<circle cx="458.10" cy="197.45" r="1.2" fill="#587a7a" stroke="#4c5862" stroke-width="0.55"/>
<rect x="458.00" y="198.72" width="2" height="2" fill="#dfe6ec" stroke="#5a6670" stroke-width="0.4"/>
<circle cx="460.80" cy="200.09" r="1.2" fill="#c8d6e0" stroke="#4c5862" stroke-width="0.55"/>
<circle cx="457.20" cy="200.16" r="1.2" fill="#dfe6ec" stroke="#4c5862" stroke-width="0.55"/>
<rect x="458.00" y="201.60" width="2" height="2" fill="#7c94a8" stroke="#5a6670" stroke-width="0.4"/>
<circle cx="459.00" cy="204.51" r="1.2" fill="#4f7f7e" stroke="#4c5862" stroke-width="0.55"/>
<path d="M457.80,209.22L459.00,207.02L460.20,209.22Z" fill="#7a8288" stroke="#505a60" stroke-width="0.3"/>
<circle cx="460.80" cy="208.58" r="1.2" fill="#6d7c88" stroke="#4c5862" stroke-width="0.55"/>
<circle cx="457.20" cy="208.87" r="1.2" fill="#dfe6ec" stroke="#4c5862" stroke-width="0.55"/>
<circle cx="459.00" cy="210.08" r="1.2" fill="#c8d6e0" stroke="#4c5862" stroke-width="0.55"/>
<circle cx="460.80" cy="210.38" r="1.2" fill="#6d7c88" stroke="#4c5862" stroke-width="0.55"/>
<circle cx="459.00" cy="211.97" r="1.2" fill="#dfe6ec" stroke="#4c5862" stroke-width="0.55"/>
<circle cx="460.80" cy="212.62" r="1.2" fill="#c8d6e0" stroke="#4c5862" stroke-width="0.55"/>
<path d="M457.80,214.56L459.00,212.36L460.20,214.56Z" fill="#7a8288" stroke="#505a60" stroke-width="0.3"/>
<circle cx="459.90" cy="214.93" r="1.2" fill="#587a7a" stroke="#4c5862" stroke-width="0.55"/>
<path d="M456.90,216.52L458.10,214.32L459.30,216.52Z" fill="#7a8288" stroke="#505a60" stroke-width="0.3"/>
<circle cx="461.60" cy="215.76" r="1.2" fill="#587a7a" stroke="#4c5862" stroke-width="0.55"/>
<circle cx="459.90" cy="216.46" r="1.2" fill="#c8d6e0" stroke="#4c5862" stroke-width="0.55"/>
<circle cx="458.10" cy="217.16" r="1.2" fill="#808c96" stroke="#4c5862" stroke-width="0.55"/>
<circle cx="459.00" cy="218.57" r="1.2" fill="#c8d6e0" stroke="#4c5862" stroke-width="0.55"/>
<circle cx="460.80" cy="219.00" r="1.2" fill="#7c94a8" stroke="#4c5862" stroke-width="0.55"/>
<path d="M457.80,221.66L459.00,219.46L460.20,221.66Z" fill="#7a8288" stroke="#505a60" stroke-width="0.3"/>
<circle cx="460.80" cy="221.33" r="1.2" fill="#b4c6d4" stroke="#4c5862" stroke-width="0.55"/>
<circle cx="457.20" cy="221.61" r="1.2" fill="#808c96" stroke="#4c5862" stroke-width="0.55"/>
<circle cx="456.40" cy="221.74" r="1.2" fill="#6d7c88" stroke="#4c5862" stroke-width="0.55"/>
<circle cx="459.00" cy="222.24" r="1.2" fill="#b4c6d4" stroke="#4c5862" stroke-width="0.55"/>
<circle cx="460.80" cy="223.12" r="1.2" fill="#7c94a8" stroke="#4c5862" stroke-width="0.55"/>
<circle cx="458.10" cy="223.56" r="1.2" fill="#7c94a8" stroke="#4c5862" stroke-width="0.55"/>
<circle cx="456.40" cy="224.18" r="1.2" fill="#6d7c88" stroke="#4c5862" stroke-width="0.55"/>
<circle cx="459.00" cy="226.53" r="1.2" fill="#6d7c88" stroke="#4c5862" stroke-width="0.55"/>
<circle cx="460.80" cy="227.27" r="1.2" fill="#7c94a8" stroke="#4c5862" stroke-width="0.55"/>
<path d="M456.00,228.41L457.20,226.21L458.40,228.41Z" fill="#7a8288" stroke="#505a60" stroke-width="0.3"/>
<path d="M457.80,229.07L459.00,226.87L460.20,229.07Z" fill="#7a8288" stroke="#505a60" stroke-width="0.3"/>
<circle cx="456.40" cy="228.19" r="1.2" fill="#dfe6ec" stroke="#4c5862" stroke-width="0.55"/>
<circle cx="459.00" cy="230.01" r="1.2" fill="#808c96" stroke="#4c5862" stroke-width="0.55"/>
<circle cx="459.00" cy="231.60" r="1.2" fill="#4f7f7e" stroke="#4c5862" stroke-width="0.55"/>
<circle cx="459.00" cy="233.50" r="1.2" fill="#b4c6d4" stroke="#4c5862" stroke-width="0.55"/>
<circle cx="460.80" cy="233.50" r="1.2" fill="#c8d6e0" stroke="#4c5862" stroke-width="0.55"/>
<rect x="456.20" y="215.00" width="5.6" height="2" fill="#c4223c"/>
<circle cx="466.70" cy="183.60" r="1.2" fill="#4f7f7e" stroke="#4c5862" stroke-width="0.55"/>
<circle cx="468.50" cy="183.61" r="1.2" fill="#7c94a8" stroke="#4c5862" stroke-width="0.55"/>
<circle cx="466.70" cy="185.35" r="1.2" fill="#c8d6e0" stroke="#4c5862" stroke-width="0.55"/>
<path d="M465.50,188.16L466.70,185.96L467.90,188.16Z" fill="#7a8288" stroke="#505a60" stroke-width="0.3"/>
<circle cx="467.60" cy="188.48" r="1.2" fill="#c8d6e0" stroke="#4c5862" stroke-width="0.55"/>
<circle cx="465.80" cy="189.32" r="1.2" fill="#dfe6ec" stroke="#4c5862" stroke-width="0.55"/>
<circle cx="468.50" cy="189.64" r="1.2" fill="#587a7a" stroke="#4c5862" stroke-width="0.55"/>
<rect x="463.10" y="188.76" width="2" height="2" fill="#c8d6e0" stroke="#5a6670" stroke-width="0.4"/>
<circle cx="464.10" cy="189.87" r="1.2" fill="#587a7a" stroke="#4c5862" stroke-width="0.55"/>
<circle cx="464.10" cy="190.31" r="1.2" fill="#a4b8c8" stroke="#4c5862" stroke-width="0.55"/>
<path d="M465.50,191.58L466.70,189.38L467.90,191.58Z" fill="#7a8288" stroke="#505a60" stroke-width="0.3"/>
<circle cx="466.70" cy="194.35" r="1.2" fill="#b4c6d4" stroke="#4c5862" stroke-width="0.55"/>
<circle cx="468.50" cy="195.00" r="1.2" fill="#b4c6d4" stroke="#4c5862" stroke-width="0.55"/>
<circle cx="466.70" cy="199.16" r="1.2" fill="#4f7f7e" stroke="#4c5862" stroke-width="0.55"/>
<circle cx="468.50" cy="199.35" r="1.2" fill="#c8d6e0" stroke="#4c5862" stroke-width="0.55"/>
<rect x="465.70" y="200.16" width="2" height="2" fill="#c8d6e0" stroke="#5a6670" stroke-width="0.4"/>
<circle cx="466.70" cy="202.71" r="1.2" fill="#9fb2c2" stroke="#4c5862" stroke-width="0.55"/>
<rect x="466.60" y="203.00" width="2" height="2" fill="#dfe6ec" stroke="#5a6670" stroke-width="0.4"/>
<circle cx="466.70" cy="205.15" r="1.2" fill="#6d7c88" stroke="#4c5862" stroke-width="0.55"/>
<circle cx="468.50" cy="205.30" r="1.2" fill="#4f7f7e" stroke="#4c5862" stroke-width="0.55"/>
<circle cx="464.90" cy="205.86" r="1.2" fill="#587a7a" stroke="#4c5862" stroke-width="0.55"/>
<path d="M465.50,208.56L466.70,206.36L467.90,208.56Z" fill="#7a8288" stroke="#505a60" stroke-width="0.3"/>
<circle cx="468.50" cy="208.02" r="1.2" fill="#b4c6d4" stroke="#4c5862" stroke-width="0.55"/>
<circle cx="464.90" cy="208.42" r="1.2" fill="#c8d6e0" stroke="#4c5862" stroke-width="0.55"/>
<circle cx="466.70" cy="209.63" r="1.2" fill="#4f7f7e" stroke="#4c5862" stroke-width="0.55"/>
<circle cx="468.50" cy="210.23" r="1.2" fill="#4f7f7e" stroke="#4c5862" stroke-width="0.55"/>
<circle cx="466.70" cy="211.62" r="1.2" fill="#c8d6e0" stroke="#4c5862" stroke-width="0.55"/>
<circle cx="466.70" cy="216.35" r="1.2" fill="#c8d6e0" stroke="#4c5862" stroke-width="0.55"/>
<circle cx="468.50" cy="216.71" r="1.2" fill="#4f7f7e" stroke="#4c5862" stroke-width="0.55"/>
<circle cx="464.90" cy="217.01" r="1.2" fill="#a4b8c8" stroke="#4c5862" stroke-width="0.55"/>
<circle cx="464.10" cy="217.71" r="1.2" fill="#808c96" stroke="#4c5862" stroke-width="0.55"/>
<circle cx="466.70" cy="220.43" r="1.2" fill="#6d7c88" stroke="#4c5862" stroke-width="0.55"/>
<circle cx="468.50" cy="220.96" r="1.2" fill="#dfe6ec" stroke="#4c5862" stroke-width="0.55"/>
<circle cx="464.90" cy="221.32" r="1.2" fill="#b4c6d4" stroke="#4c5862" stroke-width="0.55"/>
<circle cx="466.70" cy="225.23" r="1.2" fill="#b4c6d4" stroke="#4c5862" stroke-width="0.55"/>
<circle cx="468.50" cy="226.16" r="1.2" fill="#a4b8c8" stroke="#4c5862" stroke-width="0.55"/>
<circle cx="466.70" cy="228.52" r="1.2" fill="#587a7a" stroke="#4c5862" stroke-width="0.55"/>
<circle cx="466.70" cy="233.42" r="1.2" fill="#c8d6e0" stroke="#4c5862" stroke-width="0.55"/>
<circle cx="468.50" cy="233.50" r="1.2" fill="#c8d6e0" stroke="#4c5862" stroke-width="0.55"/>
<rect x="463.90" y="199.00" width="5.6" height="2" fill="#c4223c"/>
<line x1="478.80" y1="240.00" x2="478.80" y2="241.30" stroke="#000" stroke-width="0.8"/>
<line x1="486.50" y1="240.00" x2="486.50" y2="241.30" stroke="#000" stroke-width="0.8"/>
<text x="478.80" y="247.60" font-size="4.7" font-weight="bold" text-anchor="middle" >D</text>
<text x="486.50" y="247.60" font-size="4.7" font-weight="bold" text-anchor="middle" >R</text>
<line x1="476.30" y1="249.10" x2="489.00" y2="249.10" stroke="#000" stroke-width="0.7"/>
<text x="482.65" y="255.20" font-size="5.0" font-weight="bold" text-anchor="middle" >1</text>
<circle cx="478.80" cy="192.80" r="1.2" fill="#a4b8c8" stroke="#4c5862" stroke-width="0.55"/>
<circle cx="480.60" cy="193.71" r="1.2" fill="#dfe6ec" stroke="#4c5862" stroke-width="0.55"/>
<circle cx="478.80" cy="194.25" r="1.2" fill="#808c96" stroke="#4c5862" stroke-width="0.55"/>
<path d="M475.80,196.00L477.00,193.80L478.20,196.00Z" fill="#7a8288" stroke="#505a60" stroke-width="0.3"/>
<path d="M477.60,198.70L478.80,196.50L480.00,198.70Z" fill="#7a8288" stroke="#505a60" stroke-width="0.3"/>
<path d="M479.40,198.73L480.60,196.53L481.80,198.73Z" fill="#7a8288" stroke="#505a60" stroke-width="0.3"/>
<circle cx="477.00" cy="197.77" r="1.2" fill="#7c94a8" stroke="#4c5862" stroke-width="0.55"/>
<rect x="477.80" y="198.21" width="2" height="2" fill="#9fb2c2" stroke="#5a6670" stroke-width="0.4"/>
<path d="M479.40,200.44L480.60,198.24L481.80,200.44Z" fill="#7a8288" stroke="#505a60" stroke-width="0.3"/>
<circle cx="477.00" cy="199.70" r="1.2" fill="#4f7f7e" stroke="#4c5862" stroke-width="0.55"/>
<rect x="477.80" y="200.11" width="2" height="2" fill="#c8d6e0" stroke="#5a6670" stroke-width="0.4"/>
<circle cx="480.60" cy="201.80" r="1.2" fill="#4f7f7e" stroke="#4c5862" stroke-width="0.55"/>
<circle cx="478.80" cy="203.37" r="1.2" fill="#dfe6ec" stroke="#4c5862" stroke-width="0.55"/>
<circle cx="480.60" cy="203.74" r="1.2" fill="#a4b8c8" stroke="#4c5862" stroke-width="0.55"/>
<circle cx="477.90" cy="204.66" r="1.2" fill="#587a7a" stroke="#4c5862" stroke-width="0.55"/>
<circle cx="479.70" cy="205.13" r="1.2" fill="#a4b8c8" stroke="#4c5862" stroke-width="0.55"/>
<circle cx="478.80" cy="206.46" r="1.2" fill="#c8d6e0" stroke="#4c5862" stroke-width="0.55"/>
<path d="M479.40,207.48L480.60,205.28L481.80,207.48Z" fill="#7a8288" stroke="#505a60" stroke-width="0.3"/>
<circle cx="477.00" cy="206.79" r="1.2" fill="#9fb2c2" stroke="#4c5862" stroke-width="0.55"/>
<circle cx="476.20" cy="207.22" r="1.2" fill="#dfe6ec" stroke="#4c5862" stroke-width="0.55"/>
<circle cx="478.80" cy="208.78" r="1.2" fill="#c8d6e0" stroke="#4c5862" stroke-width="0.55"/>
<path d="M479.40,210.71L480.60,208.51L481.80,210.71Z" fill="#7a8288" stroke="#505a60" stroke-width="0.3"/>
<rect x="477.80" y="210.80" width="2" height="2" fill="#b4c6d4" stroke="#5a6670" stroke-width="0.4"/>
<path d="M479.40,213.19L480.60,210.99L481.80,213.19Z" fill="#7a8288" stroke="#505a60" stroke-width="0.3"/>
<path d="M476.70,214.06L477.90,211.86L479.10,214.06Z" fill="#7a8288" stroke="#505a60" stroke-width="0.3"/>
<path d="M477.60,215.47L478.80,213.27L480.00,215.47Z" fill="#7a8288" stroke="#505a60" stroke-width="0.3"/>
<circle cx="480.60" cy="214.68" r="1.2" fill="#4f7f7e" stroke="#4c5862" stroke-width="0.55"/>
<circle cx="477.00" cy="215.17" r="1.2" fill="#4f7f7e" stroke="#4c5862" stroke-width="0.55"/>
<circle cx="476.20" cy="215.55" r="1.2" fill="#dfe6ec" stroke="#4c5862" stroke-width="0.55"/>
<circle cx="476.20" cy="215.74" r="1.2" fill="#dfe6ec" stroke="#4c5862" stroke-width="0.55"/>
<circle cx="476.20" cy="215.76" r="1.2" fill="#4f7f7e" stroke="#4c5862" stroke-width="0.55"/>
<circle cx="479.70" cy="215.85" r="1.2" fill="#b4c6d4" stroke="#4c5862" stroke-width="0.55"/>
<rect x="477.80" y="216.09" width="2" height="2" fill="#c8d6e0" stroke="#5a6670" stroke-width="0.4"/>
<circle cx="480.60" cy="217.27" r="1.2" fill="#c8d6e0" stroke="#4c5862" stroke-width="0.55"/>
<circle cx="477.00" cy="217.49" r="1.2" fill="#b4c6d4" stroke="#4c5862" stroke-width="0.55"/>
<circle cx="476.20" cy="217.72" r="1.2" fill="#808c96" stroke="#4c5862" stroke-width="0.55"/>
<circle cx="478.80" cy="218.63" r="1.2" fill="#b4c6d4" stroke="#4c5862" stroke-width="0.55"/>
<circle cx="480.60" cy="219.62" r="1.2" fill="#587a7a" stroke="#4c5862" stroke-width="0.55"/>
<path d="M477.60,234.50L478.80,232.30L480.00,234.50Z" fill="#7a8288" stroke="#505a60" stroke-width="0.3"/>
<rect x="476.00" y="205.60" width="5.6" height="2" fill="#c4223c"/>
<circle cx="486.50" cy="188.00" r="1.2" fill="#6d7c88" stroke="#4c5862" stroke-width="0.55"/>
<circle cx="488.30" cy="188.18" r="1.2" fill="#7c94a8" stroke="#4c5862" stroke-width="0.55"/>
<circle cx="487.40" cy="189.33" r="1.2" fill="#9fb2c2" stroke="#4c5862" stroke-width="0.55"/>
<circle cx="485.60" cy="189.93" r="1.2" fill="#b4c6d4" stroke="#4c5862" stroke-width="0.55"/>
<circle cx="489.10" cy="190.42" r="1.2" fill="#c8d6e0" stroke="#4c5862" stroke-width="0.55"/>
<path d="M486.20,191.87L487.40,189.67L488.60,191.87Z" fill="#7a8288" stroke="#505a60" stroke-width="0.3"/>
<circle cx="486.50" cy="192.88" r="1.2" fill="#587a7a" stroke="#4c5862" stroke-width="0.55"/>
<circle cx="488.30" cy="193.31" r="1.2" fill="#c8d6e0" stroke="#4c5862" stroke-width="0.55"/>
<circle cx="484.70" cy="193.54" r="1.2" fill="#dfe6ec" stroke="#4c5862" stroke-width="0.55"/>
<circle cx="486.50" cy="194.50" r="1.2" fill="#6d7c88" stroke="#4c5862" stroke-width="0.55"/>
<circle cx="483.90" cy="194.51" r="1.2" fill="#b4c6d4" stroke="#4c5862" stroke-width="0.55"/>
<path d="M487.10,196.09L488.30,193.89L489.50,196.09Z" fill="#7a8288" stroke="#505a60" stroke-width="0.3"/>
<circle cx="485.60" cy="195.92" r="1.2" fill="#b4c6d4" stroke="#4c5862" stroke-width="0.55"/>
<circle cx="483.90" cy="195.96" r="1.2" fill="#808c96" stroke="#4c5862" stroke-width="0.55"/>
<circle cx="487.40" cy="196.75" r="1.2" fill="#a4b8c8" stroke="#4c5862" stroke-width="0.55"/>
<circle cx="485.60" cy="197.76" r="1.2" fill="#7c94a8" stroke="#4c5862" stroke-width="0.55"/>
<rect x="485.50" y="199.05" width="2" height="2" fill="#808c96" stroke="#5a6670" stroke-width="0.4"/>
<circle cx="488.30" cy="200.42" r="1.2" fill="#c8d6e0" stroke="#4c5862" stroke-width="0.55"/>
<circle cx="484.70" cy="200.88" r="1.2" fill="#a4b8c8" stroke="#4c5862" stroke-width="0.55"/>
<circle cx="486.50" cy="201.85" r="1.2" fill="#587a7a" stroke="#4c5862" stroke-width="0.55"/>
<rect x="487.30" y="200.98" width="2" height="2" fill="#c8d6e0" stroke="#5a6670" stroke-width="0.4"/>
<circle cx="486.50" cy="203.58" r="1.2" fill="#4f7f7e" stroke="#4c5862" stroke-width="0.55"/>
<circle cx="488.30" cy="204.23" r="1.2" fill="#4f7f7e" stroke="#4c5862" stroke-width="0.55"/>
<circle cx="484.70" cy="204.49" r="1.2" fill="#b4c6d4" stroke="#4c5862" stroke-width="0.55"/>
<circle cx="486.50" cy="205.65" r="1.2" fill="#808c96" stroke="#4c5862" stroke-width="0.55"/>
<circle cx="486.50" cy="208.42" r="1.2" fill="#a4b8c8" stroke="#4c5862" stroke-width="0.55"/>
<circle cx="488.30" cy="208.76" r="1.2" fill="#587a7a" stroke="#4c5862" stroke-width="0.55"/>
<circle cx="484.70" cy="209.22" r="1.2" fill="#9fb2c2" stroke="#4c5862" stroke-width="0.55"/>
<circle cx="486.50" cy="210.66" r="1.2" fill="#dfe6ec" stroke="#4c5862" stroke-width="0.55"/>
<circle cx="488.30" cy="210.69" r="1.2" fill="#7c94a8" stroke="#4c5862" stroke-width="0.55"/>
<circle cx="484.70" cy="211.23" r="1.2" fill="#dfe6ec" stroke="#4c5862" stroke-width="0.55"/>
<circle cx="486.50" cy="213.51" r="1.2" fill="#9fb2c2" stroke="#4c5862" stroke-width="0.55"/>
<circle cx="486.50" cy="216.75" r="1.2" fill="#587a7a" stroke="#4c5862" stroke-width="0.55"/>
<rect x="487.30" y="216.12" width="2" height="2" fill="#6d7c88" stroke="#5a6670" stroke-width="0.4"/>
<circle cx="484.70" cy="217.78" r="1.2" fill="#a4b8c8" stroke="#4c5862" stroke-width="0.55"/>
<circle cx="486.50" cy="221.60" r="1.2" fill="#dfe6ec" stroke="#4c5862" stroke-width="0.55"/>
<circle cx="486.50" cy="223.05" r="1.2" fill="#c8d6e0" stroke="#4c5862" stroke-width="0.55"/>
<circle cx="488.30" cy="223.63" r="1.2" fill="#9fb2c2" stroke="#4c5862" stroke-width="0.55"/>
<circle cx="486.50" cy="233.50" r="1.2" fill="#6d7c88" stroke="#4c5862" stroke-width="0.55"/>
<circle cx="488.30" cy="233.50" r="1.2" fill="#a4b8c8" stroke="#4c5862" stroke-width="0.55"/>
<rect x="483.70" y="200.70" width="5.6" height="2" fill="#c4223c"/>
<path d="M438.70,175.00V173.40H448.10V175.00" fill="none" stroke="#000" stroke-width="0.75"/>
<text x="443.45" y="173.50" font-size="5.4" font-weight="bold" text-anchor="middle" >*</text>
<path d="M458.50,175.00V173.40H467.90V175.00" fill="none" stroke="#000" stroke-width="0.75"/>
<text x="463.25" y="173.50" font-size="5.4" font-weight="bold" text-anchor="middle" >**</text>
<line x1="268.20" y1="263.50" x2="512.00" y2="263.50" stroke="#000" stroke-width="1.1"/>
<path d="M510.8,260.4L519,263.5L510.8,266.6Z" fill="#000"/>
<text x="374.90" y="275.50" font-size="8.3" font-weight="bold" text-anchor="start" textLength="43.9" lengthAdjust="spacingAndGlyphs">Function(s)</text>
</svg></body></html>
